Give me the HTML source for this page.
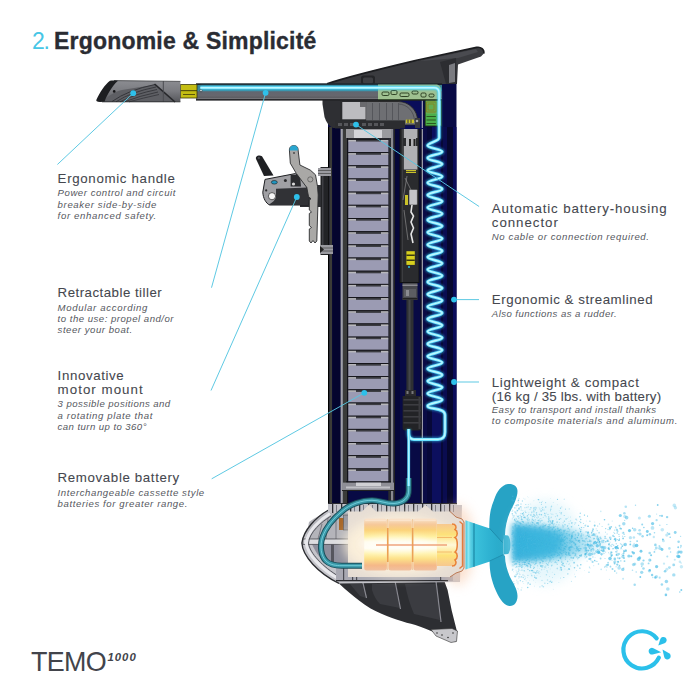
<!DOCTYPE html>
<html><head><meta charset="utf-8"><style>
html,body{margin:0;padding:0;background:#ffffff;}
body{width:690px;height:690px;position:relative;overflow:hidden;font-family:"Liberation Sans",sans-serif;}
.t{position:absolute;white-space:nowrap;line-height:1;}
</style></head><body>
<svg width="690" height="690" viewBox="0 0 690 690" style="position:absolute;left:0;top:0"><defs>
<radialGradient id="glow" cx="0.45" cy="0.5" r="0.6">
 <stop offset="0" stop-color="#fffdf0"/>
 <stop offset="0.45" stop-color="#fff2c8"/>
 <stop offset="0.8" stop-color="#f8c99a"/>
 <stop offset="1" stop-color="#f0b088"/>
</radialGradient>
<linearGradient id="cyl" x1="0" y1="0" x2="0" y2="1">
 <stop offset="0" stop-color="#f8e2cc"/>
 <stop offset="0.12" stop-color="#f6c898"/>
 <stop offset="0.22" stop-color="#fbd27a"/>
 <stop offset="0.35" stop-color="#fff0a0"/>
 <stop offset="0.45" stop-color="#fffbe6"/>
 <stop offset="0.57" stop-color="#fffdf2"/>
 <stop offset="0.68" stop-color="#fff3b0"/>
 <stop offset="0.78" stop-color="#fce088"/>
 <stop offset="0.9" stop-color="#f5b888"/>
 <stop offset="1" stop-color="#f0c0a0"/>
</linearGradient>
<linearGradient id="cyl2" x1="0" y1="0" x2="0" y2="1">
 <stop offset="0" stop-color="#f7c890"/>
 <stop offset="0.25" stop-color="#fde27a"/>
 <stop offset="0.5" stop-color="#fff8d8"/>
 <stop offset="0.75" stop-color="#fde27a"/>
 <stop offset="1" stop-color="#f7c890"/>
</linearGradient>
<linearGradient id="core" x1="0" y1="0" x2="1" y2="0">
 <stop offset="0" stop-color="#29abd9" stop-opacity="0.95"/>
 <stop offset="0.45" stop-color="#33b2dd" stop-opacity="0.75"/>
 <stop offset="1" stop-color="#6cc8ea" stop-opacity="0"/>
</linearGradient>
<radialGradient id="spr" cx="0.3" cy="0.5" r="0.7">
 <stop offset="0" stop-color="#2fb1dc" stop-opacity="0.95"/>
 <stop offset="0.5" stop-color="#45bde2" stop-opacity="0.6"/>
 <stop offset="1" stop-color="#7fd3ee" stop-opacity="0"/>
</radialGradient>
<radialGradient id="spr2" cx="0.2" cy="0.5" r="0.8">
 <stop offset="0" stop-color="#8fd6ee" stop-opacity="0.7"/>
 <stop offset="1" stop-color="#cfeef8" stop-opacity="0"/>
</radialGradient>
<linearGradient id="hub" x1="0" y1="0" x2="1" y2="0">
 <stop offset="0" stop-color="#3cc2dc"/>
 <stop offset="0.5" stop-color="#2fb3d2"/>
 <stop offset="1" stop-color="#27a8c8"/>
</linearGradient>
<linearGradient id="ring" x1="0" y1="0" x2="1" y2="0">
 <stop offset="0" stop-color="#46c4dc"/>
 <stop offset="0.35" stop-color="#8ae8f4"/>
 <stop offset="0.6" stop-color="#5cd0e4"/>
 <stop offset="1" stop-color="#38bcd8"/>
</linearGradient>
<linearGradient id="tube" x1="0" y1="0" x2="0" y2="1">
 <stop offset="0" stop-color="#1e2226"/>
 <stop offset="0.09" stop-color="#1e2428"/>
 <stop offset="0.12" stop-color="#3a7f90"/>
 <stop offset="0.45" stop-color="#3a8ea4"/>
 <stop offset="0.48" stop-color="#626670"/>
 <stop offset="0.7" stop-color="#66676e"/>
 <stop offset="0.85" stop-color="#5c5d62"/>
 <stop offset="0.88" stop-color="#737378"/>
 <stop offset="0.92" stop-color="#2a2a2e"/>
 <stop offset="1" stop-color="#1e1f22"/>
</linearGradient>
<linearGradient id="grip" x1="0" y1="0" x2="0" y2="1">
 <stop offset="0" stop-color="#8c8d92"/>
 <stop offset="0.5" stop-color="#7a7b80"/>
 <stop offset="1" stop-color="#56575c"/>
</linearGradient>
<filter id="blur1" x="-20%" y="-20%" width="140%" height="140%"><feGaussianBlur stdDeviation="1.2"/></filter>
<filter id="blur3" x="-30%" y="-30%" width="160%" height="160%"><feGaussianBlur stdDeviation="3"/></filter>
<filter id="blur6" x="-30%" y="-30%" width="160%" height="160%"><feGaussianBlur stdDeviation="6"/></filter>
</defs>
<rect x="328" y="84" width="128.5" height="420" fill="#080a45"/>
<rect x="328" y="127" width="1.3" height="376" fill="#000"/>
<rect x="329.3" y="127" width="3" height="376" fill="#3a3b36"/>
<rect x="332.3" y="127" width="8.5" height="376" fill="#04052e"/>
<rect x="340.6" y="127" width="2.3" height="376" fill="#a0a0a8"/>
<rect x="342.9" y="127" width="4.4" height="376" fill="#3a3b3a"/>
<rect x="347.2" y="127" width="1" height="376" fill="#111"/>
<rect x="388.3" y="127" width="2.7" height="376" fill="#2a2b30"/>
<rect x="391" y="127" width="2.5" height="376" fill="#8a8a90"/>
<rect x="393.5" y="127" width="1.5" height="376" fill="#222"/>
<rect x="395" y="127" width="5" height="376" fill="#06073a"/>
<rect x="420.5" y="127" width="1.2" height="376" fill="#111"/>
<rect x="421.7" y="127" width="1.3" height="376" fill="#9a9aa8"/>
<rect x="423" y="127" width="4" height="376" fill="#0a0b45"/>
<rect x="427" y="127" width="5" height="376" fill="#070838"/>
<rect x="432" y="127" width="9" height="376" fill="#0c0f5e"/>
<rect x="441" y="127" width="2" height="376" fill="#070838"/>
<rect x="443" y="127" width="4" height="376" fill="#0a0c50"/>
<rect x="447" y="127" width="6" height="376" fill="#06072e"/>
<rect x="453" y="127" width="3.5" height="376" fill="#0a0b5a"/>
<rect x="399.5" y="110" width="20" height="173" fill="#111214"/>
<rect x="400.5" y="110" width="18" height="172" fill="#2a2b2e"/>
<rect x="402" y="112" width="1" height="170" fill="#3c3d40"/>
<rect x="406" y="120" width="10" height="2.5" fill="#c9c12a"/>
<path d="M403.8,122.4 L417.4,122.4 L417.4,138 L403.8,138 Z M406,138 L416,138 L416,146 L406,146 Z M403.8,146 L417.4,146 L417.4,169.5 L403.8,169.5 Z" fill="#b0b0b4"/>
<rect x="409" y="139" width="2" height="7" fill="#222"/>
<rect x="413.5" y="139" width="2" height="7" fill="#222"/>
<rect x="406" y="170" width="10" height="3" fill="#c9c12a"/>
<rect x="406" y="171" width="10" height="0.8" fill="#333"/>
<rect x="409" y="189.4" width="8.4" height="15.6" rx="1" fill="#c4c4c8" stroke="#333" stroke-width="0.6"/>
<path d="M412,205 L411,212 L413.5,216 L411,222 L413.5,228 L411,234 L413,243" fill="none" stroke="#e6e6e6" stroke-width="1.6"/>
<path d="M405,178 L411,190 M407,176 L403,200 M404,210 L408,240" fill="none" stroke="#9a9a9a" stroke-width="0.6"/>
<rect x="405" y="195" width="3" height="10" fill="#c9c12a"/>
<rect x="406.4" y="251.2" width="8.4" height="13.7" fill="#d6cf1e"/>
<rect x="406.4" y="254.5" width="8.4" height="1.5" fill="#3a3a10"/>
<rect x="406.4" y="259.5" width="8.4" height="1.5" fill="#3a3a10"/>
<circle cx="409" cy="267" r="1" fill="#2ec0ea"/>
<rect x="402.5" y="283" width="15" height="17" fill="#48494e"/>
<rect x="402.5" y="284.5" width="15" height="1.5" fill="#8a8a90"/>
<rect x="404" y="289" width="12" height="8" fill="#5c5d62"/>
<rect x="406" y="290" width="3" height="6" fill="#8a8b90"/>
<rect x="402.5" y="298" width="15" height="1.5" fill="#222"/>
<rect x="406.4" y="300" width="7.1" height="93" fill="#2e3033"/>
<rect x="408.5" y="300" width="2" height="93" fill="#44464a"/>
<rect x="405" y="390" width="11" height="6" fill="#2a2a2d"/>
<rect x="406.5" y="391" width="2" height="3" fill="#77777a"/><rect x="411.5" y="391" width="2" height="3" fill="#77777a"/>
<path d="M402.6,396 L421.7,396 L421.7,428 C421.7,429.5 420.5,430.5 419,430.5 L405,430.5 C403.5,430.5 402.6,429.5 402.6,428 Z" fill="#222326"/>
<rect x="403.5" y="399" width="17.3" height="1.6" fill="#3c3d41"/>
<rect x="403.5" y="404" width="17.3" height="1.6" fill="#3c3d41"/>
<rect x="403.5" y="410" width="17.3" height="1.6" fill="#3c3d41"/>
<rect x="403.5" y="416" width="17.3" height="1.6" fill="#3c3d41"/>
<rect x="403.5" y="422" width="17.3" height="1.6" fill="#3c3d41"/>
<rect x="418.5" y="397" width="2" height="32" fill="#3a3b3f"/>
<rect x="348" y="129" width="40.5" height="362" fill="#2a2a30"/>
<rect x="346" y="128" width="45" height="10" fill="#9a9a9e"/>
<rect x="354" y="130" width="28" height="8" fill="#d4d4d8"/>
<rect x="348.3" y="141.1" width="40" height="11" fill="#9b9bb3"/>
<rect x="348.3" y="138.9" width="40" height="1" fill="#15151a"/>
<rect x="356" y="139.9" width="25" height="1.6" fill="#3a3b40"/>
<rect x="348.3" y="139.9" width="7.7" height="1.6" fill="#b8b8bc"/>
<rect x="381" y="139.9" width="7.3" height="1.6" fill="#b8b8bc"/>
<rect x="348.3" y="154.3" width="40" height="11" fill="#9b9bb3"/>
<rect x="348.3" y="152.1" width="40" height="1" fill="#15151a"/>
<rect x="356" y="153.1" width="25" height="1.6" fill="#3a3b40"/>
<rect x="348.3" y="153.1" width="7.7" height="1.6" fill="#b8b8bc"/>
<rect x="381" y="153.1" width="7.3" height="1.6" fill="#b8b8bc"/>
<rect x="348.3" y="167.5" width="40" height="11" fill="#9b9bb3"/>
<rect x="348.3" y="165.3" width="40" height="1" fill="#15151a"/>
<rect x="356" y="166.3" width="25" height="1.6" fill="#3a3b40"/>
<rect x="348.3" y="166.3" width="7.7" height="1.6" fill="#b8b8bc"/>
<rect x="381" y="166.3" width="7.3" height="1.6" fill="#b8b8bc"/>
<rect x="348.3" y="180.6" width="40" height="11" fill="#9b9bb3"/>
<rect x="348.3" y="178.4" width="40" height="1" fill="#15151a"/>
<rect x="356" y="179.4" width="25" height="1.6" fill="#3a3b40"/>
<rect x="348.3" y="179.4" width="7.7" height="1.6" fill="#b8b8bc"/>
<rect x="381" y="179.4" width="7.3" height="1.6" fill="#b8b8bc"/>
<rect x="348.3" y="193.8" width="40" height="11" fill="#9b9bb3"/>
<rect x="348.3" y="191.6" width="40" height="1" fill="#15151a"/>
<rect x="356" y="192.6" width="25" height="1.6" fill="#3a3b40"/>
<rect x="348.3" y="192.6" width="7.7" height="1.6" fill="#b8b8bc"/>
<rect x="381" y="192.6" width="7.3" height="1.6" fill="#b8b8bc"/>
<rect x="348.3" y="207" width="40" height="11" fill="#9b9bb3"/>
<rect x="348.3" y="204.8" width="40" height="1" fill="#15151a"/>
<rect x="356" y="205.8" width="25" height="1.6" fill="#3a3b40"/>
<rect x="348.3" y="205.8" width="7.7" height="1.6" fill="#b8b8bc"/>
<rect x="381" y="205.8" width="7.3" height="1.6" fill="#b8b8bc"/>
<rect x="348.3" y="220.2" width="40" height="11" fill="#9b9bb3"/>
<rect x="348.3" y="218" width="40" height="1" fill="#15151a"/>
<rect x="356" y="219" width="25" height="1.6" fill="#3a3b40"/>
<rect x="348.3" y="219" width="7.7" height="1.6" fill="#b8b8bc"/>
<rect x="381" y="219" width="7.3" height="1.6" fill="#b8b8bc"/>
<rect x="348.3" y="233.4" width="40" height="11" fill="#9b9bb3"/>
<rect x="348.3" y="231.2" width="40" height="1" fill="#15151a"/>
<rect x="356" y="232.2" width="25" height="1.6" fill="#3a3b40"/>
<rect x="348.3" y="232.2" width="7.7" height="1.6" fill="#b8b8bc"/>
<rect x="381" y="232.2" width="7.3" height="1.6" fill="#b8b8bc"/>
<rect x="348.3" y="246.5" width="40" height="11" fill="#9b9bb3"/>
<rect x="348.3" y="244.3" width="40" height="1" fill="#15151a"/>
<rect x="356" y="245.3" width="25" height="1.6" fill="#3a3b40"/>
<rect x="348.3" y="245.3" width="7.7" height="1.6" fill="#b8b8bc"/>
<rect x="381" y="245.3" width="7.3" height="1.6" fill="#b8b8bc"/>
<rect x="348.3" y="259.7" width="40" height="11" fill="#9b9bb3"/>
<rect x="348.3" y="257.5" width="40" height="1" fill="#15151a"/>
<rect x="356" y="258.5" width="25" height="1.6" fill="#3a3b40"/>
<rect x="348.3" y="258.5" width="7.7" height="1.6" fill="#b8b8bc"/>
<rect x="381" y="258.5" width="7.3" height="1.6" fill="#b8b8bc"/>
<rect x="348.3" y="272.9" width="40" height="11" fill="#9b9bb3"/>
<rect x="348.3" y="270.7" width="40" height="1" fill="#15151a"/>
<rect x="356" y="271.7" width="25" height="1.6" fill="#3a3b40"/>
<rect x="348.3" y="271.7" width="7.7" height="1.6" fill="#b8b8bc"/>
<rect x="381" y="271.7" width="7.3" height="1.6" fill="#b8b8bc"/>
<rect x="348.3" y="286.1" width="40" height="11" fill="#9b9bb3"/>
<rect x="348.3" y="283.9" width="40" height="1" fill="#15151a"/>
<rect x="356" y="284.9" width="25" height="1.6" fill="#3a3b40"/>
<rect x="348.3" y="284.9" width="7.7" height="1.6" fill="#b8b8bc"/>
<rect x="381" y="284.9" width="7.3" height="1.6" fill="#b8b8bc"/>
<rect x="348.3" y="299.3" width="40" height="11" fill="#9b9bb3"/>
<rect x="348.3" y="297.1" width="40" height="1" fill="#15151a"/>
<rect x="356" y="298.1" width="25" height="1.6" fill="#3a3b40"/>
<rect x="348.3" y="298.1" width="7.7" height="1.6" fill="#b8b8bc"/>
<rect x="381" y="298.1" width="7.3" height="1.6" fill="#b8b8bc"/>
<rect x="348.3" y="312.4" width="40" height="11" fill="#9b9bb3"/>
<rect x="348.3" y="310.2" width="40" height="1" fill="#15151a"/>
<rect x="356" y="311.2" width="25" height="1.6" fill="#3a3b40"/>
<rect x="348.3" y="311.2" width="7.7" height="1.6" fill="#b8b8bc"/>
<rect x="381" y="311.2" width="7.3" height="1.6" fill="#b8b8bc"/>
<rect x="348.3" y="325.6" width="40" height="11" fill="#9b9bb3"/>
<rect x="348.3" y="323.4" width="40" height="1" fill="#15151a"/>
<rect x="356" y="324.4" width="25" height="1.6" fill="#3a3b40"/>
<rect x="348.3" y="324.4" width="7.7" height="1.6" fill="#b8b8bc"/>
<rect x="381" y="324.4" width="7.3" height="1.6" fill="#b8b8bc"/>
<rect x="348.3" y="338.8" width="40" height="11" fill="#9b9bb3"/>
<rect x="348.3" y="336.6" width="40" height="1" fill="#15151a"/>
<rect x="356" y="337.6" width="25" height="1.6" fill="#3a3b40"/>
<rect x="348.3" y="337.6" width="7.7" height="1.6" fill="#b8b8bc"/>
<rect x="381" y="337.6" width="7.3" height="1.6" fill="#b8b8bc"/>
<rect x="348.3" y="352" width="40" height="11" fill="#9b9bb3"/>
<rect x="348.3" y="349.8" width="40" height="1" fill="#15151a"/>
<rect x="356" y="350.8" width="25" height="1.6" fill="#3a3b40"/>
<rect x="348.3" y="350.8" width="7.7" height="1.6" fill="#b8b8bc"/>
<rect x="381" y="350.8" width="7.3" height="1.6" fill="#b8b8bc"/>
<rect x="348.3" y="365.2" width="40" height="11" fill="#9b9bb3"/>
<rect x="348.3" y="363" width="40" height="1" fill="#15151a"/>
<rect x="356" y="364" width="25" height="1.6" fill="#3a3b40"/>
<rect x="348.3" y="364" width="7.7" height="1.6" fill="#b8b8bc"/>
<rect x="381" y="364" width="7.3" height="1.6" fill="#b8b8bc"/>
<rect x="348.3" y="378.3" width="40" height="11" fill="#9b9bb3"/>
<rect x="348.3" y="376.1" width="40" height="1" fill="#15151a"/>
<rect x="356" y="377.1" width="25" height="1.6" fill="#3a3b40"/>
<rect x="348.3" y="377.1" width="7.7" height="1.6" fill="#b8b8bc"/>
<rect x="381" y="377.1" width="7.3" height="1.6" fill="#b8b8bc"/>
<rect x="348.3" y="391.5" width="40" height="11" fill="#9b9bb3"/>
<rect x="348.3" y="389.3" width="40" height="1" fill="#15151a"/>
<rect x="356" y="390.3" width="25" height="1.6" fill="#3a3b40"/>
<rect x="348.3" y="390.3" width="7.7" height="1.6" fill="#b8b8bc"/>
<rect x="381" y="390.3" width="7.3" height="1.6" fill="#b8b8bc"/>
<rect x="348.3" y="404.7" width="40" height="11" fill="#9b9bb3"/>
<rect x="348.3" y="402.5" width="40" height="1" fill="#15151a"/>
<rect x="356" y="403.5" width="25" height="1.6" fill="#3a3b40"/>
<rect x="348.3" y="403.5" width="7.7" height="1.6" fill="#b8b8bc"/>
<rect x="381" y="403.5" width="7.3" height="1.6" fill="#b8b8bc"/>
<rect x="348.3" y="417.9" width="40" height="11" fill="#9b9bb3"/>
<rect x="348.3" y="415.7" width="40" height="1" fill="#15151a"/>
<rect x="356" y="416.7" width="25" height="1.6" fill="#3a3b40"/>
<rect x="348.3" y="416.7" width="7.7" height="1.6" fill="#b8b8bc"/>
<rect x="381" y="416.7" width="7.3" height="1.6" fill="#b8b8bc"/>
<rect x="348.3" y="431.1" width="40" height="11" fill="#9b9bb3"/>
<rect x="348.3" y="428.9" width="40" height="1" fill="#15151a"/>
<rect x="356" y="429.9" width="25" height="1.6" fill="#3a3b40"/>
<rect x="348.3" y="429.9" width="7.7" height="1.6" fill="#b8b8bc"/>
<rect x="381" y="429.9" width="7.3" height="1.6" fill="#b8b8bc"/>
<rect x="348.3" y="444.2" width="40" height="11" fill="#9b9bb3"/>
<rect x="348.3" y="442" width="40" height="1" fill="#15151a"/>
<rect x="356" y="443" width="25" height="1.6" fill="#3a3b40"/>
<rect x="348.3" y="443" width="7.7" height="1.6" fill="#b8b8bc"/>
<rect x="381" y="443" width="7.3" height="1.6" fill="#b8b8bc"/>
<rect x="348.3" y="457.4" width="40" height="11" fill="#9b9bb3"/>
<rect x="348.3" y="455.2" width="40" height="1" fill="#15151a"/>
<rect x="356" y="456.2" width="25" height="1.6" fill="#3a3b40"/>
<rect x="348.3" y="456.2" width="7.7" height="1.6" fill="#b8b8bc"/>
<rect x="381" y="456.2" width="7.3" height="1.6" fill="#b8b8bc"/>
<rect x="348.3" y="470.6" width="40" height="11" fill="#9b9bb3"/>
<rect x="348.3" y="468.4" width="40" height="1" fill="#15151a"/>
<rect x="356" y="469.4" width="25" height="1.6" fill="#3a3b40"/>
<rect x="348.3" y="469.4" width="7.7" height="1.6" fill="#b8b8bc"/>
<rect x="381" y="469.4" width="7.3" height="1.6" fill="#b8b8bc"/>
<rect x="346" y="481.3" width="45" height="1.3" fill="#15151a"/>
<rect x="342" y="482.6" width="52" height="8" fill="#8e8e96"/>
<rect x="356" y="482.6" width="25" height="3.4" fill="#d0d0d4"/>
<rect x="346" y="486.5" width="44" height="2" fill="#c0c0c6"/>
<rect x="342" y="490" width="52" height="1" fill="#222"/>
<path d="M322.5,100 L340,100 L340,128 L333,128 C329,126 326,122 324.5,117 L322.5,104 Z" fill="#2e2f33"/>
<rect x="340" y="100" width="60" height="29" fill="#2a2b2e"/>
<rect x="400" y="100" width="23" height="29" fill="#0a0d5a"/>
<path d="M365.6,101.5 L398,101.5 C409,101.5 417.6,110 417.6,121 L417.6,125 L365.6,125 Z" fill="#6e6f73" stroke="#222" stroke-width="0.8"/>
<path d="M398,104 C407,104 414,111 414.5,121" fill="none" stroke="#4a4b50" stroke-width="0.8"/>
<rect x="342.3" y="102" width="23.3" height="17.3" fill="#bcbcc0"/>
<rect x="360" y="102" width="6" height="5" fill="#6a6a6e"/>
<rect x="372" y="103" width="1" height="17" fill="#55565b"/>
<rect x="379" y="103" width="1" height="17" fill="#55565b"/>
<rect x="386" y="103" width="1" height="17" fill="#55565b"/>
<rect x="392" y="103" width="1" height="17" fill="#55565b"/>
<rect x="398" y="103" width="1" height="17" fill="#55565b"/>
<rect x="335" y="120.4" width="70" height="8" fill="#2c2d30"/>
<rect x="338" y="123" width="4" height="3" fill="#55565a"/>
<rect x="344" y="123" width="4" height="3" fill="#55565a"/>
<rect x="350" y="123" width="4" height="3" fill="#55565a"/>
<rect x="362" y="123" width="4" height="3" fill="#55565a"/>
<rect x="368" y="123" width="4" height="3" fill="#55565a"/>
<rect x="374" y="123" width="4" height="3" fill="#55565a"/>
<rect x="380" y="123" width="4" height="3" fill="#55565a"/>
<rect x="405.9" y="119.6" width="8.1" height="3.5" fill="#c9c12a"/>
<rect x="421.7" y="100" width="1.3" height="28" fill="#9a9aa8"/>
<rect x="407.5" y="119.6" width="1" height="3.5" fill="#333"/><rect x="410.5" y="119.6" width="1" height="3.5" fill="#333"/>
<rect x="415" y="118" width="5" height="10" fill="#3a3b3e"/>
<circle cx="417" cy="121" r="1.3" fill="#aaa"/>
<path d="M378,84 L436,84 C439,84 441.5,86.5 441.5,90 L441.5,126 L425.2,126 L425.2,100 L378,100 Z" fill="#a4c994"/>
<rect x="425.2" y="100" width="12.1" height="26" fill="#62ad52"/>
<rect x="425.2" y="114" width="12.1" height="12" fill="#4caf4a"/>
<path d="M378,84 L436,84 C439,84 441.5,86.5 441.5,90 L441.5,126 L425.2,126 L425.2,100 L378,100 Z" fill="none" stroke="#1e2e14" stroke-width="0.9"/>
<rect x="383" y="92" width="7" height="3" rx="1" fill="none" stroke="#22361a" stroke-width="0.8"/>
<rect x="392" y="90" width="6" height="4" rx="1" fill="none" stroke="#22361a" stroke-width="0.8"/>
<rect x="401" y="93" width="9" height="3" rx="1" fill="none" stroke="#22361a" stroke-width="0.8"/>
<rect x="413" y="90" width="6" height="3" rx="1" fill="none" stroke="#22361a" stroke-width="0.8"/>
<rect x="422" y="93" width="5" height="4" rx="1" fill="none" stroke="#22361a" stroke-width="0.8"/>
<rect x="430" y="95" width="4" height="3" rx="1" fill="none" stroke="#22361a" stroke-width="0.8"/>
<path d="M426.5,102 L436,102 L436,112 L426.5,112 Z M428,104 L434,104 L434,110 L428,110 Z" fill="none" stroke="#8a8420" stroke-width="0.9"/>
<rect x="426.5" y="116" width="9.5" height="1" fill="#2a5a20"/>
<rect x="426.5" y="119.5" width="9.5" height="1" fill="#2a5a20"/>
<rect x="426.5" y="123" width="9.5" height="1" fill="#2a5a20"/>
<path d="M327,83.8 C350,76 380,69 420,59.5 L476.5,47.4 C481,46.5 484.5,49.5 483.8,53.5 L481,56.5 L458,64.5 L457,84 L327,84 Z" fill="#3a3b3f"/>
<path d="M327,83.8 C350,76 380,69 420,59.5 L476.5,47.4 C481,46.5 484.5,49.5 483.8,53.5" fill="none" stroke="#1c1d20" stroke-width="1.6"/>
<path d="M420,61 L476,49 L478,52 L458,58 Z" fill="#4a4b50"/>
<path d="M440,62 L456,58 L457,84 L446,84 Z" fill="#2c2d31"/>
<path d="M449,65 L455,63 L455,82 L449,83 Z" fill="#7a7b80"/>
<rect x="361" y="75.5" width="14" height="9" rx="2.5" fill="#242528"/>
<rect x="363" y="77.5" width="10" height="6" rx="1.5" fill="#3e3f43"/>
<rect x="196" y="83.3" width="246" height="17.3" fill="url(#tube)"/>
<path d="M378,84.5 L436,84.5 C439,84.5 441,87 441,90 L441,100 L378,100 Z" fill="#a4c994" opacity="0.92"/>
<rect x="382" y="92" width="7" height="3.5" rx="1.2" fill="none" stroke="#22361a" stroke-width="0.9"/>
<rect x="391" y="90.5" width="6" height="4" rx="1.2" fill="none" stroke="#22361a" stroke-width="0.9"/>
<rect x="400" y="93" width="9" height="3.5" rx="1.2" fill="none" stroke="#22361a" stroke-width="0.9"/>
<rect x="412" y="91" width="6" height="3" rx="1.2" fill="none" stroke="#22361a" stroke-width="0.9"/>
<rect x="421" y="93" width="5" height="4" rx="1.2" fill="none" stroke="#22361a" stroke-width="0.9"/>
<rect x="429" y="94" width="5" height="3" rx="1.2" fill="none" stroke="#22361a" stroke-width="0.9"/>
<path d="M378,99.5 L441,99.5" stroke="#22361a" stroke-width="0.8"/>
<rect x="180.4" y="84.6" width="16.6" height="13.4" fill="#c4bd12"/>
<rect x="180.4" y="90" width="16.6" height="1.2" fill="#5a5508"/>
<rect x="183" y="94" width="12" height="1" fill="#5a5508"/>
<rect x="180.4" y="84.6" width="16.6" height="13.4" fill="none" stroke="#3a3808" stroke-width="0.8"/>
<circle cx="201" cy="90.5" r="1.3" fill="#ddd" stroke="#222" stroke-width="0.6"/>
<path d="M114,80.6 L180.4,81.4 L180.4,101.8 L102,101.8 Z" fill="url(#grip)"/>
<path d="M103,101.8 C108,96 114,92 122,90 L156,84.5 L176,101.8 Z" fill="#5e5f64"/>
<path d="M112,101.5 Q128,90 155,84.5" fill="none" stroke="#34353a" stroke-width="1.0"/>
<path d="M116,101.8 Q131,92 156,87" fill="none" stroke="#34353a" stroke-width="0.9"/>
<path d="M120,101.8 Q135,94 157,89.5" fill="none" stroke="#34353a" stroke-width="0.9"/>
<path d="M124.5,101.8 Q139,96 158,92" fill="none" stroke="#34353a" stroke-width="0.9"/>
<path d="M129,101.8 Q143,98 159,94.5" fill="none" stroke="#34353a" stroke-width="0.8"/>
<path d="M154.5,84 L175,102" stroke="#26272a" stroke-width="1.6"/>
<line x1="163.3" y1="81.2" x2="163.3" y2="101.8" stroke="#4a4b50" stroke-width="1"/>
<path d="M114,80.6 L180.4,81.4" stroke="#3a3b3e" stroke-width="0.8"/>
<path d="M96.5,99.5 C100,92 105,84.5 110,80.8 C112,80.2 116,80.4 118,80.8 C112,86 107,95 104.5,101.8 L100,101.9 C97,101.9 95.6,101 96.5,99.5 Z" fill="#1d1e21"/>
<path d="M102,101.8 L180.4,101.8" stroke="#2a2b2e" stroke-width="0.9"/>
<circle cx="114.2" cy="91.4" r="1.3" fill="#151517"/>
<path d="M200.4,87.8 L434,87.8 Q439.1,87.8 439.1,93 L439.1,138 C439.1,141 427.6,142.9 427.6,145.5 C427.6,148.1 442.2,149.1 442.2,151.7 C442.2,154.3 427.6,155.3 427.6,157.9 C427.6,160.5 442.2,161.5 442.2,164.1 C442.2,166.7 427.6,167.7 427.6,170.3 C427.6,172.9 442.2,173.9 442.2,176.5 C442.2,179.1 427.6,180.1 427.6,182.7 C427.6,185.3 442.2,186.3 442.2,188.9 C442.2,191.5 427.6,192.5 427.6,195.1 C427.6,197.7 442.2,198.7 442.2,201.3 C442.2,203.9 427.6,204.9 427.6,207.5 C427.6,210.1 442.2,211.1 442.2,213.7 C442.2,216.3 427.6,217.3 427.6,219.9 C427.6,222.5 442.2,223.5 442.2,226.1 C442.2,228.7 427.6,229.7 427.6,232.3 C427.6,234.9 442.2,235.9 442.2,238.5 C442.2,241.1 427.6,242.1 427.6,244.7 C427.6,247.3 442.2,248.3 442.2,250.9 C442.2,253.5 427.6,254.5 427.6,257.1 C427.6,259.7 442.2,260.7 442.2,263.3 C442.2,265.9 427.6,266.9 427.6,269.5 C427.6,272.1 442.2,273.1 442.2,275.7 C442.2,278.3 427.6,279.3 427.6,281.9 C427.6,284.5 442.2,285.5 442.2,288.1 C442.2,290.7 427.6,291.7 427.6,294.3 C427.6,296.9 442.2,297.9 442.2,300.5 C442.2,303.1 427.6,304.1 427.6,306.7 C427.6,309.3 442.2,310.3 442.2,312.9 C442.2,315.5 427.6,316.5 427.6,319.1 C427.6,321.7 442.2,322.7 442.2,325.3 C442.2,327.9 427.6,328.9 427.6,331.5 C427.6,334.1 442.2,335.1 442.2,337.7 C442.2,340.3 427.6,341.3 427.6,343.9 C427.6,346.5 442.2,347.5 442.2,350.1 C442.2,352.7 427.6,353.7 427.6,356.3 C427.6,358.9 442.2,359.9 442.2,362.5 C442.2,365.1 427.6,366.1 427.6,368.7 C427.6,371.3 442.2,372.3 442.2,374.9 C442.2,377.5 427.6,378.5 427.6,381.1 C427.6,383.7 442.2,384.7 442.2,387.3 C442.2,389.9 427.6,390.9 427.6,393.5 C427.6,396.1 442.2,397.1 442.2,399.7 C442.2,402.3 427.6,403.3 427.6,405.9 C427.6,409.9 445,407 445,415 L445,432 Q445,439.4 438,439.4 L414,439.4 Q408.7,439.4 408.7,433 L408.7,429" fill="none" stroke="#30c8f4" stroke-width="4.6" opacity="0.55" filter="url(#blur1)"/>
<path d="M200.4,87.8 L434,87.8 Q439.1,87.8 439.1,93 L439.1,138 C439.1,141 427.6,142.9 427.6,145.5 C427.6,148.1 442.2,149.1 442.2,151.7 C442.2,154.3 427.6,155.3 427.6,157.9 C427.6,160.5 442.2,161.5 442.2,164.1 C442.2,166.7 427.6,167.7 427.6,170.3 C427.6,172.9 442.2,173.9 442.2,176.5 C442.2,179.1 427.6,180.1 427.6,182.7 C427.6,185.3 442.2,186.3 442.2,188.9 C442.2,191.5 427.6,192.5 427.6,195.1 C427.6,197.7 442.2,198.7 442.2,201.3 C442.2,203.9 427.6,204.9 427.6,207.5 C427.6,210.1 442.2,211.1 442.2,213.7 C442.2,216.3 427.6,217.3 427.6,219.9 C427.6,222.5 442.2,223.5 442.2,226.1 C442.2,228.7 427.6,229.7 427.6,232.3 C427.6,234.9 442.2,235.9 442.2,238.5 C442.2,241.1 427.6,242.1 427.6,244.7 C427.6,247.3 442.2,248.3 442.2,250.9 C442.2,253.5 427.6,254.5 427.6,257.1 C427.6,259.7 442.2,260.7 442.2,263.3 C442.2,265.9 427.6,266.9 427.6,269.5 C427.6,272.1 442.2,273.1 442.2,275.7 C442.2,278.3 427.6,279.3 427.6,281.9 C427.6,284.5 442.2,285.5 442.2,288.1 C442.2,290.7 427.6,291.7 427.6,294.3 C427.6,296.9 442.2,297.9 442.2,300.5 C442.2,303.1 427.6,304.1 427.6,306.7 C427.6,309.3 442.2,310.3 442.2,312.9 C442.2,315.5 427.6,316.5 427.6,319.1 C427.6,321.7 442.2,322.7 442.2,325.3 C442.2,327.9 427.6,328.9 427.6,331.5 C427.6,334.1 442.2,335.1 442.2,337.7 C442.2,340.3 427.6,341.3 427.6,343.9 C427.6,346.5 442.2,347.5 442.2,350.1 C442.2,352.7 427.6,353.7 427.6,356.3 C427.6,358.9 442.2,359.9 442.2,362.5 C442.2,365.1 427.6,366.1 427.6,368.7 C427.6,371.3 442.2,372.3 442.2,374.9 C442.2,377.5 427.6,378.5 427.6,381.1 C427.6,383.7 442.2,384.7 442.2,387.3 C442.2,389.9 427.6,390.9 427.6,393.5 C427.6,396.1 442.2,397.1 442.2,399.7 C442.2,402.3 427.6,403.3 427.6,405.9 C427.6,409.9 445,407 445,415 L445,432 Q445,439.4 438,439.4 L414,439.4 Q408.7,439.4 408.7,433 L408.7,429" fill="none" stroke="#66e0ff" stroke-width="3"/>
<path d="M200.4,87.8 L434,87.8 Q439.1,87.8 439.1,93 L439.1,138 C439.1,141 427.6,142.9 427.6,145.5 C427.6,148.1 442.2,149.1 442.2,151.7 C442.2,154.3 427.6,155.3 427.6,157.9 C427.6,160.5 442.2,161.5 442.2,164.1 C442.2,166.7 427.6,167.7 427.6,170.3 C427.6,172.9 442.2,173.9 442.2,176.5 C442.2,179.1 427.6,180.1 427.6,182.7 C427.6,185.3 442.2,186.3 442.2,188.9 C442.2,191.5 427.6,192.5 427.6,195.1 C427.6,197.7 442.2,198.7 442.2,201.3 C442.2,203.9 427.6,204.9 427.6,207.5 C427.6,210.1 442.2,211.1 442.2,213.7 C442.2,216.3 427.6,217.3 427.6,219.9 C427.6,222.5 442.2,223.5 442.2,226.1 C442.2,228.7 427.6,229.7 427.6,232.3 C427.6,234.9 442.2,235.9 442.2,238.5 C442.2,241.1 427.6,242.1 427.6,244.7 C427.6,247.3 442.2,248.3 442.2,250.9 C442.2,253.5 427.6,254.5 427.6,257.1 C427.6,259.7 442.2,260.7 442.2,263.3 C442.2,265.9 427.6,266.9 427.6,269.5 C427.6,272.1 442.2,273.1 442.2,275.7 C442.2,278.3 427.6,279.3 427.6,281.9 C427.6,284.5 442.2,285.5 442.2,288.1 C442.2,290.7 427.6,291.7 427.6,294.3 C427.6,296.9 442.2,297.9 442.2,300.5 C442.2,303.1 427.6,304.1 427.6,306.7 C427.6,309.3 442.2,310.3 442.2,312.9 C442.2,315.5 427.6,316.5 427.6,319.1 C427.6,321.7 442.2,322.7 442.2,325.3 C442.2,327.9 427.6,328.9 427.6,331.5 C427.6,334.1 442.2,335.1 442.2,337.7 C442.2,340.3 427.6,341.3 427.6,343.9 C427.6,346.5 442.2,347.5 442.2,350.1 C442.2,352.7 427.6,353.7 427.6,356.3 C427.6,358.9 442.2,359.9 442.2,362.5 C442.2,365.1 427.6,366.1 427.6,368.7 C427.6,371.3 442.2,372.3 442.2,374.9 C442.2,377.5 427.6,378.5 427.6,381.1 C427.6,383.7 442.2,384.7 442.2,387.3 C442.2,389.9 427.6,390.9 427.6,393.5 C427.6,396.1 442.2,397.1 442.2,399.7 C442.2,402.3 427.6,403.3 427.6,405.9 C427.6,409.9 445,407 445,415 L445,432 Q445,439.4 438,439.4 L414,439.4 Q408.7,439.4 408.7,433 L408.7,429" fill="none" stroke="#c0f8ff" stroke-width="1.4"/>
<path d="M334,579 L443.6,579 L447.6,590 L451.7,610.6 L456.8,630.8 L456,641.5 L451.7,641.5 C440,634 422,627 411,623.8 C400,621 385,616 370.6,608.5 C355,599 342,586 334,579 Z" fill="#2d2e32"/>
<path d="M350,584 L362,584 L366,598 L360,596 Z M372,584 L395,584 L400,608 L380,604 C376,600 374,596 372,590 Z M405,584 L436,584 L440,620 L414,614 C410,605 407,595 405,584 Z" fill="#3b3c41"/>
<line x1="362.5" y1="581" x2="366.5" y2="598" stroke="#8a8a92" stroke-width="1.2"/>
<line x1="395" y1="581" x2="400.5" y2="609" stroke="#8a8a92" stroke-width="1.2"/>
<line x1="436" y1="581" x2="441" y2="622" stroke="#8a8a92" stroke-width="1.2"/>
<path d="M431,629.5 L452,628.5 L457.5,631 L456.5,641.5 L451,642.5 L436,636 Z" fill="#c8c8cc" stroke="#333" stroke-width="0.6"/>
<circle cx="437" cy="633" r="0.8" fill="#333"/>
<circle cx="442" cy="635" r="0.8" fill="#333"/>
<circle cx="448" cy="637.5" r="0.8" fill="#333"/>
<circle cx="453" cy="633" r="0.8" fill="#333"/>
<path d="M328.6,510 C316,517 303.5,530 301.9,543 C302.5,556 318,573 339,583.4 L460,582 L462,505 L328.6,505 Z" fill="#c4c4ca"/>
<path d="M312,544.3 L349,544.3 L349,566 L330,566 C322,562 316,553 312,544.3 Z" fill="#8e8e9c"/>
<path d="M309,522 C315,517 322,514 330,513 L349,513 L349,539 L306,539 Z" fill="#b4b4ba"/>
<path d="M318,539 L322,524 M326,539 L328,518 M336,539 L336,515" stroke="#6a6a72" stroke-width="0.8"/>
<rect x="303" y="539" width="46" height="5.3" fill="#dcdce0" stroke="#3a3a40" stroke-width="0.7"/>
<rect x="331" y="544.3" width="3" height="20" fill="#55555e"/>
<rect x="339" y="518" width="4.6" height="12" fill="#a8682a"/>
<rect x="343.6" y="515" width="6" height="15" fill="#9a9aa2" stroke="#444" stroke-width="0.5"/>
<path d="M328.6,510 C316,517 303.5,530 301.9,543 C302.5,556 318,573 339,583.4" fill="none" stroke="#2b2c30" stroke-width="1.4"/>
<path d="M330,513.5 C319.5,520 307.5,531 306.3,543 C307,554 321,569 339,579" fill="none" stroke="#e8e8ec" stroke-width="3"/>
<path d="M331,516 C321.5,522 309.5,532 308.5,543 C309.5,553 323,567 339,576.5" fill="none" stroke="#4a4b52" stroke-width="0.9"/>
<rect x="328" y="503" width="129" height="10" fill="#c4c4ca"/>
<rect x="332" y="503" width="1.3" height="10" fill="#2e2e34"/>
<rect x="341" y="503" width="1.3" height="10" fill="#2e2e34"/>
<rect x="350" y="503" width="1.3" height="10" fill="#2e2e34"/>
<rect x="359" y="503" width="1.3" height="10" fill="#2e2e34"/>
<rect x="368" y="503" width="1.3" height="10" fill="#2e2e34"/>
<rect x="377" y="503" width="1.3" height="10" fill="#2e2e34"/>
<rect x="386" y="503" width="1.3" height="10" fill="#2e2e34"/>
<rect x="395" y="503" width="1.3" height="10" fill="#2e2e34"/>
<rect x="404" y="503" width="1.3" height="10" fill="#2e2e34"/>
<rect x="413" y="503" width="1.3" height="10" fill="#2e2e34"/>
<rect x="422" y="503" width="1.3" height="10" fill="#2e2e34"/>
<rect x="431" y="503" width="1.3" height="10" fill="#2e2e34"/>
<rect x="440" y="503" width="1.3" height="10" fill="#2e2e34"/>
<rect x="449" y="503" width="1.3" height="10" fill="#2e2e34"/>
<rect x="336" y="505" width="0.8" height="7" fill="#6a6a72"/>
<rect x="345" y="505" width="0.8" height="7" fill="#6a6a72"/>
<rect x="354" y="505" width="0.8" height="7" fill="#6a6a72"/>
<rect x="363" y="505" width="0.8" height="7" fill="#6a6a72"/>
<rect x="372" y="505" width="0.8" height="7" fill="#6a6a72"/>
<rect x="381" y="505" width="0.8" height="7" fill="#6a6a72"/>
<rect x="390" y="505" width="0.8" height="7" fill="#6a6a72"/>
<rect x="399" y="505" width="0.8" height="7" fill="#6a6a72"/>
<rect x="408" y="505" width="0.8" height="7" fill="#6a6a72"/>
<rect x="417" y="505" width="0.8" height="7" fill="#6a6a72"/>
<rect x="426" y="505" width="0.8" height="7" fill="#6a6a72"/>
<rect x="435" y="505" width="0.8" height="7" fill="#6a6a72"/>
<rect x="444" y="505" width="0.8" height="7" fill="#6a6a72"/>
<rect x="453" y="505" width="0.8" height="7" fill="#6a6a72"/>
<rect x="328" y="503" width="129" height="1" fill="#2a2a30"/>
<rect x="336" y="567" width="117" height="14" fill="#a8a8b2"/>
<rect x="343" y="568" width="1.2" height="12" fill="#4a4a52"/>
<rect x="352" y="568" width="1.2" height="12" fill="#4a4a52"/>
<rect x="356" y="568" width="1.2" height="12" fill="#4a4a52"/>
<rect x="440" y="568" width="1.2" height="12" fill="#4a4a52"/>
<rect x="336" y="580" width="112" height="1.3" fill="#2a2a2e"/>
<ellipse cx="458" cy="545" rx="16" ry="40" fill="#f7c8a8" opacity="0.55" filter="url(#blur6)"/>
<path d="M348,511.5 L362,511.5 L369,504.5 L376,511.5 L418,511.5 L425.5,505 L433,511.5 L450,511.5 L456,517 L462,519 L464,522 L464,568 L462,571 L456,573 L450,577 L348,577 Z" fill="#e6ddd4"/>
<path d="M450,511.5 L456,517 L462,519 L464,522 L464,568 L462,571 L456,573 L450,577" fill="none" stroke="#b8714a" stroke-width="0.9"/>
<ellipse cx="400" cy="545" rx="56" ry="30" fill="#fff3dc" opacity="0.85" filter="url(#blur6)"/>
<rect x="364.2" y="518.5" width="22.7" height="52" rx="2.5" fill="url(#cyl)"/>
<rect x="365.2" y="519.5" width="20.7" height="1.6" fill="#fbe4cc"/>
<rect x="388.5" y="518.5" width="23.3" height="52" rx="2.5" fill="url(#cyl)"/>
<rect x="389.5" y="519.5" width="21.3" height="1.6" fill="#fbe4cc"/>
<rect x="413.4" y="518.5" width="23.4" height="52" rx="2.5" fill="url(#cyl)"/>
<rect x="414.4" y="519.5" width="21.4" height="1.6" fill="#fbe4cc"/>
<path d="M437,524 L452,524 C456,524 457,527 455,529.5 C458,531 458,536 455,537.5 C458,539 458,550 455,552 C458,553.5 458,558.5 455,560 C457,562.5 456,566 452,566 L437,566 Z" fill="url(#cyl2)"/>
<path d="M452,524 C456,524 457,527 455,529.5 C458,531 458,536 455,537.5 C458,539 458,550 455,552 C458,553.5 458,558.5 455,560 C457,562.5 456,566 452,566" fill="none" stroke="#e8782a" stroke-width="1.5" opacity="0.9"/>
<path d="M437,537.5 L452,537.5 M437,552 L452,552" stroke="#f2b060" stroke-width="1" opacity="0.8"/>
<path d="M459.5,521.5 L462.5,524 L462.5,566 L459.5,568.5" fill="none" stroke="#e06a22" stroke-width="1.4" opacity="0.85"/>
<ellipse cx="395" cy="544" rx="36" ry="8" fill="#ffffff" opacity="0.5" filter="url(#blur3)"/>
<rect x="386.95" y="528" width="1.5" height="34" fill="#e88a26" opacity="0.9"/>
<rect x="387.2" y="519" width="1" height="51" fill="#f0b070" opacity="0.6"/>
<rect x="411.85" y="528" width="1.5" height="34" fill="#e88a26" opacity="0.9"/>
<rect x="412.1" y="519" width="1" height="51" fill="#f0b070" opacity="0.6"/>
<rect x="376" y="544.3" width="71" height="1.4" fill="#ec9468" opacity="0.9"/>
<path d="M408.7,478 L408.7,490 C408.7,498 404,502.7 394,503.5 C386,504 380,500.3 372,500.3 C362,500.3 350,504 341.9,511.5 C334,518 326,527 322.5,537 C319.5,546 321,556 326,561 C330,565 336,565.7 342,565.7 L362,565.7" fill="none" stroke="#1a4e5a" stroke-width="6"/>
<path d="M408.7,478 L408.7,490 C408.7,498 404,502.7 394,503.5 C386,504 380,500.3 372,500.3 C362,500.3 350,504 341.9,511.5 C334,518 326,527 322.5,537 C319.5,546 321,556 326,561 C330,565 336,565.7 342,565.7 L362,565.7" fill="none" stroke="#3a98a8" stroke-width="4"/>
<path d="M408.7,478 L408.7,490 C408.7,498 404,502.7 394,503.5 C386,504 380,500.3 372,500.3 C362,500.3 350,504 341.9,511.5 C334,518 326,527 322.5,537 C319.5,546 321,556 326,561 C330,565 336,565.7 342,565.7 L362,565.7" fill="none" stroke="#7fd8e4" stroke-width="1" opacity="0.8"/>
<path d="M408.7,429 L408.7,486" fill="none" stroke="#2ab8f0" stroke-width="5" opacity="0.6" filter="url(#blur1)"/>
<path d="M408.7,429 L408.7,486" fill="none" stroke="#5fdcff" stroke-width="2.8"/>
<path d="M408.7,429 L408.7,486" fill="none" stroke="#b8f6ff" stroke-width="1.2"/>
<path d="M474,523.2 L503.5,533 L503.5,557 L474,566.8 Z" fill="url(#hub)"/>
<path d="M465.5,520.3 L474,523.2 L474,566.8 L465.5,569.6 Z" fill="url(#ring)"/>
<line x1="474" y1="523.2" x2="474" y2="566.8" stroke="#167f9c" stroke-width="1"/>
<path d="M489.3,528 C489.4,515 490.5,508 494,500 C497,491 501.5,485 508,484 C513,483.5 517.5,486 517.5,491 C517.5,498 513,506 510,512 C507,519 505,528 505,535 L502.5,542.5 Z" fill="#27a3c5"/>
<path d="M489.3,528 L502.5,542.5" stroke="#1a86a6" stroke-width="0.8"/>
<path d="M489.6,561 L503.5,554.5 L505,556 C505,563 507,570 510,577 C513,583 517.5,589 517.5,596 C517.5,602 514.5,606 510,606 C505,606 500,600 496,591 C491,580 489.5,570 489.6,561 Z" fill="#27a3c5"/>
<path d="M489.6,561 L503.5,554.5" stroke="#1a86a6" stroke-width="0.7"/>
<path d="M503.5,535 L508,535.5 C511,538 511.5,551 508,554 L503.5,554.5 Z" fill="#34b0cf"/>
<ellipse cx="545" cy="542" rx="36" ry="42" fill="#cdeef8" opacity="0.5" filter="url(#blur6)"/>
<path d="M512,524 C540,523 575,532 612,538 L612,550 C575,555 540,563 512,562 Z" fill="url(#core)" filter="url(#blur3)"/>
<ellipse cx="538" cy="543" rx="24" ry="12" fill="#2db2dc" opacity="0.6" filter="url(#blur3)"/>
<g><circle cx="551.2" cy="549.0" r="0.77" fill="#45b9e0" opacity="0.39"/><circle cx="554.5" cy="540.8" r="0.43" fill="#45b9e0" opacity="0.40"/><circle cx="550.9" cy="518.0" r="0.39" fill="#45b9e0" opacity="0.32"/><circle cx="561.1" cy="558.8" r="0.66" fill="#45b9e0" opacity="0.22"/><circle cx="594.3" cy="538.4" r="0.64" fill="#45b9e0" opacity="0.45"/><circle cx="515.1" cy="545.4" r="0.59" fill="#45b9e0" opacity="0.22"/><circle cx="520.7" cy="557.8" r="0.36" fill="#45b9e0" opacity="0.39"/><circle cx="569.3" cy="553.2" r="0.58" fill="#45b9e0" opacity="0.46"/><circle cx="559.2" cy="542.0" r="0.56" fill="#45b9e0" opacity="0.31"/><circle cx="513.6" cy="562.0" r="0.49" fill="#45b9e0" opacity="0.29"/><circle cx="554.3" cy="540.3" r="0.69" fill="#45b9e0" opacity="0.36"/><circle cx="523.8" cy="554.6" r="0.78" fill="#45b9e0" opacity="0.54"/><circle cx="538.0" cy="556.0" r="0.76" fill="#45b9e0" opacity="0.39"/><circle cx="512.1" cy="566.0" r="0.38" fill="#45b9e0" opacity="0.45"/><circle cx="516.0" cy="545.3" r="0.39" fill="#45b9e0" opacity="0.33"/><circle cx="537.0" cy="575.7" r="0.40" fill="#45b9e0" opacity="0.30"/><circle cx="524.1" cy="548.3" r="0.71" fill="#45b9e0" opacity="0.27"/><circle cx="518.7" cy="518.6" r="0.44" fill="#45b9e0" opacity="0.49"/><circle cx="524.7" cy="563.7" r="0.40" fill="#45b9e0" opacity="0.37"/><circle cx="545.7" cy="545.5" r="0.79" fill="#45b9e0" opacity="0.52"/><circle cx="536.7" cy="527.7" r="0.44" fill="#45b9e0" opacity="0.36"/><circle cx="574.7" cy="555.3" r="0.40" fill="#45b9e0" opacity="0.60"/><circle cx="548.3" cy="545.3" r="0.70" fill="#45b9e0" opacity="0.33"/><circle cx="536.1" cy="539.7" r="0.39" fill="#45b9e0" opacity="0.43"/><circle cx="524.0" cy="543.3" r="0.52" fill="#45b9e0" opacity="0.38"/><circle cx="555.4" cy="561.9" r="0.61" fill="#45b9e0" opacity="0.55"/><circle cx="521.3" cy="547.4" r="0.76" fill="#45b9e0" opacity="0.53"/><circle cx="528.9" cy="542.0" r="0.68" fill="#45b9e0" opacity="0.58"/><circle cx="532.8" cy="559.0" r="0.75" fill="#45b9e0" opacity="0.44"/><circle cx="586.0" cy="536.4" r="0.37" fill="#45b9e0" opacity="0.59"/><circle cx="519.1" cy="544.6" r="0.47" fill="#45b9e0" opacity="0.53"/><circle cx="561.8" cy="530.3" r="0.43" fill="#45b9e0" opacity="0.49"/><circle cx="527.2" cy="556.3" r="0.60" fill="#45b9e0" opacity="0.54"/><circle cx="521.7" cy="528.2" r="0.76" fill="#45b9e0" opacity="0.28"/><circle cx="529.1" cy="559.0" r="0.55" fill="#45b9e0" opacity="0.22"/><circle cx="514.6" cy="552.1" r="0.61" fill="#45b9e0" opacity="0.25"/><circle cx="539.5" cy="514.5" r="0.79" fill="#45b9e0" opacity="0.46"/><circle cx="563.3" cy="534.0" r="0.41" fill="#45b9e0" opacity="0.21"/><circle cx="551.5" cy="582.3" r="0.67" fill="#45b9e0" opacity="0.59"/><circle cx="519.9" cy="574.3" r="0.57" fill="#45b9e0" opacity="0.49"/><circle cx="518.1" cy="504.8" r="0.38" fill="#45b9e0" opacity="0.42"/><circle cx="516.0" cy="505.6" r="0.71" fill="#45b9e0" opacity="0.57"/><circle cx="541.0" cy="566.3" r="0.76" fill="#45b9e0" opacity="0.55"/><circle cx="561.1" cy="557.1" r="0.74" fill="#45b9e0" opacity="0.43"/><circle cx="534.2" cy="527.5" r="0.61" fill="#45b9e0" opacity="0.44"/><circle cx="552.0" cy="554.7" r="0.80" fill="#45b9e0" opacity="0.55"/><circle cx="516.3" cy="519.0" r="0.68" fill="#45b9e0" opacity="0.43"/><circle cx="568.9" cy="553.2" r="0.39" fill="#45b9e0" opacity="0.50"/><circle cx="554.6" cy="546.6" r="0.57" fill="#45b9e0" opacity="0.29"/><circle cx="524.0" cy="517.2" r="0.63" fill="#45b9e0" opacity="0.57"/><circle cx="512.2" cy="545.6" r="0.49" fill="#45b9e0" opacity="0.47"/><circle cx="517.7" cy="555.5" r="0.76" fill="#45b9e0" opacity="0.46"/><circle cx="575.0" cy="553.4" r="0.50" fill="#45b9e0" opacity="0.47"/><circle cx="522.8" cy="564.6" r="0.71" fill="#45b9e0" opacity="0.57"/><circle cx="535.0" cy="528.0" r="0.61" fill="#45b9e0" opacity="0.33"/><circle cx="536.6" cy="560.2" r="0.73" fill="#45b9e0" opacity="0.54"/><circle cx="515.3" cy="556.1" r="0.55" fill="#45b9e0" opacity="0.31"/><circle cx="519.4" cy="565.1" r="0.63" fill="#45b9e0" opacity="0.40"/><circle cx="536.4" cy="578.1" r="0.79" fill="#45b9e0" opacity="0.38"/><circle cx="519.2" cy="544.6" r="0.74" fill="#45b9e0" opacity="0.22"/><circle cx="522.7" cy="513.7" r="0.49" fill="#45b9e0" opacity="0.52"/><circle cx="529.2" cy="543.4" r="0.55" fill="#45b9e0" opacity="0.21"/><circle cx="523.3" cy="527.5" r="0.41" fill="#45b9e0" opacity="0.22"/><circle cx="536.0" cy="525.7" r="0.63" fill="#45b9e0" opacity="0.46"/><circle cx="520.5" cy="528.1" r="0.56" fill="#45b9e0" opacity="0.27"/><circle cx="548.1" cy="543.4" r="0.67" fill="#45b9e0" opacity="0.27"/><circle cx="516.1" cy="563.4" r="0.66" fill="#45b9e0" opacity="0.41"/><circle cx="552.5" cy="521.7" r="0.53" fill="#45b9e0" opacity="0.52"/><circle cx="523.4" cy="536.7" r="0.77" fill="#45b9e0" opacity="0.49"/><circle cx="536.1" cy="558.5" r="0.63" fill="#45b9e0" opacity="0.56"/><circle cx="541.7" cy="560.0" r="0.75" fill="#45b9e0" opacity="0.52"/><circle cx="545.6" cy="534.6" r="0.64" fill="#45b9e0" opacity="0.28"/><circle cx="522.4" cy="501.0" r="0.64" fill="#45b9e0" opacity="0.49"/><circle cx="527.7" cy="587.5" r="0.79" fill="#45b9e0" opacity="0.59"/><circle cx="567.1" cy="535.4" r="0.49" fill="#45b9e0" opacity="0.56"/><circle cx="530.3" cy="526.4" r="0.39" fill="#45b9e0" opacity="0.38"/><circle cx="564.0" cy="533.1" r="0.57" fill="#45b9e0" opacity="0.21"/><circle cx="516.2" cy="534.1" r="0.71" fill="#45b9e0" opacity="0.27"/><circle cx="540.7" cy="572.3" r="0.41" fill="#45b9e0" opacity="0.26"/><circle cx="563.0" cy="539.2" r="0.73" fill="#45b9e0" opacity="0.48"/><circle cx="547.1" cy="534.6" r="0.78" fill="#45b9e0" opacity="0.23"/><circle cx="519.0" cy="569.7" r="0.48" fill="#45b9e0" opacity="0.49"/><circle cx="537.0" cy="522.9" r="0.73" fill="#45b9e0" opacity="0.42"/><circle cx="523.9" cy="562.3" r="0.73" fill="#45b9e0" opacity="0.56"/><circle cx="528.2" cy="582.9" r="0.79" fill="#45b9e0" opacity="0.41"/><circle cx="531.2" cy="535.7" r="0.59" fill="#45b9e0" opacity="0.40"/><circle cx="518.0" cy="538.6" r="0.79" fill="#45b9e0" opacity="0.41"/><circle cx="558.6" cy="560.4" r="0.60" fill="#45b9e0" opacity="0.40"/><circle cx="516.3" cy="533.9" r="0.59" fill="#45b9e0" opacity="0.37"/><circle cx="581.9" cy="533.4" r="0.47" fill="#45b9e0" opacity="0.39"/><circle cx="535.8" cy="557.8" r="0.72" fill="#45b9e0" opacity="0.56"/><circle cx="539.7" cy="544.6" r="0.44" fill="#45b9e0" opacity="0.45"/><circle cx="527.0" cy="536.8" r="0.70" fill="#45b9e0" opacity="0.21"/><circle cx="519.9" cy="557.4" r="0.66" fill="#45b9e0" opacity="0.33"/><circle cx="539.4" cy="564.1" r="0.40" fill="#45b9e0" opacity="0.49"/><circle cx="539.4" cy="558.8" r="0.46" fill="#45b9e0" opacity="0.28"/><circle cx="545.7" cy="538.1" r="0.52" fill="#45b9e0" opacity="0.37"/><circle cx="530.6" cy="539.7" r="0.44" fill="#45b9e0" opacity="0.45"/><circle cx="537.3" cy="522.8" r="0.73" fill="#45b9e0" opacity="0.44"/><circle cx="526.5" cy="529.5" r="0.68" fill="#45b9e0" opacity="0.52"/><circle cx="534.8" cy="531.6" r="0.49" fill="#45b9e0" opacity="0.57"/><circle cx="525.1" cy="534.3" r="0.46" fill="#45b9e0" opacity="0.49"/><circle cx="512.9" cy="552.8" r="0.72" fill="#45b9e0" opacity="0.37"/><circle cx="516.1" cy="530.2" r="0.53" fill="#45b9e0" opacity="0.47"/><circle cx="533.3" cy="543.6" r="0.66" fill="#45b9e0" opacity="0.56"/><circle cx="527.5" cy="539.9" r="0.58" fill="#45b9e0" opacity="0.50"/><circle cx="560.7" cy="541.5" r="0.44" fill="#45b9e0" opacity="0.23"/><circle cx="518.9" cy="545.9" r="0.60" fill="#45b9e0" opacity="0.41"/><circle cx="528.4" cy="536.9" r="0.43" fill="#45b9e0" opacity="0.28"/><circle cx="564.3" cy="499.2" r="0.77" fill="#45b9e0" opacity="0.24"/><circle cx="584.8" cy="554.9" r="0.56" fill="#45b9e0" opacity="0.51"/><circle cx="528.7" cy="563.5" r="0.58" fill="#45b9e0" opacity="0.37"/><circle cx="516.2" cy="539.7" r="0.67" fill="#45b9e0" opacity="0.54"/><circle cx="526.7" cy="563.9" r="0.68" fill="#45b9e0" opacity="0.36"/><circle cx="518.5" cy="555.1" r="0.58" fill="#45b9e0" opacity="0.21"/><circle cx="557.1" cy="522.2" r="0.67" fill="#45b9e0" opacity="0.54"/><circle cx="534.4" cy="526.6" r="0.62" fill="#45b9e0" opacity="0.40"/><circle cx="569.5" cy="538.9" r="0.47" fill="#45b9e0" opacity="0.56"/><circle cx="513.9" cy="500.9" r="0.72" fill="#45b9e0" opacity="0.36"/><circle cx="564.4" cy="521.2" r="0.66" fill="#45b9e0" opacity="0.51"/><circle cx="515.1" cy="518.1" r="0.68" fill="#45b9e0" opacity="0.23"/><circle cx="531.6" cy="562.0" r="0.35" fill="#45b9e0" opacity="0.34"/><circle cx="540.8" cy="520.6" r="0.45" fill="#45b9e0" opacity="0.58"/><circle cx="526.6" cy="524.8" r="0.65" fill="#45b9e0" opacity="0.43"/><circle cx="543.1" cy="538.0" r="0.80" fill="#45b9e0" opacity="0.46"/><circle cx="528.3" cy="506.9" r="0.79" fill="#45b9e0" opacity="0.21"/><circle cx="551.2" cy="521.9" r="0.47" fill="#45b9e0" opacity="0.36"/><circle cx="532.1" cy="546.4" r="0.52" fill="#45b9e0" opacity="0.24"/><circle cx="548.2" cy="535.0" r="0.79" fill="#45b9e0" opacity="0.43"/><circle cx="557.6" cy="541.2" r="0.71" fill="#45b9e0" opacity="0.23"/><circle cx="556.2" cy="524.7" r="0.37" fill="#45b9e0" opacity="0.57"/><circle cx="531.4" cy="562.3" r="0.43" fill="#45b9e0" opacity="0.40"/><circle cx="520.5" cy="536.9" r="0.78" fill="#45b9e0" opacity="0.37"/><circle cx="554.6" cy="537.9" r="0.51" fill="#45b9e0" opacity="0.31"/><circle cx="535.0" cy="520.0" r="0.48" fill="#45b9e0" opacity="0.49"/><circle cx="513.5" cy="545.8" r="0.46" fill="#45b9e0" opacity="0.22"/><circle cx="541.7" cy="569.7" r="0.53" fill="#45b9e0" opacity="0.56"/><circle cx="512.1" cy="534.3" r="0.79" fill="#45b9e0" opacity="0.58"/><circle cx="574.2" cy="556.8" r="0.54" fill="#45b9e0" opacity="0.39"/><circle cx="535.6" cy="539.4" r="0.59" fill="#45b9e0" opacity="0.57"/><circle cx="518.1" cy="516.4" r="0.79" fill="#45b9e0" opacity="0.53"/><circle cx="524.6" cy="535.3" r="0.63" fill="#45b9e0" opacity="0.38"/><circle cx="515.0" cy="549.4" r="0.59" fill="#45b9e0" opacity="0.25"/><circle cx="556.5" cy="551.3" r="0.55" fill="#45b9e0" opacity="0.30"/><circle cx="541.0" cy="531.7" r="0.70" fill="#45b9e0" opacity="0.41"/><circle cx="591.0" cy="541.5" r="0.68" fill="#45b9e0" opacity="0.30"/><circle cx="563.0" cy="565.4" r="0.70" fill="#45b9e0" opacity="0.45"/><circle cx="528.1" cy="555.4" r="0.66" fill="#45b9e0" opacity="0.43"/><circle cx="550.0" cy="527.6" r="0.69" fill="#45b9e0" opacity="0.28"/><circle cx="568.7" cy="525.3" r="0.37" fill="#45b9e0" opacity="0.22"/><circle cx="516.4" cy="566.4" r="0.63" fill="#45b9e0" opacity="0.24"/><circle cx="524.0" cy="539.8" r="0.39" fill="#45b9e0" opacity="0.47"/><circle cx="554.9" cy="534.1" r="0.52" fill="#45b9e0" opacity="0.39"/><circle cx="519.2" cy="562.5" r="0.69" fill="#45b9e0" opacity="0.54"/><circle cx="526.4" cy="547.0" r="0.71" fill="#45b9e0" opacity="0.45"/><circle cx="514.6" cy="525.7" r="0.54" fill="#45b9e0" opacity="0.30"/><circle cx="523.3" cy="522.0" r="0.64" fill="#45b9e0" opacity="0.60"/><circle cx="530.4" cy="566.0" r="0.69" fill="#45b9e0" opacity="0.57"/><circle cx="539.6" cy="550.5" r="0.39" fill="#45b9e0" opacity="0.55"/><circle cx="523.7" cy="546.4" r="0.60" fill="#45b9e0" opacity="0.39"/><circle cx="522.7" cy="524.6" r="0.70" fill="#45b9e0" opacity="0.23"/><circle cx="522.8" cy="574.3" r="0.39" fill="#45b9e0" opacity="0.32"/><circle cx="519.7" cy="507.2" r="0.48" fill="#45b9e0" opacity="0.26"/><circle cx="544.3" cy="566.4" r="0.51" fill="#45b9e0" opacity="0.25"/><circle cx="522.5" cy="513.7" r="0.76" fill="#45b9e0" opacity="0.58"/><circle cx="541.4" cy="530.9" r="0.71" fill="#45b9e0" opacity="0.32"/><circle cx="525.3" cy="562.4" r="0.77" fill="#45b9e0" opacity="0.56"/><circle cx="512.3" cy="564.7" r="0.51" fill="#45b9e0" opacity="0.35"/><circle cx="537.1" cy="554.4" r="0.44" fill="#45b9e0" opacity="0.43"/><circle cx="523.6" cy="515.3" r="0.73" fill="#45b9e0" opacity="0.43"/><circle cx="536.0" cy="573.2" r="0.75" fill="#45b9e0" opacity="0.31"/><circle cx="550.2" cy="545.1" r="0.59" fill="#45b9e0" opacity="0.43"/><circle cx="557.4" cy="536.6" r="0.71" fill="#45b9e0" opacity="0.23"/><circle cx="565.9" cy="533.6" r="0.39" fill="#45b9e0" opacity="0.23"/><circle cx="551.1" cy="555.3" r="0.41" fill="#45b9e0" opacity="0.50"/><circle cx="526.2" cy="528.7" r="0.45" fill="#45b9e0" opacity="0.51"/><circle cx="565.9" cy="538.2" r="0.53" fill="#45b9e0" opacity="0.34"/><circle cx="558.9" cy="536.8" r="0.57" fill="#45b9e0" opacity="0.41"/><circle cx="521.1" cy="506.9" r="0.76" fill="#45b9e0" opacity="0.36"/><circle cx="533.9" cy="514.5" r="0.73" fill="#45b9e0" opacity="0.52"/><circle cx="545.7" cy="507.1" r="0.78" fill="#45b9e0" opacity="0.46"/><circle cx="561.8" cy="538.0" r="0.71" fill="#45b9e0" opacity="0.37"/><circle cx="527.8" cy="547.9" r="0.68" fill="#45b9e0" opacity="0.60"/><circle cx="525.8" cy="551.4" r="0.44" fill="#45b9e0" opacity="0.37"/><circle cx="537.6" cy="548.4" r="0.40" fill="#45b9e0" opacity="0.46"/><circle cx="515.3" cy="527.4" r="0.38" fill="#45b9e0" opacity="0.38"/><circle cx="572.6" cy="524.9" r="0.37" fill="#45b9e0" opacity="0.24"/><circle cx="521.0" cy="556.6" r="0.46" fill="#45b9e0" opacity="0.49"/><circle cx="530.9" cy="533.5" r="0.43" fill="#45b9e0" opacity="0.31"/><circle cx="537.2" cy="572.5" r="0.49" fill="#45b9e0" opacity="0.42"/><circle cx="527.0" cy="519.2" r="0.47" fill="#45b9e0" opacity="0.55"/><circle cx="537.1" cy="532.4" r="0.60" fill="#45b9e0" opacity="0.58"/><circle cx="534.5" cy="543.6" r="0.37" fill="#45b9e0" opacity="0.58"/><circle cx="522.0" cy="520.9" r="0.59" fill="#45b9e0" opacity="0.41"/><circle cx="524.9" cy="528.3" r="0.35" fill="#45b9e0" opacity="0.39"/><circle cx="551.5" cy="565.8" r="0.67" fill="#45b9e0" opacity="0.44"/><circle cx="522.3" cy="553.0" r="0.49" fill="#45b9e0" opacity="0.30"/><circle cx="538.3" cy="524.1" r="0.64" fill="#45b9e0" opacity="0.60"/><circle cx="516.1" cy="570.8" r="0.42" fill="#45b9e0" opacity="0.51"/><circle cx="571.4" cy="542.2" r="0.73" fill="#45b9e0" opacity="0.53"/><circle cx="534.1" cy="550.2" r="0.67" fill="#45b9e0" opacity="0.24"/><circle cx="547.7" cy="544.7" r="0.78" fill="#45b9e0" opacity="0.43"/><circle cx="529.0" cy="527.6" r="0.71" fill="#45b9e0" opacity="0.37"/><circle cx="524.1" cy="537.1" r="0.72" fill="#45b9e0" opacity="0.28"/><circle cx="549.6" cy="535.8" r="0.42" fill="#45b9e0" opacity="0.53"/><circle cx="522.4" cy="560.0" r="0.38" fill="#45b9e0" opacity="0.32"/><circle cx="561.6" cy="547.5" r="0.51" fill="#45b9e0" opacity="0.47"/><circle cx="537.2" cy="554.6" r="0.56" fill="#45b9e0" opacity="0.59"/><circle cx="534.4" cy="515.3" r="0.36" fill="#45b9e0" opacity="0.35"/><circle cx="517.9" cy="525.5" r="0.60" fill="#45b9e0" opacity="0.38"/><circle cx="518.5" cy="546.8" r="0.63" fill="#45b9e0" opacity="0.32"/><circle cx="532.7" cy="523.3" r="0.48" fill="#45b9e0" opacity="0.33"/><circle cx="540.0" cy="518.8" r="0.47" fill="#45b9e0" opacity="0.28"/><circle cx="541.7" cy="539.9" r="0.78" fill="#45b9e0" opacity="0.43"/><circle cx="540.4" cy="539.1" r="0.72" fill="#45b9e0" opacity="0.24"/><circle cx="540.3" cy="547.7" r="0.65" fill="#45b9e0" opacity="0.48"/><circle cx="523.0" cy="551.7" r="0.73" fill="#45b9e0" opacity="0.44"/><circle cx="541.4" cy="554.0" r="0.42" fill="#45b9e0" opacity="0.25"/><circle cx="524.3" cy="534.8" r="0.76" fill="#45b9e0" opacity="0.37"/><circle cx="518.9" cy="508.8" r="0.70" fill="#45b9e0" opacity="0.53"/><circle cx="515.4" cy="526.1" r="0.54" fill="#45b9e0" opacity="0.21"/><circle cx="530.9" cy="515.1" r="0.79" fill="#45b9e0" opacity="0.52"/><circle cx="541.0" cy="527.4" r="0.36" fill="#45b9e0" opacity="0.33"/><circle cx="549.0" cy="527.1" r="0.40" fill="#45b9e0" opacity="0.35"/><circle cx="550.8" cy="509.3" r="0.72" fill="#45b9e0" opacity="0.44"/><circle cx="515.3" cy="563.9" r="0.76" fill="#45b9e0" opacity="0.42"/><circle cx="557.8" cy="529.6" r="0.41" fill="#45b9e0" opacity="0.49"/><circle cx="542.1" cy="565.7" r="0.67" fill="#45b9e0" opacity="0.53"/><circle cx="515.2" cy="560.5" r="0.63" fill="#45b9e0" opacity="0.28"/><circle cx="584.8" cy="551.0" r="0.61" fill="#45b9e0" opacity="0.48"/><circle cx="524.0" cy="517.5" r="0.51" fill="#45b9e0" opacity="0.39"/><circle cx="576.7" cy="570.7" r="0.41" fill="#45b9e0" opacity="0.56"/><circle cx="572.6" cy="522.8" r="0.60" fill="#45b9e0" opacity="0.31"/><circle cx="565.7" cy="551.2" r="0.41" fill="#45b9e0" opacity="0.53"/><circle cx="551.6" cy="532.6" r="0.46" fill="#45b9e0" opacity="0.43"/><circle cx="578.2" cy="546.6" r="0.60" fill="#45b9e0" opacity="0.23"/><circle cx="529.9" cy="555.3" r="0.79" fill="#45b9e0" opacity="0.58"/><circle cx="516.0" cy="531.1" r="0.65" fill="#45b9e0" opacity="0.50"/><circle cx="535.0" cy="521.5" r="0.71" fill="#45b9e0" opacity="0.21"/><circle cx="541.0" cy="549.0" r="0.41" fill="#45b9e0" opacity="0.35"/><circle cx="546.2" cy="531.2" r="0.58" fill="#45b9e0" opacity="0.31"/><circle cx="520.4" cy="523.3" r="0.64" fill="#45b9e0" opacity="0.22"/><circle cx="523.9" cy="536.1" r="0.78" fill="#45b9e0" opacity="0.44"/><circle cx="527.7" cy="520.0" r="0.63" fill="#45b9e0" opacity="0.48"/><circle cx="518.2" cy="543.9" r="0.57" fill="#45b9e0" opacity="0.60"/><circle cx="565.3" cy="559.1" r="0.53" fill="#45b9e0" opacity="0.37"/><circle cx="565.5" cy="509.2" r="0.59" fill="#45b9e0" opacity="0.41"/><circle cx="540.0" cy="502.4" r="0.49" fill="#45b9e0" opacity="0.22"/><circle cx="540.6" cy="535.4" r="0.68" fill="#45b9e0" opacity="0.44"/><circle cx="579.9" cy="542.1" r="0.62" fill="#45b9e0" opacity="0.23"/><circle cx="539.3" cy="557.6" r="0.58" fill="#45b9e0" opacity="0.36"/><circle cx="536.5" cy="572.0" r="0.59" fill="#45b9e0" opacity="0.30"/><circle cx="527.8" cy="534.4" r="0.46" fill="#45b9e0" opacity="0.23"/><circle cx="542.1" cy="585.8" r="0.65" fill="#45b9e0" opacity="0.55"/><circle cx="556.1" cy="513.6" r="0.45" fill="#45b9e0" opacity="0.50"/><circle cx="539.4" cy="502.2" r="0.39" fill="#45b9e0" opacity="0.52"/><circle cx="540.2" cy="559.7" r="0.78" fill="#45b9e0" opacity="0.20"/><circle cx="539.9" cy="542.6" r="0.50" fill="#45b9e0" opacity="0.23"/><circle cx="539.0" cy="571.4" r="0.53" fill="#45b9e0" opacity="0.34"/><circle cx="548.0" cy="537.0" r="0.36" fill="#45b9e0" opacity="0.56"/><circle cx="517.0" cy="532.3" r="0.77" fill="#45b9e0" opacity="0.59"/><circle cx="547.1" cy="529.2" r="0.48" fill="#45b9e0" opacity="0.57"/><circle cx="515.7" cy="554.3" r="0.73" fill="#45b9e0" opacity="0.34"/><circle cx="524.7" cy="528.6" r="0.75" fill="#45b9e0" opacity="0.60"/><circle cx="515.4" cy="551.9" r="0.44" fill="#45b9e0" opacity="0.55"/><circle cx="555.2" cy="550.1" r="0.68" fill="#45b9e0" opacity="0.33"/><circle cx="516.7" cy="580.2" r="0.67" fill="#45b9e0" opacity="0.25"/><circle cx="549.9" cy="527.3" r="0.55" fill="#45b9e0" opacity="0.23"/><circle cx="583.1" cy="544.0" r="0.67" fill="#45b9e0" opacity="0.28"/><circle cx="539.0" cy="548.2" r="0.65" fill="#45b9e0" opacity="0.52"/><circle cx="533.3" cy="520.5" r="0.75" fill="#45b9e0" opacity="0.44"/><circle cx="545.8" cy="544.1" r="0.77" fill="#45b9e0" opacity="0.47"/><circle cx="538.8" cy="537.1" r="0.39" fill="#45b9e0" opacity="0.59"/><circle cx="557.1" cy="521.8" r="0.59" fill="#45b9e0" opacity="0.22"/><circle cx="526.4" cy="527.4" r="0.46" fill="#45b9e0" opacity="0.52"/><circle cx="527.4" cy="557.3" r="0.69" fill="#45b9e0" opacity="0.30"/><circle cx="525.7" cy="536.9" r="0.43" fill="#45b9e0" opacity="0.56"/><circle cx="551.7" cy="546.8" r="0.56" fill="#45b9e0" opacity="0.50"/><circle cx="512.6" cy="500.8" r="0.57" fill="#45b9e0" opacity="0.27"/><circle cx="560.8" cy="518.8" r="0.51" fill="#45b9e0" opacity="0.46"/><circle cx="527.9" cy="547.4" r="0.58" fill="#45b9e0" opacity="0.54"/><circle cx="549.8" cy="532.9" r="0.78" fill="#45b9e0" opacity="0.27"/><circle cx="547.5" cy="544.1" r="0.62" fill="#45b9e0" opacity="0.29"/><circle cx="530.9" cy="507.8" r="0.70" fill="#45b9e0" opacity="0.52"/><circle cx="532.1" cy="544.2" r="0.45" fill="#45b9e0" opacity="0.43"/><circle cx="548.9" cy="536.9" r="0.62" fill="#45b9e0" opacity="0.49"/><circle cx="512.1" cy="498.3" r="0.43" fill="#45b9e0" opacity="0.26"/><circle cx="540.6" cy="565.3" r="0.55" fill="#45b9e0" opacity="0.38"/><circle cx="516.2" cy="538.6" r="0.38" fill="#45b9e0" opacity="0.56"/><circle cx="569.1" cy="523.8" r="0.71" fill="#45b9e0" opacity="0.30"/><circle cx="528.8" cy="553.3" r="0.37" fill="#45b9e0" opacity="0.33"/><circle cx="534.0" cy="523.5" r="0.47" fill="#45b9e0" opacity="0.44"/><circle cx="539.0" cy="573.8" r="0.43" fill="#45b9e0" opacity="0.30"/><circle cx="543.3" cy="558.1" r="0.72" fill="#45b9e0" opacity="0.51"/><circle cx="553.4" cy="559.4" r="0.51" fill="#45b9e0" opacity="0.29"/><circle cx="524.3" cy="548.4" r="0.57" fill="#45b9e0" opacity="0.50"/><circle cx="513.7" cy="555.2" r="0.55" fill="#45b9e0" opacity="0.50"/><circle cx="513.6" cy="559.1" r="0.75" fill="#45b9e0" opacity="0.26"/><circle cx="517.8" cy="526.7" r="0.54" fill="#45b9e0" opacity="0.23"/><circle cx="534.8" cy="544.8" r="0.45" fill="#45b9e0" opacity="0.30"/><circle cx="563.9" cy="530.2" r="0.56" fill="#45b9e0" opacity="0.57"/><circle cx="519.6" cy="528.3" r="0.79" fill="#45b9e0" opacity="0.44"/><circle cx="533.9" cy="562.6" r="0.64" fill="#45b9e0" opacity="0.22"/><circle cx="520.0" cy="522.5" r="0.74" fill="#45b9e0" opacity="0.44"/><circle cx="553.1" cy="557.4" r="0.53" fill="#45b9e0" opacity="0.54"/><circle cx="535.4" cy="515.5" r="0.45" fill="#45b9e0" opacity="0.34"/><circle cx="549.9" cy="551.6" r="0.42" fill="#45b9e0" opacity="0.28"/><circle cx="548.9" cy="546.7" r="0.49" fill="#45b9e0" opacity="0.38"/><circle cx="547.0" cy="570.8" r="0.74" fill="#45b9e0" opacity="0.28"/><circle cx="514.0" cy="535.2" r="0.66" fill="#45b9e0" opacity="0.35"/><circle cx="520.3" cy="541.3" r="0.43" fill="#45b9e0" opacity="0.30"/><circle cx="518.1" cy="500.9" r="0.67" fill="#45b9e0" opacity="0.31"/><circle cx="557.2" cy="535.4" r="0.77" fill="#45b9e0" opacity="0.34"/><circle cx="526.2" cy="545.5" r="0.76" fill="#45b9e0" opacity="0.21"/><circle cx="563.1" cy="534.7" r="0.39" fill="#45b9e0" opacity="0.55"/><circle cx="540.3" cy="526.3" r="0.58" fill="#45b9e0" opacity="0.22"/><circle cx="560.9" cy="532.0" r="0.37" fill="#45b9e0" opacity="0.26"/><circle cx="526.6" cy="537.4" r="0.49" fill="#45b9e0" opacity="0.37"/><circle cx="516.6" cy="529.8" r="0.67" fill="#45b9e0" opacity="0.30"/><circle cx="516.7" cy="536.7" r="0.42" fill="#45b9e0" opacity="0.28"/><circle cx="558.8" cy="536.8" r="0.53" fill="#45b9e0" opacity="0.35"/><circle cx="561.6" cy="550.1" r="0.48" fill="#45b9e0" opacity="0.34"/><circle cx="529.1" cy="543.3" r="0.36" fill="#45b9e0" opacity="0.45"/><circle cx="521.0" cy="504.1" r="0.79" fill="#45b9e0" opacity="0.32"/><circle cx="535.4" cy="519.7" r="0.45" fill="#45b9e0" opacity="0.48"/><circle cx="575.0" cy="523.1" r="0.74" fill="#45b9e0" opacity="0.29"/><circle cx="581.0" cy="537.8" r="0.54" fill="#45b9e0" opacity="0.36"/><circle cx="522.3" cy="562.6" r="0.50" fill="#45b9e0" opacity="0.40"/><circle cx="523.6" cy="539.6" r="0.53" fill="#45b9e0" opacity="0.39"/><circle cx="530.5" cy="557.8" r="0.46" fill="#45b9e0" opacity="0.24"/><circle cx="553.0" cy="531.6" r="0.42" fill="#45b9e0" opacity="0.43"/><circle cx="540.1" cy="534.3" r="0.67" fill="#45b9e0" opacity="0.21"/><circle cx="550.7" cy="528.3" r="0.38" fill="#45b9e0" opacity="0.36"/><circle cx="531.2" cy="565.5" r="0.61" fill="#45b9e0" opacity="0.39"/><circle cx="524.6" cy="534.2" r="0.36" fill="#45b9e0" opacity="0.34"/><circle cx="533.8" cy="563.0" r="0.47" fill="#45b9e0" opacity="0.47"/><circle cx="538.0" cy="551.0" r="0.63" fill="#45b9e0" opacity="0.58"/><circle cx="545.1" cy="525.5" r="0.77" fill="#45b9e0" opacity="0.51"/><circle cx="543.9" cy="523.0" r="0.53" fill="#45b9e0" opacity="0.37"/><circle cx="544.0" cy="536.0" r="0.75" fill="#45b9e0" opacity="0.35"/><circle cx="571.4" cy="545.7" r="0.41" fill="#45b9e0" opacity="0.40"/><circle cx="516.8" cy="534.1" r="0.79" fill="#45b9e0" opacity="0.26"/><circle cx="540.2" cy="547.1" r="0.66" fill="#45b9e0" opacity="0.29"/><circle cx="533.6" cy="568.3" r="0.53" fill="#45b9e0" opacity="0.30"/><circle cx="512.2" cy="507.3" r="0.60" fill="#45b9e0" opacity="0.45"/><circle cx="513.9" cy="500.5" r="0.79" fill="#45b9e0" opacity="0.33"/><circle cx="534.5" cy="517.2" r="0.49" fill="#45b9e0" opacity="0.49"/><circle cx="566.8" cy="533.6" r="0.78" fill="#45b9e0" opacity="0.53"/><circle cx="557.9" cy="555.2" r="0.57" fill="#45b9e0" opacity="0.43"/><circle cx="549.6" cy="531.5" r="0.69" fill="#45b9e0" opacity="0.41"/><circle cx="531.2" cy="543.3" r="0.50" fill="#45b9e0" opacity="0.27"/><circle cx="536.2" cy="531.3" r="0.38" fill="#45b9e0" opacity="0.23"/><circle cx="513.4" cy="571.8" r="0.40" fill="#45b9e0" opacity="0.38"/><circle cx="541.9" cy="545.1" r="0.42" fill="#45b9e0" opacity="0.55"/><circle cx="548.3" cy="546.3" r="0.46" fill="#45b9e0" opacity="0.40"/><circle cx="519.7" cy="548.6" r="0.67" fill="#45b9e0" opacity="0.30"/><circle cx="542.6" cy="538.3" r="0.50" fill="#45b9e0" opacity="0.50"/><circle cx="539.8" cy="562.8" r="0.61" fill="#45b9e0" opacity="0.37"/><circle cx="562.2" cy="535.7" r="0.72" fill="#45b9e0" opacity="0.52"/><circle cx="555.1" cy="554.3" r="0.65" fill="#45b9e0" opacity="0.29"/><circle cx="534.0" cy="543.4" r="0.61" fill="#45b9e0" opacity="0.58"/><circle cx="516.9" cy="554.3" r="0.66" fill="#45b9e0" opacity="0.37"/><circle cx="515.2" cy="525.9" r="0.77" fill="#45b9e0" opacity="0.60"/><circle cx="535.7" cy="573.2" r="0.40" fill="#45b9e0" opacity="0.22"/><circle cx="527.2" cy="534.0" r="0.80" fill="#45b9e0" opacity="0.25"/><circle cx="562.5" cy="540.1" r="0.59" fill="#45b9e0" opacity="0.39"/><circle cx="518.5" cy="528.1" r="0.71" fill="#45b9e0" opacity="0.54"/><circle cx="531.7" cy="537.5" r="0.63" fill="#45b9e0" opacity="0.51"/><circle cx="543.2" cy="561.4" r="0.66" fill="#45b9e0" opacity="0.42"/><circle cx="515.8" cy="546.1" r="0.43" fill="#45b9e0" opacity="0.24"/><circle cx="529.1" cy="557.0" r="0.57" fill="#45b9e0" opacity="0.25"/><circle cx="521.9" cy="540.0" r="0.60" fill="#45b9e0" opacity="0.26"/><circle cx="517.6" cy="528.9" r="0.45" fill="#45b9e0" opacity="0.39"/><circle cx="530.1" cy="530.9" r="0.37" fill="#45b9e0" opacity="0.23"/><circle cx="530.5" cy="556.4" r="0.39" fill="#45b9e0" opacity="0.27"/><circle cx="523.4" cy="555.3" r="0.57" fill="#45b9e0" opacity="0.37"/><circle cx="573.4" cy="547.4" r="0.38" fill="#45b9e0" opacity="0.42"/><circle cx="542.1" cy="526.7" r="0.47" fill="#45b9e0" opacity="0.58"/><circle cx="549.3" cy="581.8" r="0.55" fill="#45b9e0" opacity="0.53"/><circle cx="589.3" cy="540.7" r="0.36" fill="#45b9e0" opacity="0.27"/><circle cx="531.7" cy="548.1" r="0.51" fill="#45b9e0" opacity="0.50"/><circle cx="520.6" cy="531.9" r="0.35" fill="#45b9e0" opacity="0.28"/><circle cx="547.8" cy="544.7" r="0.59" fill="#45b9e0" opacity="0.52"/><circle cx="513.2" cy="552.2" r="0.53" fill="#45b9e0" opacity="0.52"/><circle cx="562.4" cy="555.6" r="0.79" fill="#45b9e0" opacity="0.24"/><circle cx="560.3" cy="558.6" r="0.67" fill="#45b9e0" opacity="0.30"/><circle cx="522.0" cy="546.2" r="0.61" fill="#45b9e0" opacity="0.29"/><circle cx="515.8" cy="524.8" r="0.65" fill="#45b9e0" opacity="0.52"/><circle cx="531.8" cy="522.0" r="0.51" fill="#45b9e0" opacity="0.31"/><circle cx="546.3" cy="556.0" r="0.39" fill="#45b9e0" opacity="0.33"/><circle cx="527.8" cy="541.2" r="0.68" fill="#45b9e0" opacity="0.42"/><circle cx="534.0" cy="536.5" r="0.40" fill="#45b9e0" opacity="0.26"/><circle cx="530.1" cy="528.6" r="0.35" fill="#45b9e0" opacity="0.40"/><circle cx="539.4" cy="527.4" r="0.59" fill="#45b9e0" opacity="0.58"/><circle cx="528.1" cy="554.6" r="0.49" fill="#45b9e0" opacity="0.50"/><circle cx="575.3" cy="576.8" r="0.54" fill="#45b9e0" opacity="0.59"/><circle cx="571.6" cy="545.0" r="0.67" fill="#45b9e0" opacity="0.27"/><circle cx="544.2" cy="537.7" r="0.78" fill="#45b9e0" opacity="0.33"/><circle cx="559.6" cy="548.6" r="0.80" fill="#45b9e0" opacity="0.26"/><circle cx="539.5" cy="529.0" r="0.64" fill="#45b9e0" opacity="0.28"/><circle cx="535.4" cy="509.7" r="0.74" fill="#45b9e0" opacity="0.45"/><circle cx="556.6" cy="519.0" r="0.40" fill="#45b9e0" opacity="0.53"/><circle cx="513.3" cy="532.3" r="0.65" fill="#45b9e0" opacity="0.37"/><circle cx="544.7" cy="531.5" r="0.62" fill="#45b9e0" opacity="0.43"/><circle cx="527.3" cy="536.4" r="0.63" fill="#45b9e0" opacity="0.38"/><circle cx="512.8" cy="515.3" r="0.77" fill="#45b9e0" opacity="0.26"/><circle cx="531.7" cy="540.6" r="0.68" fill="#45b9e0" opacity="0.60"/><circle cx="539.6" cy="508.9" r="0.41" fill="#45b9e0" opacity="0.60"/><circle cx="549.1" cy="528.3" r="0.73" fill="#45b9e0" opacity="0.46"/><circle cx="513.3" cy="583.4" r="0.71" fill="#45b9e0" opacity="0.40"/><circle cx="535.0" cy="549.6" r="0.74" fill="#45b9e0" opacity="0.48"/><circle cx="512.5" cy="541.8" r="0.55" fill="#45b9e0" opacity="0.41"/><circle cx="570.1" cy="549.0" r="0.48" fill="#45b9e0" opacity="0.46"/><circle cx="527.8" cy="566.8" r="0.70" fill="#45b9e0" opacity="0.40"/><circle cx="530.2" cy="544.0" r="0.73" fill="#45b9e0" opacity="0.51"/><circle cx="569.3" cy="508.9" r="0.71" fill="#45b9e0" opacity="0.26"/><circle cx="533.2" cy="535.6" r="0.37" fill="#45b9e0" opacity="0.34"/><circle cx="523.0" cy="570.1" r="0.40" fill="#45b9e0" opacity="0.27"/><circle cx="557.5" cy="515.8" r="0.63" fill="#45b9e0" opacity="0.56"/><circle cx="553.5" cy="548.9" r="0.74" fill="#45b9e0" opacity="0.49"/><circle cx="555.4" cy="550.7" r="0.54" fill="#45b9e0" opacity="0.21"/><circle cx="556.9" cy="533.8" r="0.63" fill="#45b9e0" opacity="0.31"/><circle cx="535.6" cy="516.6" r="0.43" fill="#45b9e0" opacity="0.25"/><circle cx="541.7" cy="534.3" r="0.41" fill="#45b9e0" opacity="0.25"/><circle cx="545.7" cy="566.7" r="0.51" fill="#45b9e0" opacity="0.28"/><circle cx="527.9" cy="575.4" r="0.68" fill="#45b9e0" opacity="0.34"/><circle cx="513.6" cy="533.0" r="0.42" fill="#45b9e0" opacity="0.45"/><circle cx="542.5" cy="509.5" r="0.53" fill="#45b9e0" opacity="0.38"/><circle cx="515.1" cy="521.1" r="0.46" fill="#45b9e0" opacity="0.43"/><circle cx="553.0" cy="533.9" r="0.48" fill="#45b9e0" opacity="0.54"/><circle cx="575.4" cy="534.6" r="0.77" fill="#45b9e0" opacity="0.36"/><circle cx="543.6" cy="540.9" r="0.55" fill="#45b9e0" opacity="0.23"/><circle cx="555.4" cy="529.3" r="0.55" fill="#45b9e0" opacity="0.58"/><circle cx="524.7" cy="532.9" r="0.65" fill="#45b9e0" opacity="0.30"/><circle cx="559.5" cy="534.2" r="0.75" fill="#45b9e0" opacity="0.30"/><circle cx="521.0" cy="523.7" r="0.72" fill="#45b9e0" opacity="0.54"/><circle cx="526.0" cy="518.7" r="0.39" fill="#45b9e0" opacity="0.56"/><circle cx="533.7" cy="558.9" r="0.52" fill="#45b9e0" opacity="0.49"/><circle cx="528.0" cy="532.3" r="0.75" fill="#45b9e0" opacity="0.58"/><circle cx="537.7" cy="570.6" r="0.56" fill="#45b9e0" opacity="0.34"/><circle cx="518.6" cy="522.4" r="0.65" fill="#45b9e0" opacity="0.44"/><circle cx="528.2" cy="563.8" r="0.72" fill="#45b9e0" opacity="0.46"/><circle cx="513.5" cy="517.0" r="0.38" fill="#45b9e0" opacity="0.38"/><circle cx="550.0" cy="557.9" r="0.45" fill="#45b9e0" opacity="0.60"/><circle cx="519.8" cy="563.3" r="0.41" fill="#45b9e0" opacity="0.36"/><circle cx="512.7" cy="532.0" r="0.43" fill="#45b9e0" opacity="0.46"/><circle cx="549.7" cy="520.5" r="0.46" fill="#45b9e0" opacity="0.52"/><circle cx="518.6" cy="502.4" r="0.40" fill="#45b9e0" opacity="0.39"/><circle cx="575.1" cy="545.0" r="0.78" fill="#45b9e0" opacity="0.56"/><circle cx="541.4" cy="544.8" r="0.59" fill="#45b9e0" opacity="0.41"/><circle cx="555.2" cy="562.4" r="0.49" fill="#45b9e0" opacity="0.40"/><circle cx="541.4" cy="560.2" r="0.41" fill="#45b9e0" opacity="0.24"/><circle cx="538.6" cy="540.7" r="0.70" fill="#45b9e0" opacity="0.30"/><circle cx="521.2" cy="545.9" r="0.45" fill="#45b9e0" opacity="0.38"/><circle cx="545.2" cy="534.3" r="0.73" fill="#45b9e0" opacity="0.24"/><circle cx="522.9" cy="531.5" r="0.79" fill="#45b9e0" opacity="0.41"/><circle cx="548.7" cy="556.4" r="0.74" fill="#45b9e0" opacity="0.59"/><circle cx="516.0" cy="543.8" r="0.42" fill="#45b9e0" opacity="0.53"/><circle cx="516.9" cy="505.4" r="0.42" fill="#45b9e0" opacity="0.41"/><circle cx="527.2" cy="543.9" r="0.49" fill="#45b9e0" opacity="0.59"/><circle cx="550.6" cy="513.8" r="0.37" fill="#45b9e0" opacity="0.37"/><circle cx="533.9" cy="549.7" r="0.40" fill="#45b9e0" opacity="0.57"/><circle cx="529.6" cy="564.0" r="0.64" fill="#45b9e0" opacity="0.55"/><circle cx="551.1" cy="534.1" r="0.58" fill="#45b9e0" opacity="0.56"/><circle cx="533.3" cy="552.9" r="0.68" fill="#45b9e0" opacity="0.30"/><circle cx="534.9" cy="558.3" r="0.56" fill="#45b9e0" opacity="0.34"/><circle cx="543.7" cy="551.1" r="0.37" fill="#45b9e0" opacity="0.53"/><circle cx="548.3" cy="550.8" r="0.60" fill="#45b9e0" opacity="0.36"/><circle cx="514.5" cy="552.7" r="0.52" fill="#45b9e0" opacity="0.33"/><circle cx="535.0" cy="543.5" r="0.69" fill="#45b9e0" opacity="0.39"/><circle cx="544.6" cy="543.1" r="0.78" fill="#45b9e0" opacity="0.20"/><circle cx="579.8" cy="521.6" r="0.51" fill="#45b9e0" opacity="0.44"/><circle cx="530.4" cy="555.3" r="0.62" fill="#45b9e0" opacity="0.44"/><circle cx="526.9" cy="565.6" r="0.58" fill="#45b9e0" opacity="0.50"/><circle cx="525.3" cy="545.2" r="0.46" fill="#45b9e0" opacity="0.31"/><circle cx="521.5" cy="519.1" r="0.74" fill="#45b9e0" opacity="0.36"/><circle cx="522.8" cy="575.1" r="0.39" fill="#45b9e0" opacity="0.59"/><circle cx="526.0" cy="524.9" r="0.49" fill="#45b9e0" opacity="0.53"/><circle cx="522.9" cy="510.7" r="0.38" fill="#45b9e0" opacity="0.51"/><circle cx="554.8" cy="549.5" r="0.60" fill="#45b9e0" opacity="0.57"/><circle cx="516.4" cy="538.2" r="0.77" fill="#45b9e0" opacity="0.50"/><circle cx="515.0" cy="540.8" r="0.68" fill="#45b9e0" opacity="0.37"/><circle cx="522.9" cy="537.6" r="0.70" fill="#45b9e0" opacity="0.38"/><circle cx="512.3" cy="518.7" r="0.55" fill="#45b9e0" opacity="0.37"/><circle cx="532.7" cy="554.5" r="0.68" fill="#45b9e0" opacity="0.23"/><circle cx="557.3" cy="564.3" r="0.65" fill="#45b9e0" opacity="0.42"/><circle cx="524.2" cy="549.3" r="0.49" fill="#45b9e0" opacity="0.58"/><circle cx="579.2" cy="529.8" r="0.45" fill="#45b9e0" opacity="0.37"/><circle cx="571.6" cy="535.2" r="0.41" fill="#45b9e0" opacity="0.55"/><circle cx="520.0" cy="543.0" r="0.54" fill="#45b9e0" opacity="0.35"/><circle cx="545.6" cy="502.6" r="0.57" fill="#45b9e0" opacity="0.48"/><circle cx="554.4" cy="562.3" r="0.40" fill="#45b9e0" opacity="0.50"/><circle cx="533.3" cy="566.2" r="0.44" fill="#45b9e0" opacity="0.34"/><circle cx="527.3" cy="559.4" r="0.62" fill="#45b9e0" opacity="0.41"/><circle cx="544.0" cy="558.4" r="0.73" fill="#45b9e0" opacity="0.34"/><circle cx="543.7" cy="530.7" r="0.79" fill="#45b9e0" opacity="0.33"/><circle cx="519.6" cy="526.2" r="0.47" fill="#45b9e0" opacity="0.49"/><circle cx="534.0" cy="534.7" r="0.38" fill="#45b9e0" opacity="0.53"/><circle cx="548.5" cy="562.9" r="0.54" fill="#45b9e0" opacity="0.45"/><circle cx="593.2" cy="529.4" r="0.76" fill="#45b9e0" opacity="0.38"/><circle cx="535.1" cy="543.2" r="0.69" fill="#45b9e0" opacity="0.24"/><circle cx="533.6" cy="580.1" r="0.37" fill="#45b9e0" opacity="0.48"/><circle cx="548.9" cy="532.1" r="0.50" fill="#45b9e0" opacity="0.26"/><circle cx="563.9" cy="533.3" r="0.71" fill="#45b9e0" opacity="0.24"/><circle cx="516.8" cy="526.0" r="0.44" fill="#45b9e0" opacity="0.41"/><circle cx="524.5" cy="534.8" r="0.69" fill="#45b9e0" opacity="0.43"/><circle cx="570.6" cy="520.8" r="0.66" fill="#45b9e0" opacity="0.35"/><circle cx="560.6" cy="533.7" r="0.48" fill="#45b9e0" opacity="0.54"/><circle cx="515.6" cy="523.8" r="0.46" fill="#45b9e0" opacity="0.21"/><circle cx="535.8" cy="538.3" r="0.48" fill="#45b9e0" opacity="0.30"/><circle cx="537.0" cy="559.4" r="0.47" fill="#45b9e0" opacity="0.31"/><circle cx="518.6" cy="569.1" r="0.74" fill="#45b9e0" opacity="0.26"/><circle cx="551.9" cy="514.1" r="0.62" fill="#45b9e0" opacity="0.42"/><circle cx="516.0" cy="513.2" r="0.65" fill="#45b9e0" opacity="0.57"/><circle cx="515.9" cy="524.0" r="0.37" fill="#45b9e0" opacity="0.57"/><circle cx="548.6" cy="567.2" r="0.46" fill="#45b9e0" opacity="0.38"/><circle cx="547.5" cy="564.4" r="0.77" fill="#45b9e0" opacity="0.40"/><circle cx="539.1" cy="534.5" r="0.45" fill="#45b9e0" opacity="0.58"/><circle cx="570.5" cy="566.0" r="0.65" fill="#45b9e0" opacity="0.23"/><circle cx="524.1" cy="536.0" r="0.60" fill="#45b9e0" opacity="0.25"/><circle cx="539.5" cy="540.8" r="0.74" fill="#45b9e0" opacity="0.22"/><circle cx="518.0" cy="534.5" r="0.36" fill="#45b9e0" opacity="0.43"/><circle cx="560.4" cy="539.2" r="0.73" fill="#45b9e0" opacity="0.51"/><circle cx="524.7" cy="540.8" r="0.59" fill="#45b9e0" opacity="0.27"/><circle cx="541.5" cy="538.9" r="0.57" fill="#45b9e0" opacity="0.28"/><circle cx="521.3" cy="519.3" r="0.57" fill="#45b9e0" opacity="0.23"/><circle cx="552.7" cy="543.9" r="0.79" fill="#45b9e0" opacity="0.42"/><circle cx="529.9" cy="555.6" r="0.50" fill="#45b9e0" opacity="0.48"/><circle cx="593.0" cy="529.1" r="0.78" fill="#45b9e0" opacity="0.57"/><circle cx="559.2" cy="510.4" r="0.36" fill="#45b9e0" opacity="0.40"/><circle cx="553.0" cy="527.0" r="0.63" fill="#45b9e0" opacity="0.45"/><circle cx="524.4" cy="538.1" r="0.58" fill="#45b9e0" opacity="0.58"/><circle cx="527.3" cy="544.1" r="0.74" fill="#45b9e0" opacity="0.58"/><circle cx="520.1" cy="542.9" r="0.72" fill="#45b9e0" opacity="0.48"/><circle cx="553.8" cy="539.0" r="0.69" fill="#45b9e0" opacity="0.52"/><circle cx="524.0" cy="542.0" r="0.71" fill="#45b9e0" opacity="0.59"/><circle cx="528.4" cy="522.8" r="0.50" fill="#45b9e0" opacity="0.34"/><circle cx="566.6" cy="544.6" r="0.47" fill="#45b9e0" opacity="0.43"/><circle cx="540.5" cy="539.0" r="0.65" fill="#45b9e0" opacity="0.38"/><circle cx="518.5" cy="589.5" r="0.43" fill="#45b9e0" opacity="0.26"/><circle cx="512.8" cy="569.3" r="0.70" fill="#45b9e0" opacity="0.33"/><circle cx="515.4" cy="576.2" r="0.47" fill="#45b9e0" opacity="0.41"/><circle cx="521.3" cy="557.1" r="0.49" fill="#45b9e0" opacity="0.33"/><circle cx="519.1" cy="507.9" r="0.71" fill="#45b9e0" opacity="0.42"/><circle cx="559.8" cy="555.9" r="0.46" fill="#45b9e0" opacity="0.29"/><circle cx="595.2" cy="561.2" r="0.52" fill="#45b9e0" opacity="0.34"/><circle cx="594.7" cy="521.9" r="0.52" fill="#45b9e0" opacity="0.25"/><circle cx="525.8" cy="504.6" r="0.50" fill="#45b9e0" opacity="0.52"/><circle cx="531.1" cy="554.0" r="0.62" fill="#45b9e0" opacity="0.50"/><circle cx="570.4" cy="546.4" r="0.36" fill="#45b9e0" opacity="0.40"/><circle cx="520.6" cy="547.7" r="0.76" fill="#45b9e0" opacity="0.26"/><circle cx="530.1" cy="584.3" r="0.78" fill="#45b9e0" opacity="0.57"/><circle cx="552.4" cy="577.5" r="0.41" fill="#45b9e0" opacity="0.49"/><circle cx="531.7" cy="537.3" r="0.41" fill="#45b9e0" opacity="0.47"/><circle cx="550.1" cy="521.8" r="0.78" fill="#45b9e0" opacity="0.38"/><circle cx="523.3" cy="550.2" r="0.47" fill="#45b9e0" opacity="0.58"/><circle cx="530.4" cy="548.0" r="0.51" fill="#45b9e0" opacity="0.22"/><circle cx="519.1" cy="555.7" r="0.41" fill="#45b9e0" opacity="0.41"/><circle cx="552.1" cy="536.0" r="0.69" fill="#45b9e0" opacity="0.41"/><circle cx="524.5" cy="539.0" r="0.45" fill="#45b9e0" opacity="0.23"/><circle cx="531.7" cy="575.4" r="0.77" fill="#45b9e0" opacity="0.40"/><circle cx="527.3" cy="558.6" r="0.61" fill="#45b9e0" opacity="0.32"/><circle cx="554.1" cy="548.2" r="0.73" fill="#45b9e0" opacity="0.39"/><circle cx="539.9" cy="586.9" r="0.79" fill="#45b9e0" opacity="0.21"/><circle cx="514.6" cy="518.2" r="0.37" fill="#45b9e0" opacity="0.27"/><circle cx="536.3" cy="571.8" r="0.45" fill="#45b9e0" opacity="0.21"/><circle cx="522.8" cy="581.6" r="0.57" fill="#45b9e0" opacity="0.46"/><circle cx="531.8" cy="544.9" r="0.36" fill="#45b9e0" opacity="0.32"/><circle cx="536.0" cy="546.1" r="0.63" fill="#45b9e0" opacity="0.35"/><circle cx="556.1" cy="546.2" r="0.49" fill="#45b9e0" opacity="0.34"/><circle cx="543.5" cy="524.8" r="0.54" fill="#45b9e0" opacity="0.42"/><circle cx="539.9" cy="546.5" r="0.76" fill="#45b9e0" opacity="0.29"/><circle cx="569.6" cy="529.8" r="0.75" fill="#45b9e0" opacity="0.27"/><circle cx="604.3" cy="540.2" r="0.48" fill="#45b9e0" opacity="0.27"/><circle cx="515.9" cy="525.1" r="0.61" fill="#45b9e0" opacity="0.26"/><circle cx="536.7" cy="536.6" r="0.39" fill="#45b9e0" opacity="0.47"/><circle cx="535.5" cy="563.7" r="0.57" fill="#45b9e0" opacity="0.57"/><circle cx="543.1" cy="540.3" r="0.35" fill="#45b9e0" opacity="0.40"/><circle cx="517.0" cy="572.2" r="0.63" fill="#45b9e0" opacity="0.38"/><circle cx="543.7" cy="554.3" r="0.57" fill="#45b9e0" opacity="0.46"/><circle cx="537.5" cy="538.9" r="0.55" fill="#45b9e0" opacity="0.23"/><circle cx="519.2" cy="526.0" r="0.72" fill="#45b9e0" opacity="0.52"/><circle cx="545.7" cy="541.5" r="0.60" fill="#45b9e0" opacity="0.58"/><circle cx="548.6" cy="543.4" r="0.48" fill="#45b9e0" opacity="0.54"/><circle cx="541.3" cy="541.7" r="0.44" fill="#45b9e0" opacity="0.29"/><circle cx="541.1" cy="511.0" r="0.79" fill="#45b9e0" opacity="0.57"/><circle cx="534.7" cy="507.8" r="0.67" fill="#45b9e0" opacity="0.52"/><circle cx="518.3" cy="528.3" r="0.72" fill="#45b9e0" opacity="0.32"/><circle cx="549.9" cy="545.2" r="0.50" fill="#45b9e0" opacity="0.52"/><circle cx="566.1" cy="518.9" r="0.77" fill="#45b9e0" opacity="0.46"/><circle cx="555.6" cy="552.5" r="0.40" fill="#45b9e0" opacity="0.59"/><circle cx="531.1" cy="528.7" r="0.43" fill="#45b9e0" opacity="0.48"/><circle cx="523.9" cy="533.9" r="0.68" fill="#45b9e0" opacity="0.22"/><circle cx="548.9" cy="518.2" r="0.70" fill="#45b9e0" opacity="0.55"/><circle cx="581.6" cy="527.6" r="0.64" fill="#45b9e0" opacity="0.40"/><circle cx="534.3" cy="554.9" r="0.36" fill="#45b9e0" opacity="0.26"/><circle cx="518.5" cy="526.0" r="0.64" fill="#45b9e0" opacity="0.51"/><circle cx="525.2" cy="516.9" r="0.49" fill="#45b9e0" opacity="0.31"/><circle cx="529.7" cy="570.7" r="0.66" fill="#45b9e0" opacity="0.58"/><circle cx="547.5" cy="580.1" r="0.76" fill="#45b9e0" opacity="0.32"/><circle cx="554.5" cy="534.6" r="0.78" fill="#45b9e0" opacity="0.51"/><circle cx="524.9" cy="557.6" r="0.59" fill="#45b9e0" opacity="0.40"/><circle cx="574.2" cy="548.7" r="0.59" fill="#45b9e0" opacity="0.39"/><circle cx="512.8" cy="523.9" r="0.44" fill="#45b9e0" opacity="0.43"/><circle cx="513.6" cy="563.2" r="0.38" fill="#45b9e0" opacity="0.22"/><circle cx="536.1" cy="561.9" r="0.78" fill="#45b9e0" opacity="0.46"/><circle cx="540.1" cy="552.5" r="0.46" fill="#45b9e0" opacity="0.39"/><circle cx="527.8" cy="539.2" r="0.54" fill="#45b9e0" opacity="0.47"/><circle cx="515.2" cy="512.1" r="0.64" fill="#45b9e0" opacity="0.58"/><circle cx="531.9" cy="532.7" r="0.59" fill="#45b9e0" opacity="0.60"/><circle cx="532.4" cy="539.6" r="0.69" fill="#45b9e0" opacity="0.22"/><circle cx="535.7" cy="563.2" r="0.47" fill="#45b9e0" opacity="0.49"/><circle cx="516.1" cy="521.7" r="0.70" fill="#45b9e0" opacity="0.46"/><circle cx="521.7" cy="517.9" r="0.54" fill="#45b9e0" opacity="0.24"/><circle cx="590.6" cy="547.1" r="0.75" fill="#45b9e0" opacity="0.22"/><circle cx="534.9" cy="549.1" r="0.66" fill="#45b9e0" opacity="0.38"/><circle cx="535.4" cy="557.7" r="0.61" fill="#45b9e0" opacity="0.50"/><circle cx="550.0" cy="557.5" r="0.66" fill="#45b9e0" opacity="0.45"/><circle cx="560.3" cy="549.8" r="0.41" fill="#45b9e0" opacity="0.22"/><circle cx="517.8" cy="542.7" r="0.38" fill="#45b9e0" opacity="0.36"/><circle cx="526.8" cy="544.0" r="0.78" fill="#45b9e0" opacity="0.54"/><circle cx="554.5" cy="544.0" r="0.49" fill="#45b9e0" opacity="0.59"/><circle cx="531.9" cy="554.4" r="0.45" fill="#45b9e0" opacity="0.55"/><circle cx="544.8" cy="540.9" r="0.53" fill="#45b9e0" opacity="0.55"/><circle cx="514.6" cy="583.8" r="0.67" fill="#45b9e0" opacity="0.38"/><circle cx="534.8" cy="558.7" r="0.55" fill="#45b9e0" opacity="0.33"/><circle cx="535.5" cy="527.0" r="0.49" fill="#45b9e0" opacity="0.51"/><circle cx="546.8" cy="548.0" r="0.75" fill="#45b9e0" opacity="0.38"/><circle cx="560.6" cy="567.8" r="0.79" fill="#45b9e0" opacity="0.51"/><circle cx="550.9" cy="558.1" r="0.68" fill="#45b9e0" opacity="0.32"/><circle cx="538.5" cy="517.0" r="0.55" fill="#45b9e0" opacity="0.46"/><circle cx="520.3" cy="580.7" r="0.59" fill="#45b9e0" opacity="0.59"/><circle cx="539.5" cy="568.6" r="0.36" fill="#45b9e0" opacity="0.37"/><circle cx="514.5" cy="523.8" r="0.63" fill="#45b9e0" opacity="0.29"/><circle cx="593.8" cy="565.8" r="0.44" fill="#45b9e0" opacity="0.57"/><circle cx="551.4" cy="551.0" r="0.72" fill="#45b9e0" opacity="0.53"/><circle cx="545.2" cy="558.3" r="0.67" fill="#45b9e0" opacity="0.50"/><circle cx="512.9" cy="510.6" r="0.46" fill="#45b9e0" opacity="0.48"/><circle cx="549.2" cy="533.1" r="0.79" fill="#45b9e0" opacity="0.25"/><circle cx="517.4" cy="521.8" r="0.68" fill="#45b9e0" opacity="0.58"/><circle cx="518.3" cy="571.6" r="0.59" fill="#45b9e0" opacity="0.40"/><circle cx="534.3" cy="567.4" r="0.75" fill="#45b9e0" opacity="0.47"/><circle cx="526.1" cy="580.7" r="0.54" fill="#45b9e0" opacity="0.26"/><circle cx="540.0" cy="528.2" r="0.59" fill="#45b9e0" opacity="0.60"/><circle cx="583.8" cy="527.4" r="0.51" fill="#45b9e0" opacity="0.50"/><circle cx="536.1" cy="549.9" r="0.66" fill="#45b9e0" opacity="0.48"/><circle cx="526.8" cy="523.1" r="0.47" fill="#45b9e0" opacity="0.34"/><circle cx="518.9" cy="540.8" r="0.52" fill="#45b9e0" opacity="0.46"/><circle cx="528.4" cy="557.1" r="0.74" fill="#45b9e0" opacity="0.57"/><circle cx="512.0" cy="557.0" r="0.40" fill="#45b9e0" opacity="0.23"/><circle cx="526.3" cy="507.3" r="0.47" fill="#45b9e0" opacity="0.40"/><circle cx="514.6" cy="536.7" r="0.72" fill="#45b9e0" opacity="0.54"/><circle cx="524.0" cy="575.8" r="0.66" fill="#45b9e0" opacity="0.33"/><circle cx="528.2" cy="531.4" r="0.56" fill="#45b9e0" opacity="0.33"/><circle cx="566.7" cy="552.7" r="0.61" fill="#45b9e0" opacity="0.44"/><circle cx="534.7" cy="540.8" r="0.45" fill="#45b9e0" opacity="0.45"/><circle cx="560.5" cy="578.0" r="0.50" fill="#45b9e0" opacity="0.38"/><circle cx="566.5" cy="554.9" r="0.76" fill="#45b9e0" opacity="0.47"/><circle cx="526.2" cy="560.2" r="0.67" fill="#45b9e0" opacity="0.29"/><circle cx="560.1" cy="518.5" r="0.45" fill="#45b9e0" opacity="0.35"/><circle cx="518.8" cy="578.4" r="0.37" fill="#45b9e0" opacity="0.48"/><circle cx="568.7" cy="553.8" r="0.59" fill="#45b9e0" opacity="0.43"/><circle cx="520.0" cy="545.9" r="0.51" fill="#45b9e0" opacity="0.59"/><circle cx="563.5" cy="522.3" r="0.38" fill="#45b9e0" opacity="0.24"/><circle cx="561.0" cy="545.5" r="0.43" fill="#45b9e0" opacity="0.31"/><circle cx="536.6" cy="514.5" r="0.50" fill="#45b9e0" opacity="0.39"/><circle cx="522.0" cy="570.1" r="0.51" fill="#45b9e0" opacity="0.34"/><circle cx="512.2" cy="561.9" r="0.47" fill="#45b9e0" opacity="0.21"/><circle cx="527.9" cy="569.1" r="0.47" fill="#45b9e0" opacity="0.25"/><circle cx="532.4" cy="522.4" r="0.58" fill="#45b9e0" opacity="0.32"/><circle cx="552.7" cy="522.0" r="0.63" fill="#45b9e0" opacity="0.46"/><circle cx="525.4" cy="517.6" r="0.54" fill="#45b9e0" opacity="0.36"/><circle cx="548.0" cy="541.4" r="0.59" fill="#45b9e0" opacity="0.41"/><circle cx="528.2" cy="497.4" r="0.45" fill="#45b9e0" opacity="0.21"/><circle cx="514.6" cy="547.7" r="0.71" fill="#45b9e0" opacity="0.45"/><circle cx="516.6" cy="556.8" r="0.74" fill="#45b9e0" opacity="0.53"/><circle cx="531.9" cy="512.2" r="0.69" fill="#45b9e0" opacity="0.38"/><circle cx="544.5" cy="556.8" r="0.75" fill="#45b9e0" opacity="0.60"/><circle cx="564.7" cy="526.3" r="0.38" fill="#45b9e0" opacity="0.30"/><circle cx="551.4" cy="537.8" r="0.58" fill="#45b9e0" opacity="0.32"/><circle cx="537.0" cy="523.1" r="0.80" fill="#45b9e0" opacity="0.23"/><circle cx="517.2" cy="541.8" r="0.42" fill="#45b9e0" opacity="0.36"/><circle cx="521.9" cy="533.6" r="0.60" fill="#45b9e0" opacity="0.58"/><circle cx="561.9" cy="553.4" r="0.62" fill="#45b9e0" opacity="0.43"/><circle cx="528.6" cy="563.4" r="0.76" fill="#45b9e0" opacity="0.47"/><circle cx="519.2" cy="566.5" r="0.59" fill="#45b9e0" opacity="0.33"/><circle cx="551.9" cy="529.8" r="0.36" fill="#45b9e0" opacity="0.29"/><circle cx="524.3" cy="529.1" r="0.38" fill="#45b9e0" opacity="0.50"/><circle cx="552.5" cy="581.9" r="0.60" fill="#45b9e0" opacity="0.24"/><circle cx="528.3" cy="529.2" r="0.72" fill="#45b9e0" opacity="0.49"/><circle cx="512.6" cy="533.8" r="0.37" fill="#45b9e0" opacity="0.52"/><circle cx="525.6" cy="553.5" r="0.36" fill="#45b9e0" opacity="0.27"/><circle cx="591.5" cy="547.4" r="0.49" fill="#45b9e0" opacity="0.30"/><circle cx="521.6" cy="529.2" r="0.64" fill="#45b9e0" opacity="0.45"/><circle cx="520.8" cy="539.3" r="0.60" fill="#45b9e0" opacity="0.35"/><circle cx="522.9" cy="526.7" r="0.67" fill="#45b9e0" opacity="0.27"/><circle cx="596.0" cy="543.0" r="0.46" fill="#45b9e0" opacity="0.31"/><circle cx="553.6" cy="528.5" r="0.38" fill="#45b9e0" opacity="0.27"/><circle cx="514.1" cy="561.5" r="0.73" fill="#45b9e0" opacity="0.48"/><circle cx="559.2" cy="538.7" r="0.63" fill="#45b9e0" opacity="0.35"/><circle cx="519.6" cy="515.8" r="0.38" fill="#45b9e0" opacity="0.40"/><circle cx="541.4" cy="558.3" r="0.37" fill="#45b9e0" opacity="0.21"/><circle cx="542.6" cy="540.0" r="0.50" fill="#45b9e0" opacity="0.26"/><circle cx="571.3" cy="522.9" r="0.43" fill="#45b9e0" opacity="0.40"/><circle cx="566.5" cy="542.1" r="0.60" fill="#45b9e0" opacity="0.30"/><circle cx="531.0" cy="573.8" r="0.39" fill="#45b9e0" opacity="0.55"/><circle cx="532.3" cy="544.9" r="0.56" fill="#45b9e0" opacity="0.54"/><circle cx="550.7" cy="521.0" r="0.69" fill="#45b9e0" opacity="0.49"/><circle cx="568.7" cy="551.6" r="0.42" fill="#45b9e0" opacity="0.26"/><circle cx="519.5" cy="543.3" r="0.74" fill="#45b9e0" opacity="0.35"/><circle cx="520.5" cy="545.6" r="0.73" fill="#45b9e0" opacity="0.44"/><circle cx="519.6" cy="538.8" r="0.40" fill="#45b9e0" opacity="0.31"/><circle cx="517.7" cy="552.6" r="0.44" fill="#45b9e0" opacity="0.46"/><circle cx="521.6" cy="554.0" r="0.59" fill="#45b9e0" opacity="0.35"/><circle cx="536.5" cy="563.5" r="0.58" fill="#45b9e0" opacity="0.36"/><circle cx="521.0" cy="543.0" r="0.63" fill="#45b9e0" opacity="0.28"/><circle cx="514.2" cy="544.8" r="0.75" fill="#45b9e0" opacity="0.44"/><circle cx="543.2" cy="557.4" r="0.77" fill="#45b9e0" opacity="0.25"/><circle cx="549.3" cy="561.7" r="0.52" fill="#45b9e0" opacity="0.48"/><circle cx="519.7" cy="538.4" r="0.48" fill="#45b9e0" opacity="0.32"/><circle cx="512.1" cy="500.0" r="0.66" fill="#45b9e0" opacity="0.57"/><circle cx="524.6" cy="562.4" r="0.73" fill="#45b9e0" opacity="0.51"/><circle cx="579.9" cy="568.3" r="0.68" fill="#45b9e0" opacity="0.55"/><circle cx="540.3" cy="562.8" r="0.78" fill="#45b9e0" opacity="0.56"/><circle cx="571.5" cy="526.7" r="0.80" fill="#45b9e0" opacity="0.54"/><circle cx="557.3" cy="504.8" r="0.41" fill="#45b9e0" opacity="0.36"/><circle cx="527.6" cy="537.5" r="0.70" fill="#45b9e0" opacity="0.22"/><circle cx="529.9" cy="529.4" r="0.50" fill="#45b9e0" opacity="0.44"/><circle cx="524.5" cy="564.6" r="0.74" fill="#45b9e0" opacity="0.59"/><circle cx="514.4" cy="564.5" r="0.66" fill="#45b9e0" opacity="0.28"/><circle cx="524.4" cy="530.0" r="0.60" fill="#45b9e0" opacity="0.34"/><circle cx="513.4" cy="542.0" r="0.35" fill="#45b9e0" opacity="0.33"/><circle cx="519.6" cy="535.6" r="0.67" fill="#45b9e0" opacity="0.29"/><circle cx="562.9" cy="545.1" r="0.74" fill="#45b9e0" opacity="0.57"/><circle cx="536.6" cy="550.6" r="0.53" fill="#45b9e0" opacity="0.33"/><circle cx="513.9" cy="515.6" r="0.66" fill="#45b9e0" opacity="0.26"/><circle cx="524.9" cy="571.4" r="0.42" fill="#45b9e0" opacity="0.21"/><circle cx="529.5" cy="549.1" r="0.68" fill="#45b9e0" opacity="0.43"/><circle cx="550.3" cy="498.5" r="0.38" fill="#45b9e0" opacity="0.24"/><circle cx="546.6" cy="546.7" r="0.72" fill="#45b9e0" opacity="0.47"/><circle cx="572.2" cy="532.9" r="0.52" fill="#45b9e0" opacity="0.25"/><circle cx="516.6" cy="537.9" r="0.45" fill="#45b9e0" opacity="0.21"/><circle cx="518.1" cy="549.1" r="0.59" fill="#45b9e0" opacity="0.25"/><circle cx="559.5" cy="522.4" r="0.50" fill="#45b9e0" opacity="0.25"/><circle cx="536.5" cy="512.8" r="0.75" fill="#45b9e0" opacity="0.42"/><circle cx="567.5" cy="526.0" r="0.65" fill="#45b9e0" opacity="0.59"/><circle cx="524.7" cy="579.3" r="0.63" fill="#45b9e0" opacity="0.39"/><circle cx="548.3" cy="543.5" r="0.47" fill="#45b9e0" opacity="0.44"/><circle cx="550.2" cy="540.7" r="0.38" fill="#45b9e0" opacity="0.25"/><circle cx="549.9" cy="524.4" r="0.80" fill="#45b9e0" opacity="0.52"/><circle cx="520.8" cy="566.3" r="0.58" fill="#45b9e0" opacity="0.52"/><circle cx="568.8" cy="564.2" r="0.57" fill="#45b9e0" opacity="0.36"/><circle cx="541.8" cy="544.4" r="0.80" fill="#45b9e0" opacity="0.22"/><circle cx="522.5" cy="547.4" r="0.66" fill="#45b9e0" opacity="0.26"/><circle cx="531.9" cy="559.9" r="0.62" fill="#45b9e0" opacity="0.51"/><circle cx="537.2" cy="547.9" r="0.52" fill="#45b9e0" opacity="0.56"/><circle cx="513.1" cy="545.5" r="0.75" fill="#45b9e0" opacity="0.39"/><circle cx="523.7" cy="550.9" r="0.75" fill="#45b9e0" opacity="0.50"/><circle cx="556.1" cy="552.5" r="0.45" fill="#45b9e0" opacity="0.38"/><circle cx="520.2" cy="537.5" r="0.77" fill="#45b9e0" opacity="0.33"/><circle cx="546.4" cy="568.2" r="0.40" fill="#45b9e0" opacity="0.21"/><circle cx="532.8" cy="522.6" r="0.76" fill="#45b9e0" opacity="0.52"/><circle cx="514.6" cy="548.9" r="0.62" fill="#45b9e0" opacity="0.39"/><circle cx="534.5" cy="586.1" r="0.44" fill="#45b9e0" opacity="0.46"/><circle cx="577.0" cy="557.1" r="0.78" fill="#45b9e0" opacity="0.45"/><circle cx="534.0" cy="572.3" r="0.76" fill="#45b9e0" opacity="0.52"/><circle cx="548.7" cy="547.7" r="0.41" fill="#45b9e0" opacity="0.42"/><circle cx="572.9" cy="532.4" r="0.46" fill="#45b9e0" opacity="0.42"/><circle cx="520.0" cy="554.7" r="0.68" fill="#45b9e0" opacity="0.50"/><circle cx="529.3" cy="561.3" r="0.66" fill="#45b9e0" opacity="0.49"/><circle cx="527.6" cy="544.5" r="0.39" fill="#45b9e0" opacity="0.27"/><circle cx="529.3" cy="519.6" r="0.64" fill="#45b9e0" opacity="0.35"/><circle cx="525.5" cy="552.1" r="0.79" fill="#45b9e0" opacity="0.44"/><circle cx="546.4" cy="563.6" r="0.62" fill="#45b9e0" opacity="0.45"/><circle cx="517.5" cy="510.4" r="0.74" fill="#45b9e0" opacity="0.59"/><circle cx="550.5" cy="556.9" r="0.52" fill="#45b9e0" opacity="0.36"/><circle cx="542.8" cy="563.2" r="0.51" fill="#45b9e0" opacity="0.34"/><circle cx="544.8" cy="513.4" r="0.65" fill="#45b9e0" opacity="0.54"/><circle cx="546.6" cy="560.0" r="0.46" fill="#45b9e0" opacity="0.33"/><circle cx="558.2" cy="560.5" r="0.76" fill="#45b9e0" opacity="0.32"/><circle cx="523.5" cy="549.7" r="0.41" fill="#45b9e0" opacity="0.46"/><circle cx="522.4" cy="536.1" r="0.46" fill="#45b9e0" opacity="0.50"/><circle cx="521.9" cy="587.8" r="0.51" fill="#45b9e0" opacity="0.39"/><circle cx="519.9" cy="560.1" r="0.54" fill="#45b9e0" opacity="0.31"/><circle cx="513.0" cy="536.1" r="0.64" fill="#45b9e0" opacity="0.52"/><circle cx="521.6" cy="555.1" r="0.40" fill="#45b9e0" opacity="0.23"/><circle cx="523.4" cy="512.6" r="0.36" fill="#45b9e0" opacity="0.38"/><circle cx="534.8" cy="531.4" r="0.37" fill="#45b9e0" opacity="0.37"/><circle cx="563.9" cy="577.6" r="0.51" fill="#45b9e0" opacity="0.57"/><circle cx="540.3" cy="522.7" r="0.41" fill="#45b9e0" opacity="0.52"/><circle cx="546.5" cy="555.1" r="0.39" fill="#45b9e0" opacity="0.24"/><circle cx="527.8" cy="548.8" r="0.80" fill="#45b9e0" opacity="0.43"/><circle cx="576.0" cy="519.3" r="0.69" fill="#45b9e0" opacity="0.46"/><circle cx="566.7" cy="546.8" r="0.65" fill="#45b9e0" opacity="0.26"/><circle cx="544.5" cy="538.2" r="0.58" fill="#45b9e0" opacity="0.49"/><circle cx="527.5" cy="515.7" r="0.70" fill="#45b9e0" opacity="0.53"/><circle cx="527.0" cy="548.7" r="0.37" fill="#45b9e0" opacity="0.26"/><circle cx="538.6" cy="537.6" r="0.55" fill="#45b9e0" opacity="0.39"/><circle cx="535.8" cy="535.4" r="0.70" fill="#45b9e0" opacity="0.33"/><circle cx="544.6" cy="513.1" r="0.35" fill="#45b9e0" opacity="0.42"/><circle cx="567.4" cy="560.6" r="0.38" fill="#45b9e0" opacity="0.31"/><circle cx="517.0" cy="511.1" r="0.65" fill="#45b9e0" opacity="0.37"/><circle cx="533.4" cy="540.2" r="0.56" fill="#45b9e0" opacity="0.30"/><circle cx="518.9" cy="532.2" r="0.41" fill="#45b9e0" opacity="0.28"/><circle cx="553.3" cy="537.1" r="0.35" fill="#45b9e0" opacity="0.59"/><circle cx="528.0" cy="523.7" r="0.42" fill="#45b9e0" opacity="0.53"/><circle cx="531.8" cy="540.1" r="0.69" fill="#45b9e0" opacity="0.53"/><circle cx="532.2" cy="536.4" r="0.40" fill="#45b9e0" opacity="0.27"/><circle cx="542.6" cy="530.0" r="0.41" fill="#45b9e0" opacity="0.34"/><circle cx="514.6" cy="576.1" r="0.67" fill="#45b9e0" opacity="0.51"/><circle cx="544.6" cy="550.3" r="0.56" fill="#45b9e0" opacity="0.35"/><circle cx="558.7" cy="549.4" r="0.67" fill="#45b9e0" opacity="0.33"/><circle cx="528.4" cy="537.0" r="0.37" fill="#45b9e0" opacity="0.35"/><circle cx="517.2" cy="546.6" r="0.39" fill="#45b9e0" opacity="0.37"/><circle cx="569.0" cy="531.2" r="0.36" fill="#45b9e0" opacity="0.33"/><circle cx="530.7" cy="555.6" r="0.41" fill="#45b9e0" opacity="0.44"/><circle cx="528.7" cy="524.0" r="0.43" fill="#45b9e0" opacity="0.24"/><circle cx="566.2" cy="544.7" r="0.45" fill="#45b9e0" opacity="0.49"/><circle cx="515.4" cy="532.5" r="0.44" fill="#45b9e0" opacity="0.33"/><circle cx="518.2" cy="504.5" r="0.49" fill="#45b9e0" opacity="0.38"/><circle cx="534.2" cy="560.6" r="0.71" fill="#45b9e0" opacity="0.30"/><circle cx="538.7" cy="499.7" r="0.62" fill="#45b9e0" opacity="0.58"/><circle cx="530.1" cy="537.0" r="0.80" fill="#45b9e0" opacity="0.28"/><circle cx="517.5" cy="530.9" r="0.49" fill="#45b9e0" opacity="0.38"/><circle cx="537.7" cy="515.9" r="0.44" fill="#45b9e0" opacity="0.56"/><circle cx="537.3" cy="523.7" r="0.37" fill="#45b9e0" opacity="0.31"/><circle cx="520.8" cy="564.9" r="0.77" fill="#45b9e0" opacity="0.44"/><circle cx="517.2" cy="533.9" r="0.46" fill="#45b9e0" opacity="0.49"/><circle cx="524.4" cy="555.5" r="0.38" fill="#45b9e0" opacity="0.22"/><circle cx="546.3" cy="554.6" r="0.53" fill="#45b9e0" opacity="0.43"/><circle cx="513.5" cy="546.2" r="0.65" fill="#45b9e0" opacity="0.33"/><circle cx="543.1" cy="543.0" r="0.47" fill="#45b9e0" opacity="0.22"/><circle cx="519.8" cy="560.5" r="0.40" fill="#45b9e0" opacity="0.21"/><circle cx="518.3" cy="542.6" r="0.75" fill="#45b9e0" opacity="0.34"/><circle cx="548.7" cy="550.0" r="0.36" fill="#45b9e0" opacity="0.24"/><circle cx="521.0" cy="513.7" r="0.57" fill="#45b9e0" opacity="0.34"/><circle cx="512.3" cy="513.7" r="0.71" fill="#45b9e0" opacity="0.53"/><circle cx="552.5" cy="523.8" r="0.65" fill="#45b9e0" opacity="0.38"/><circle cx="553.2" cy="537.0" r="0.59" fill="#45b9e0" opacity="0.53"/><circle cx="518.6" cy="536.1" r="0.69" fill="#45b9e0" opacity="0.45"/><circle cx="569.0" cy="521.7" r="0.37" fill="#45b9e0" opacity="0.39"/><circle cx="567.2" cy="569.9" r="0.42" fill="#45b9e0" opacity="0.43"/><circle cx="545.0" cy="567.6" r="0.57" fill="#45b9e0" opacity="0.49"/><circle cx="535.3" cy="582.3" r="0.35" fill="#45b9e0" opacity="0.29"/><circle cx="516.4" cy="523.5" r="0.39" fill="#45b9e0" opacity="0.48"/><circle cx="513.3" cy="533.6" r="0.77" fill="#45b9e0" opacity="0.41"/><circle cx="547.8" cy="546.5" r="0.50" fill="#45b9e0" opacity="0.24"/><circle cx="568.2" cy="517.1" r="0.41" fill="#45b9e0" opacity="0.38"/><circle cx="519.0" cy="576.0" r="0.40" fill="#45b9e0" opacity="0.33"/><circle cx="542.6" cy="553.9" r="0.55" fill="#45b9e0" opacity="0.44"/><circle cx="580.9" cy="529.8" r="0.76" fill="#45b9e0" opacity="0.53"/><circle cx="515.2" cy="559.5" r="0.56" fill="#45b9e0" opacity="0.46"/><circle cx="535.3" cy="530.1" r="0.80" fill="#45b9e0" opacity="0.32"/><circle cx="525.9" cy="543.2" r="0.44" fill="#45b9e0" opacity="0.49"/><circle cx="517.0" cy="536.3" r="0.46" fill="#45b9e0" opacity="0.30"/><circle cx="527.5" cy="496.6" r="0.47" fill="#45b9e0" opacity="0.24"/><circle cx="595.5" cy="535.2" r="0.67" fill="#45b9e0" opacity="0.39"/><circle cx="513.1" cy="501.3" r="0.58" fill="#45b9e0" opacity="0.31"/><circle cx="558.6" cy="537.9" r="0.50" fill="#45b9e0" opacity="0.46"/><circle cx="563.4" cy="577.6" r="0.45" fill="#45b9e0" opacity="0.29"/><circle cx="587.9" cy="533.9" r="0.77" fill="#45b9e0" opacity="0.54"/><circle cx="546.5" cy="513.0" r="0.61" fill="#45b9e0" opacity="0.23"/><circle cx="519.0" cy="498.5" r="0.73" fill="#45b9e0" opacity="0.22"/><circle cx="560.0" cy="552.5" r="0.57" fill="#45b9e0" opacity="0.56"/><circle cx="546.8" cy="540.8" r="0.65" fill="#45b9e0" opacity="0.47"/><circle cx="522.6" cy="521.8" r="0.64" fill="#45b9e0" opacity="0.23"/><circle cx="553.5" cy="524.9" r="0.71" fill="#45b9e0" opacity="0.38"/><circle cx="521.8" cy="565.8" r="0.66" fill="#45b9e0" opacity="0.42"/><circle cx="514.1" cy="543.3" r="0.53" fill="#45b9e0" opacity="0.30"/><circle cx="515.3" cy="558.5" r="0.54" fill="#45b9e0" opacity="0.48"/><circle cx="553.1" cy="527.8" r="0.36" fill="#45b9e0" opacity="0.55"/><circle cx="552.2" cy="523.2" r="0.63" fill="#45b9e0" opacity="0.34"/><circle cx="518.5" cy="549.5" r="0.65" fill="#45b9e0" opacity="0.22"/><circle cx="541.5" cy="502.3" r="0.65" fill="#45b9e0" opacity="0.44"/><circle cx="517.3" cy="543.0" r="0.63" fill="#45b9e0" opacity="0.46"/><circle cx="540.7" cy="521.2" r="0.51" fill="#45b9e0" opacity="0.20"/><circle cx="533.7" cy="516.3" r="0.79" fill="#45b9e0" opacity="0.44"/><circle cx="545.1" cy="515.4" r="0.80" fill="#45b9e0" opacity="0.38"/><circle cx="537.7" cy="529.7" r="0.36" fill="#45b9e0" opacity="0.33"/><circle cx="571.4" cy="581.4" r="0.53" fill="#45b9e0" opacity="0.31"/><circle cx="517.3" cy="532.2" r="0.49" fill="#45b9e0" opacity="0.36"/><circle cx="542.7" cy="560.7" r="0.54" fill="#45b9e0" opacity="0.52"/><circle cx="558.9" cy="582.6" r="0.44" fill="#45b9e0" opacity="0.41"/><circle cx="512.8" cy="546.0" r="0.49" fill="#45b9e0" opacity="0.56"/><circle cx="521.6" cy="567.3" r="0.59" fill="#45b9e0" opacity="0.31"/><circle cx="523.5" cy="540.2" r="0.51" fill="#45b9e0" opacity="0.31"/><circle cx="533.9" cy="509.1" r="0.67" fill="#45b9e0" opacity="0.44"/><circle cx="547.2" cy="518.7" r="0.37" fill="#45b9e0" opacity="0.25"/><circle cx="512.8" cy="496.3" r="0.80" fill="#45b9e0" opacity="0.51"/><circle cx="534.7" cy="564.6" r="0.63" fill="#45b9e0" opacity="0.44"/><circle cx="567.9" cy="573.8" r="0.58" fill="#45b9e0" opacity="0.31"/><circle cx="543.3" cy="539.7" r="0.38" fill="#45b9e0" opacity="0.47"/><circle cx="513.4" cy="558.7" r="0.49" fill="#45b9e0" opacity="0.44"/><circle cx="532.1" cy="570.4" r="0.76" fill="#45b9e0" opacity="0.60"/><circle cx="567.3" cy="518.4" r="0.46" fill="#45b9e0" opacity="0.53"/><circle cx="547.7" cy="555.4" r="0.38" fill="#45b9e0" opacity="0.24"/><circle cx="527.8" cy="538.4" r="0.67" fill="#45b9e0" opacity="0.41"/><circle cx="568.8" cy="542.2" r="0.38" fill="#45b9e0" opacity="0.55"/><circle cx="527.6" cy="518.8" r="0.55" fill="#45b9e0" opacity="0.21"/><circle cx="514.8" cy="535.7" r="0.59" fill="#45b9e0" opacity="0.57"/><circle cx="519.0" cy="531.7" r="0.67" fill="#45b9e0" opacity="0.48"/><circle cx="538.3" cy="572.7" r="0.61" fill="#45b9e0" opacity="0.37"/><circle cx="537.4" cy="539.3" r="0.48" fill="#45b9e0" opacity="0.56"/><circle cx="544.2" cy="569.2" r="0.52" fill="#45b9e0" opacity="0.28"/><circle cx="594.3" cy="542.3" r="0.69" fill="#45b9e0" opacity="0.59"/><circle cx="521.7" cy="537.7" r="0.42" fill="#45b9e0" opacity="0.22"/><circle cx="546.0" cy="524.6" r="0.78" fill="#45b9e0" opacity="0.32"/><circle cx="514.4" cy="558.6" r="0.42" fill="#45b9e0" opacity="0.21"/><circle cx="545.4" cy="542.8" r="0.52" fill="#45b9e0" opacity="0.58"/><circle cx="535.4" cy="577.8" r="0.59" fill="#45b9e0" opacity="0.24"/><circle cx="555.1" cy="546.6" r="0.74" fill="#45b9e0" opacity="0.22"/><circle cx="518.9" cy="526.0" r="0.66" fill="#45b9e0" opacity="0.53"/><circle cx="515.4" cy="524.6" r="0.42" fill="#45b9e0" opacity="0.59"/><circle cx="574.6" cy="524.5" r="0.59" fill="#45b9e0" opacity="0.22"/><circle cx="559.7" cy="569.9" r="0.38" fill="#45b9e0" opacity="0.32"/><circle cx="575.6" cy="550.2" r="0.51" fill="#45b9e0" opacity="0.23"/><circle cx="525.4" cy="553.7" r="0.55" fill="#45b9e0" opacity="0.45"/><circle cx="519.9" cy="533.4" r="0.59" fill="#45b9e0" opacity="0.22"/><circle cx="566.3" cy="552.7" r="0.47" fill="#45b9e0" opacity="0.53"/><circle cx="513.2" cy="565.8" r="0.71" fill="#45b9e0" opacity="0.20"/><circle cx="549.4" cy="534.2" r="0.67" fill="#45b9e0" opacity="0.58"/><circle cx="519.8" cy="526.7" r="0.44" fill="#45b9e0" opacity="0.39"/><circle cx="520.0" cy="570.5" r="0.39" fill="#45b9e0" opacity="0.48"/><circle cx="520.9" cy="545.6" r="0.40" fill="#45b9e0" opacity="0.57"/><circle cx="550.5" cy="510.8" r="0.53" fill="#45b9e0" opacity="0.59"/><circle cx="536.8" cy="571.0" r="0.77" fill="#45b9e0" opacity="0.28"/><circle cx="528.6" cy="542.3" r="0.39" fill="#45b9e0" opacity="0.52"/><circle cx="540.6" cy="527.9" r="0.40" fill="#45b9e0" opacity="0.46"/><circle cx="523.2" cy="551.1" r="0.62" fill="#45b9e0" opacity="0.46"/><circle cx="530.8" cy="504.0" r="0.41" fill="#45b9e0" opacity="0.32"/><circle cx="535.0" cy="561.0" r="0.36" fill="#45b9e0" opacity="0.55"/><circle cx="536.2" cy="507.9" r="0.57" fill="#45b9e0" opacity="0.56"/><circle cx="542.6" cy="510.1" r="0.71" fill="#45b9e0" opacity="0.29"/><circle cx="518.1" cy="548.5" r="0.69" fill="#45b9e0" opacity="0.39"/><circle cx="538.4" cy="540.6" r="0.54" fill="#45b9e0" opacity="0.55"/><circle cx="564.8" cy="536.6" r="0.75" fill="#45b9e0" opacity="0.57"/><circle cx="518.0" cy="573.8" r="0.38" fill="#45b9e0" opacity="0.47"/><circle cx="548.3" cy="535.4" r="0.42" fill="#45b9e0" opacity="0.43"/><circle cx="544.6" cy="550.6" r="0.39" fill="#45b9e0" opacity="0.37"/><circle cx="533.7" cy="510.7" r="0.73" fill="#45b9e0" opacity="0.38"/><circle cx="522.0" cy="544.8" r="0.71" fill="#45b9e0" opacity="0.43"/><circle cx="527.0" cy="548.7" r="0.56" fill="#45b9e0" opacity="0.23"/><circle cx="521.5" cy="548.3" r="0.54" fill="#45b9e0" opacity="0.25"/><circle cx="532.5" cy="516.4" r="0.74" fill="#45b9e0" opacity="0.42"/><circle cx="525.8" cy="557.0" r="0.73" fill="#45b9e0" opacity="0.43"/><circle cx="539.5" cy="519.3" r="0.37" fill="#45b9e0" opacity="0.28"/><circle cx="568.1" cy="555.0" r="0.77" fill="#45b9e0" opacity="0.44"/><circle cx="512.6" cy="549.4" r="0.60" fill="#45b9e0" opacity="0.36"/><circle cx="531.7" cy="535.9" r="0.44" fill="#45b9e0" opacity="0.21"/><circle cx="569.1" cy="547.2" r="0.74" fill="#45b9e0" opacity="0.26"/><circle cx="553.7" cy="544.3" r="0.46" fill="#45b9e0" opacity="0.45"/><circle cx="557.1" cy="526.6" r="0.48" fill="#45b9e0" opacity="0.44"/><circle cx="525.3" cy="578.2" r="0.47" fill="#45b9e0" opacity="0.55"/><circle cx="541.4" cy="504.2" r="0.51" fill="#45b9e0" opacity="0.58"/><circle cx="533.5" cy="534.0" r="0.64" fill="#45b9e0" opacity="0.32"/><circle cx="518.9" cy="546.3" r="0.62" fill="#45b9e0" opacity="0.30"/><circle cx="556.8" cy="560.1" r="0.41" fill="#45b9e0" opacity="0.50"/><circle cx="516.4" cy="564.0" r="0.77" fill="#45b9e0" opacity="0.53"/><circle cx="557.5" cy="499.4" r="0.62" fill="#45b9e0" opacity="0.57"/><circle cx="542.4" cy="523.8" r="0.50" fill="#45b9e0" opacity="0.35"/><circle cx="533.8" cy="535.3" r="0.64" fill="#45b9e0" opacity="0.55"/><circle cx="516.2" cy="525.6" r="0.36" fill="#45b9e0" opacity="0.35"/><circle cx="568.7" cy="554.5" r="0.60" fill="#45b9e0" opacity="0.41"/><circle cx="544.0" cy="526.7" r="0.66" fill="#45b9e0" opacity="0.42"/><circle cx="534.2" cy="537.0" r="0.41" fill="#45b9e0" opacity="0.38"/><circle cx="570.6" cy="517.0" r="0.48" fill="#45b9e0" opacity="0.43"/><circle cx="547.0" cy="539.6" r="0.43" fill="#45b9e0" opacity="0.52"/><circle cx="531.8" cy="549.8" r="0.48" fill="#45b9e0" opacity="0.28"/><circle cx="516.5" cy="550.9" r="0.59" fill="#45b9e0" opacity="0.27"/><circle cx="539.1" cy="520.6" r="0.63" fill="#45b9e0" opacity="0.39"/><circle cx="532.4" cy="530.5" r="0.56" fill="#45b9e0" opacity="0.48"/><circle cx="523.2" cy="577.6" r="0.61" fill="#45b9e0" opacity="0.59"/><circle cx="542.1" cy="525.3" r="0.70" fill="#45b9e0" opacity="0.32"/><circle cx="535.7" cy="557.8" r="0.68" fill="#45b9e0" opacity="0.49"/><circle cx="543.4" cy="586.7" r="0.79" fill="#45b9e0" opacity="0.40"/><circle cx="556.6" cy="541.3" r="0.52" fill="#45b9e0" opacity="0.23"/><circle cx="554.6" cy="544.6" r="0.67" fill="#45b9e0" opacity="0.45"/><circle cx="519.0" cy="517.9" r="0.68" fill="#45b9e0" opacity="0.44"/><circle cx="538.8" cy="522.9" r="0.65" fill="#45b9e0" opacity="0.42"/><circle cx="552.4" cy="556.8" r="0.67" fill="#45b9e0" opacity="0.37"/><circle cx="548.0" cy="537.9" r="0.42" fill="#45b9e0" opacity="0.40"/><circle cx="524.1" cy="552.4" r="0.75" fill="#45b9e0" opacity="0.27"/><circle cx="516.6" cy="528.1" r="0.58" fill="#45b9e0" opacity="0.60"/><circle cx="565.7" cy="559.3" r="0.35" fill="#45b9e0" opacity="0.59"/><circle cx="541.3" cy="530.2" r="0.64" fill="#45b9e0" opacity="0.38"/><circle cx="527.5" cy="559.5" r="0.55" fill="#45b9e0" opacity="0.55"/><circle cx="542.0" cy="558.2" r="0.56" fill="#45b9e0" opacity="0.42"/><circle cx="523.4" cy="512.8" r="0.50" fill="#45b9e0" opacity="0.58"/><circle cx="532.7" cy="532.2" r="0.60" fill="#45b9e0" opacity="0.55"/><circle cx="556.3" cy="549.4" r="0.57" fill="#45b9e0" opacity="0.32"/><circle cx="524.5" cy="555.6" r="0.55" fill="#45b9e0" opacity="0.37"/><circle cx="532.4" cy="532.0" r="0.63" fill="#45b9e0" opacity="0.39"/><circle cx="528.3" cy="504.4" r="0.46" fill="#45b9e0" opacity="0.59"/><circle cx="539.7" cy="536.8" r="0.46" fill="#45b9e0" opacity="0.49"/><circle cx="556.8" cy="552.4" r="0.47" fill="#45b9e0" opacity="0.54"/><circle cx="517.9" cy="588.6" r="0.55" fill="#45b9e0" opacity="0.36"/><circle cx="546.4" cy="531.1" r="0.60" fill="#45b9e0" opacity="0.42"/><circle cx="562.2" cy="533.4" r="0.39" fill="#45b9e0" opacity="0.60"/><circle cx="522.5" cy="542.7" r="0.72" fill="#45b9e0" opacity="0.31"/><circle cx="531.6" cy="544.4" r="0.57" fill="#45b9e0" opacity="0.54"/><circle cx="531.1" cy="543.6" r="0.36" fill="#45b9e0" opacity="0.22"/><circle cx="526.8" cy="565.4" r="0.79" fill="#45b9e0" opacity="0.46"/><circle cx="538.2" cy="520.5" r="0.76" fill="#45b9e0" opacity="0.47"/><circle cx="513.9" cy="564.9" r="0.57" fill="#45b9e0" opacity="0.24"/><circle cx="544.7" cy="531.8" r="0.44" fill="#45b9e0" opacity="0.40"/><circle cx="520.7" cy="524.9" r="0.61" fill="#45b9e0" opacity="0.24"/><circle cx="513.1" cy="557.3" r="0.58" fill="#45b9e0" opacity="0.48"/><circle cx="518.9" cy="576.8" r="0.61" fill="#45b9e0" opacity="0.50"/><circle cx="540.8" cy="541.5" r="0.80" fill="#45b9e0" opacity="0.38"/><circle cx="532.0" cy="541.2" r="0.39" fill="#45b9e0" opacity="0.46"/><circle cx="518.8" cy="545.7" r="0.39" fill="#45b9e0" opacity="0.42"/><circle cx="520.3" cy="558.8" r="0.70" fill="#45b9e0" opacity="0.38"/><circle cx="541.0" cy="566.0" r="0.80" fill="#45b9e0" opacity="0.45"/><circle cx="549.4" cy="549.9" r="0.67" fill="#45b9e0" opacity="0.54"/><circle cx="517.4" cy="524.9" r="0.70" fill="#45b9e0" opacity="0.24"/><circle cx="538.4" cy="559.4" r="0.43" fill="#45b9e0" opacity="0.42"/><circle cx="565.7" cy="554.3" r="0.78" fill="#45b9e0" opacity="0.38"/><circle cx="516.3" cy="515.0" r="0.53" fill="#45b9e0" opacity="0.25"/><circle cx="551.2" cy="506.9" r="0.66" fill="#45b9e0" opacity="0.33"/><circle cx="541.7" cy="539.1" r="0.53" fill="#45b9e0" opacity="0.51"/><circle cx="548.6" cy="542.9" r="0.58" fill="#45b9e0" opacity="0.26"/><circle cx="514.7" cy="524.1" r="0.53" fill="#45b9e0" opacity="0.30"/><circle cx="539.8" cy="529.7" r="0.66" fill="#45b9e0" opacity="0.37"/><circle cx="520.5" cy="513.8" r="0.40" fill="#45b9e0" opacity="0.40"/><circle cx="512.5" cy="562.1" r="0.78" fill="#45b9e0" opacity="0.39"/><circle cx="513.3" cy="528.2" r="0.63" fill="#45b9e0" opacity="0.25"/><circle cx="515.0" cy="554.1" r="0.36" fill="#45b9e0" opacity="0.56"/><circle cx="541.9" cy="537.8" r="0.36" fill="#45b9e0" opacity="0.49"/><circle cx="517.1" cy="535.9" r="0.69" fill="#45b9e0" opacity="0.23"/><circle cx="517.9" cy="582.0" r="0.70" fill="#45b9e0" opacity="0.29"/><circle cx="569.4" cy="540.5" r="0.62" fill="#45b9e0" opacity="0.41"/><circle cx="516.8" cy="550.0" r="0.43" fill="#45b9e0" opacity="0.41"/><circle cx="541.3" cy="529.5" r="0.64" fill="#45b9e0" opacity="0.43"/><circle cx="532.1" cy="524.7" r="0.73" fill="#45b9e0" opacity="0.41"/><circle cx="580.3" cy="513.2" r="0.72" fill="#45b9e0" opacity="0.51"/><circle cx="526.9" cy="516.2" r="0.46" fill="#45b9e0" opacity="0.24"/><circle cx="524.8" cy="527.8" r="0.63" fill="#45b9e0" opacity="0.42"/><circle cx="538.5" cy="528.6" r="0.46" fill="#45b9e0" opacity="0.32"/><circle cx="533.9" cy="500.8" r="0.49" fill="#45b9e0" opacity="0.33"/><circle cx="544.1" cy="548.7" r="0.63" fill="#45b9e0" opacity="0.50"/><circle cx="518.5" cy="500.2" r="0.68" fill="#45b9e0" opacity="0.59"/><circle cx="545.0" cy="548.7" r="0.64" fill="#45b9e0" opacity="0.33"/><circle cx="527.9" cy="522.1" r="0.60" fill="#45b9e0" opacity="0.41"/><circle cx="515.1" cy="544.6" r="0.48" fill="#45b9e0" opacity="0.39"/><circle cx="528.6" cy="538.4" r="0.76" fill="#45b9e0" opacity="0.59"/><circle cx="518.6" cy="523.9" r="0.36" fill="#45b9e0" opacity="0.55"/><circle cx="536.5" cy="549.2" r="0.77" fill="#45b9e0" opacity="0.47"/><circle cx="539.1" cy="507.8" r="0.43" fill="#45b9e0" opacity="0.40"/><circle cx="537.9" cy="553.1" r="0.57" fill="#45b9e0" opacity="0.53"/><circle cx="523.6" cy="574.2" r="0.41" fill="#45b9e0" opacity="0.30"/><circle cx="551.4" cy="550.8" r="0.61" fill="#45b9e0" opacity="0.49"/><circle cx="577.8" cy="558.8" r="0.68" fill="#45b9e0" opacity="0.43"/><circle cx="526.1" cy="532.1" r="0.48" fill="#45b9e0" opacity="0.42"/><circle cx="576.7" cy="520.2" r="0.66" fill="#45b9e0" opacity="0.22"/><circle cx="545.7" cy="534.6" r="0.44" fill="#45b9e0" opacity="0.50"/><circle cx="555.5" cy="516.6" r="0.60" fill="#45b9e0" opacity="0.30"/><circle cx="547.2" cy="545.9" r="0.51" fill="#45b9e0" opacity="0.43"/><circle cx="526.5" cy="555.5" r="0.40" fill="#45b9e0" opacity="0.21"/><circle cx="563.7" cy="537.7" r="0.53" fill="#45b9e0" opacity="0.56"/><circle cx="548.4" cy="524.6" r="0.48" fill="#45b9e0" opacity="0.56"/><circle cx="547.7" cy="572.0" r="0.46" fill="#45b9e0" opacity="0.58"/><circle cx="520.2" cy="528.9" r="0.68" fill="#45b9e0" opacity="0.26"/><circle cx="535.5" cy="555.3" r="0.50" fill="#45b9e0" opacity="0.34"/><circle cx="529.2" cy="560.5" r="0.39" fill="#45b9e0" opacity="0.52"/><circle cx="542.7" cy="566.7" r="0.54" fill="#45b9e0" opacity="0.59"/><circle cx="548.4" cy="521.7" r="0.73" fill="#45b9e0" opacity="0.57"/><circle cx="541.9" cy="533.3" r="0.62" fill="#45b9e0" opacity="0.23"/><circle cx="530.8" cy="556.3" r="0.63" fill="#45b9e0" opacity="0.20"/><circle cx="512.3" cy="532.6" r="0.54" fill="#45b9e0" opacity="0.39"/><circle cx="536.7" cy="517.7" r="0.42" fill="#45b9e0" opacity="0.47"/><circle cx="516.1" cy="574.3" r="0.54" fill="#45b9e0" opacity="0.58"/><circle cx="536.2" cy="547.2" r="0.49" fill="#45b9e0" opacity="0.58"/><circle cx="525.8" cy="555.4" r="0.59" fill="#45b9e0" opacity="0.47"/><circle cx="524.1" cy="538.7" r="0.50" fill="#45b9e0" opacity="0.49"/><circle cx="561.0" cy="542.8" r="0.65" fill="#45b9e0" opacity="0.24"/><circle cx="531.0" cy="546.1" r="0.49" fill="#45b9e0" opacity="0.27"/><circle cx="515.6" cy="553.3" r="0.36" fill="#45b9e0" opacity="0.41"/><circle cx="512.9" cy="527.9" r="0.39" fill="#45b9e0" opacity="0.49"/><circle cx="527.4" cy="547.7" r="0.57" fill="#45b9e0" opacity="0.32"/><circle cx="520.3" cy="515.5" r="0.59" fill="#45b9e0" opacity="0.35"/><circle cx="570.4" cy="547.1" r="0.53" fill="#45b9e0" opacity="0.53"/><circle cx="538.8" cy="555.3" r="0.59" fill="#45b9e0" opacity="0.26"/><circle cx="578.9" cy="557.4" r="0.77" fill="#45b9e0" opacity="0.60"/><circle cx="562.0" cy="534.4" r="0.62" fill="#45b9e0" opacity="0.39"/><circle cx="533.6" cy="568.5" r="0.55" fill="#45b9e0" opacity="0.47"/><circle cx="537.8" cy="546.4" r="0.40" fill="#45b9e0" opacity="0.51"/><circle cx="538.1" cy="544.2" r="0.70" fill="#45b9e0" opacity="0.41"/><circle cx="520.0" cy="564.1" r="0.35" fill="#45b9e0" opacity="0.22"/><circle cx="591.6" cy="549.5" r="0.75" fill="#45b9e0" opacity="0.42"/><circle cx="549.1" cy="533.5" r="0.66" fill="#45b9e0" opacity="0.24"/><circle cx="552.5" cy="551.8" r="0.53" fill="#45b9e0" opacity="0.46"/><circle cx="537.8" cy="566.8" r="0.44" fill="#45b9e0" opacity="0.40"/><circle cx="547.2" cy="552.2" r="0.37" fill="#45b9e0" opacity="0.30"/><circle cx="516.1" cy="528.2" r="0.56" fill="#45b9e0" opacity="0.60"/><circle cx="552.2" cy="523.0" r="0.70" fill="#45b9e0" opacity="0.59"/><circle cx="536.4" cy="555.4" r="0.69" fill="#45b9e0" opacity="0.21"/><circle cx="537.0" cy="545.2" r="0.60" fill="#45b9e0" opacity="0.49"/><circle cx="536.5" cy="523.3" r="0.66" fill="#45b9e0" opacity="0.23"/><circle cx="551.6" cy="506.2" r="0.63" fill="#45b9e0" opacity="0.40"/><circle cx="544.9" cy="540.6" r="0.43" fill="#45b9e0" opacity="0.28"/><circle cx="522.7" cy="516.0" r="0.37" fill="#45b9e0" opacity="0.45"/><circle cx="534.5" cy="515.5" r="0.43" fill="#45b9e0" opacity="0.58"/><circle cx="527.8" cy="565.6" r="0.56" fill="#45b9e0" opacity="0.27"/><circle cx="514.2" cy="557.1" r="0.43" fill="#45b9e0" opacity="0.22"/><circle cx="540.9" cy="518.6" r="0.46" fill="#45b9e0" opacity="0.58"/><circle cx="543.3" cy="552.0" r="0.77" fill="#45b9e0" opacity="0.46"/><circle cx="563.8" cy="547.9" r="0.68" fill="#45b9e0" opacity="0.32"/><circle cx="559.0" cy="554.0" r="0.69" fill="#45b9e0" opacity="0.44"/><circle cx="551.2" cy="562.5" r="0.43" fill="#45b9e0" opacity="0.52"/><circle cx="544.8" cy="522.9" r="0.38" fill="#45b9e0" opacity="0.35"/><circle cx="513.7" cy="530.5" r="0.37" fill="#45b9e0" opacity="0.37"/><circle cx="539.1" cy="519.2" r="0.45" fill="#45b9e0" opacity="0.23"/><circle cx="544.0" cy="509.9" r="0.67" fill="#45b9e0" opacity="0.28"/><circle cx="512.0" cy="538.6" r="0.43" fill="#45b9e0" opacity="0.33"/><circle cx="520.3" cy="540.4" r="0.42" fill="#45b9e0" opacity="0.49"/><circle cx="513.9" cy="523.3" r="0.38" fill="#45b9e0" opacity="0.54"/><circle cx="580.8" cy="536.2" r="0.60" fill="#45b9e0" opacity="0.23"/><circle cx="514.9" cy="507.9" r="0.72" fill="#45b9e0" opacity="0.50"/><circle cx="599.7" cy="541.4" r="0.56" fill="#45b9e0" opacity="0.38"/><circle cx="548.7" cy="516.8" r="0.61" fill="#45b9e0" opacity="0.58"/><circle cx="521.2" cy="589.9" r="0.75" fill="#45b9e0" opacity="0.34"/><circle cx="554.7" cy="546.4" r="0.63" fill="#45b9e0" opacity="0.58"/><circle cx="560.0" cy="532.1" r="0.69" fill="#45b9e0" opacity="0.27"/><circle cx="529.2" cy="521.9" r="0.45" fill="#45b9e0" opacity="0.31"/><circle cx="545.9" cy="565.8" r="0.60" fill="#45b9e0" opacity="0.33"/><circle cx="565.0" cy="551.9" r="0.69" fill="#45b9e0" opacity="0.53"/><circle cx="514.6" cy="533.7" r="0.48" fill="#45b9e0" opacity="0.39"/><circle cx="529.4" cy="580.5" r="0.44" fill="#45b9e0" opacity="0.21"/><circle cx="521.8" cy="544.2" r="0.36" fill="#45b9e0" opacity="0.44"/><circle cx="543.7" cy="527.1" r="0.38" fill="#45b9e0" opacity="0.42"/><circle cx="539.0" cy="539.5" r="0.45" fill="#45b9e0" opacity="0.26"/><circle cx="542.4" cy="544.0" r="0.61" fill="#45b9e0" opacity="0.47"/><circle cx="519.2" cy="573.0" r="0.47" fill="#45b9e0" opacity="0.50"/><circle cx="524.2" cy="570.7" r="0.68" fill="#45b9e0" opacity="0.52"/><circle cx="581.2" cy="535.9" r="0.79" fill="#45b9e0" opacity="0.52"/><circle cx="527.9" cy="555.3" r="0.63" fill="#45b9e0" opacity="0.25"/><circle cx="518.3" cy="551.2" r="0.64" fill="#45b9e0" opacity="0.35"/><circle cx="563.1" cy="527.5" r="0.59" fill="#45b9e0" opacity="0.34"/><circle cx="516.5" cy="548.9" r="0.40" fill="#45b9e0" opacity="0.55"/><circle cx="513.2" cy="544.9" r="0.79" fill="#45b9e0" opacity="0.35"/><circle cx="517.4" cy="516.8" r="0.79" fill="#45b9e0" opacity="0.23"/><circle cx="557.6" cy="546.2" r="0.36" fill="#45b9e0" opacity="0.57"/><circle cx="537.4" cy="568.2" r="0.39" fill="#45b9e0" opacity="0.23"/><circle cx="560.3" cy="557.7" r="0.77" fill="#45b9e0" opacity="0.57"/><circle cx="525.7" cy="540.1" r="0.70" fill="#45b9e0" opacity="0.40"/><circle cx="521.2" cy="510.5" r="0.60" fill="#45b9e0" opacity="0.27"/><circle cx="520.2" cy="549.4" r="0.54" fill="#45b9e0" opacity="0.32"/><circle cx="521.7" cy="540.0" r="0.69" fill="#45b9e0" opacity="0.25"/><circle cx="569.7" cy="563.8" r="0.45" fill="#45b9e0" opacity="0.44"/><circle cx="539.8" cy="531.7" r="0.51" fill="#45b9e0" opacity="0.26"/><circle cx="522.3" cy="521.5" r="0.62" fill="#45b9e0" opacity="0.53"/><circle cx="541.8" cy="551.5" r="0.51" fill="#45b9e0" opacity="0.57"/><circle cx="527.4" cy="532.0" r="0.56" fill="#45b9e0" opacity="0.21"/><circle cx="524.1" cy="541.2" r="0.41" fill="#45b9e0" opacity="0.40"/><circle cx="533.5" cy="538.6" r="0.61" fill="#45b9e0" opacity="0.32"/><circle cx="515.1" cy="534.6" r="0.73" fill="#45b9e0" opacity="0.38"/><circle cx="524.4" cy="558.3" r="0.63" fill="#45b9e0" opacity="0.24"/><circle cx="531.3" cy="534.1" r="0.53" fill="#45b9e0" opacity="0.23"/><circle cx="590.6" cy="551.0" r="0.43" fill="#45b9e0" opacity="0.27"/><circle cx="555.8" cy="534.6" r="0.41" fill="#45b9e0" opacity="0.29"/><circle cx="530.8" cy="532.4" r="0.36" fill="#45b9e0" opacity="0.48"/><circle cx="551.3" cy="517.3" r="0.73" fill="#45b9e0" opacity="0.29"/><circle cx="527.9" cy="569.4" r="0.63" fill="#45b9e0" opacity="0.45"/><circle cx="534.1" cy="537.0" r="0.46" fill="#45b9e0" opacity="0.23"/><circle cx="551.5" cy="550.6" r="0.39" fill="#45b9e0" opacity="0.55"/><circle cx="529.4" cy="538.9" r="0.78" fill="#45b9e0" opacity="0.45"/><circle cx="543.4" cy="542.7" r="0.51" fill="#45b9e0" opacity="0.32"/><circle cx="533.8" cy="548.4" r="0.36" fill="#45b9e0" opacity="0.38"/><circle cx="535.1" cy="543.7" r="0.77" fill="#45b9e0" opacity="0.55"/><circle cx="569.6" cy="542.1" r="0.51" fill="#45b9e0" opacity="0.50"/><circle cx="517.2" cy="520.7" r="0.68" fill="#45b9e0" opacity="0.34"/><circle cx="527.5" cy="562.2" r="0.40" fill="#45b9e0" opacity="0.49"/><circle cx="512.4" cy="570.1" r="0.71" fill="#45b9e0" opacity="0.44"/><circle cx="555.3" cy="526.3" r="0.66" fill="#45b9e0" opacity="0.50"/><circle cx="538.1" cy="499.6" r="0.62" fill="#45b9e0" opacity="0.46"/><circle cx="549.6" cy="534.9" r="0.77" fill="#45b9e0" opacity="0.32"/><circle cx="525.9" cy="566.2" r="0.49" fill="#45b9e0" opacity="0.49"/><circle cx="513.3" cy="540.9" r="0.44" fill="#45b9e0" opacity="0.45"/><circle cx="550.4" cy="559.1" r="0.56" fill="#45b9e0" opacity="0.24"/><circle cx="549.1" cy="556.2" r="0.63" fill="#45b9e0" opacity="0.45"/><circle cx="550.0" cy="541.2" r="0.80" fill="#45b9e0" opacity="0.55"/><circle cx="565.7" cy="554.0" r="0.65" fill="#45b9e0" opacity="0.52"/><circle cx="524.3" cy="541.9" r="0.45" fill="#45b9e0" opacity="0.29"/><circle cx="542.4" cy="501.3" r="0.45" fill="#45b9e0" opacity="0.39"/><circle cx="551.4" cy="523.1" r="0.61" fill="#45b9e0" opacity="0.56"/><circle cx="524.4" cy="537.5" r="0.78" fill="#45b9e0" opacity="0.32"/><circle cx="552.3" cy="521.8" r="0.48" fill="#45b9e0" opacity="0.32"/><circle cx="558.9" cy="524.7" r="0.79" fill="#45b9e0" opacity="0.24"/><circle cx="548.8" cy="519.9" r="0.78" fill="#45b9e0" opacity="0.49"/><circle cx="514.8" cy="552.7" r="0.43" fill="#45b9e0" opacity="0.30"/><circle cx="537.5" cy="534.3" r="0.42" fill="#45b9e0" opacity="0.23"/><circle cx="535.2" cy="507.0" r="0.41" fill="#45b9e0" opacity="0.41"/><circle cx="542.0" cy="539.7" r="0.59" fill="#45b9e0" opacity="0.52"/><circle cx="576.3" cy="546.5" r="0.70" fill="#45b9e0" opacity="0.49"/><circle cx="532.5" cy="562.5" r="0.77" fill="#45b9e0" opacity="0.22"/><circle cx="551.8" cy="555.0" r="0.78" fill="#45b9e0" opacity="0.26"/><circle cx="525.4" cy="564.8" r="0.71" fill="#45b9e0" opacity="0.43"/><circle cx="517.6" cy="535.6" r="0.44" fill="#45b9e0" opacity="0.43"/><circle cx="514.2" cy="531.8" r="0.39" fill="#45b9e0" opacity="0.33"/><circle cx="536.8" cy="551.5" r="0.43" fill="#45b9e0" opacity="0.23"/><circle cx="560.5" cy="508.2" r="0.64" fill="#45b9e0" opacity="0.57"/><circle cx="542.9" cy="561.5" r="0.51" fill="#45b9e0" opacity="0.54"/><circle cx="548.0" cy="526.8" r="0.76" fill="#45b9e0" opacity="0.58"/><circle cx="534.3" cy="559.0" r="0.39" fill="#45b9e0" opacity="0.42"/><circle cx="520.0" cy="577.0" r="0.51" fill="#45b9e0" opacity="0.20"/><circle cx="524.7" cy="534.5" r="0.47" fill="#45b9e0" opacity="0.41"/><circle cx="563.5" cy="552.1" r="0.67" fill="#45b9e0" opacity="0.25"/><circle cx="524.2" cy="534.0" r="0.59" fill="#45b9e0" opacity="0.24"/><circle cx="519.0" cy="566.7" r="0.60" fill="#45b9e0" opacity="0.46"/><circle cx="537.9" cy="533.8" r="0.51" fill="#45b9e0" opacity="0.28"/><circle cx="514.4" cy="519.4" r="0.45" fill="#45b9e0" opacity="0.28"/><circle cx="565.5" cy="557.0" r="0.55" fill="#45b9e0" opacity="0.53"/><circle cx="553.6" cy="546.3" r="0.46" fill="#45b9e0" opacity="0.36"/><circle cx="514.1" cy="532.2" r="0.55" fill="#45b9e0" opacity="0.30"/><circle cx="519.4" cy="562.2" r="0.44" fill="#45b9e0" opacity="0.43"/><circle cx="534.8" cy="545.9" r="0.47" fill="#45b9e0" opacity="0.27"/><circle cx="536.7" cy="515.0" r="0.75" fill="#45b9e0" opacity="0.25"/><circle cx="522.6" cy="560.1" r="0.58" fill="#45b9e0" opacity="0.53"/><circle cx="544.1" cy="508.7" r="0.36" fill="#45b9e0" opacity="0.21"/><circle cx="529.5" cy="561.5" r="0.35" fill="#45b9e0" opacity="0.34"/><circle cx="557.2" cy="567.9" r="0.44" fill="#45b9e0" opacity="0.33"/><circle cx="540.3" cy="576.7" r="0.40" fill="#45b9e0" opacity="0.38"/><circle cx="516.4" cy="559.3" r="0.80" fill="#45b9e0" opacity="0.49"/><circle cx="514.6" cy="519.9" r="0.79" fill="#45b9e0" opacity="0.59"/><circle cx="527.1" cy="530.2" r="0.37" fill="#45b9e0" opacity="0.42"/><circle cx="575.5" cy="544.6" r="0.80" fill="#45b9e0" opacity="0.53"/><circle cx="518.8" cy="537.8" r="0.44" fill="#45b9e0" opacity="0.58"/><circle cx="526.9" cy="507.5" r="0.65" fill="#45b9e0" opacity="0.21"/><circle cx="536.8" cy="535.3" r="0.70" fill="#45b9e0" opacity="0.42"/><circle cx="551.0" cy="543.7" r="0.76" fill="#45b9e0" opacity="0.53"/><circle cx="561.3" cy="562.6" r="0.43" fill="#45b9e0" opacity="0.34"/><circle cx="516.3" cy="548.6" r="0.53" fill="#45b9e0" opacity="0.20"/><circle cx="569.9" cy="536.3" r="0.57" fill="#45b9e0" opacity="0.22"/><circle cx="516.5" cy="582.1" r="0.48" fill="#45b9e0" opacity="0.24"/><circle cx="549.7" cy="552.9" r="0.41" fill="#45b9e0" opacity="0.35"/><circle cx="561.6" cy="532.2" r="0.53" fill="#45b9e0" opacity="0.60"/><circle cx="513.9" cy="581.5" r="0.39" fill="#45b9e0" opacity="0.57"/><circle cx="531.0" cy="538.3" r="0.72" fill="#45b9e0" opacity="0.55"/><circle cx="557.3" cy="568.6" r="0.78" fill="#45b9e0" opacity="0.34"/><circle cx="524.9" cy="507.7" r="0.61" fill="#45b9e0" opacity="0.35"/><circle cx="534.7" cy="577.3" r="0.70" fill="#45b9e0" opacity="0.58"/><circle cx="549.8" cy="552.1" r="0.67" fill="#45b9e0" opacity="0.29"/><circle cx="579.1" cy="546.1" r="0.70" fill="#45b9e0" opacity="0.49"/><circle cx="529.1" cy="562.2" r="0.72" fill="#45b9e0" opacity="0.24"/><circle cx="520.6" cy="506.8" r="0.56" fill="#45b9e0" opacity="0.58"/><circle cx="557.0" cy="515.0" r="0.44" fill="#45b9e0" opacity="0.36"/><circle cx="521.9" cy="567.6" r="0.69" fill="#45b9e0" opacity="0.60"/><circle cx="565.0" cy="524.7" r="0.79" fill="#45b9e0" opacity="0.49"/><circle cx="513.1" cy="531.6" r="0.53" fill="#45b9e0" opacity="0.40"/><circle cx="566.4" cy="563.7" r="0.52" fill="#45b9e0" opacity="0.30"/><circle cx="546.6" cy="553.7" r="0.50" fill="#45b9e0" opacity="0.58"/><circle cx="534.5" cy="525.5" r="0.42" fill="#45b9e0" opacity="0.22"/><circle cx="528.7" cy="514.4" r="0.57" fill="#45b9e0" opacity="0.40"/><circle cx="570.9" cy="560.3" r="0.37" fill="#45b9e0" opacity="0.29"/><circle cx="519.6" cy="522.8" r="0.50" fill="#45b9e0" opacity="0.37"/><circle cx="527.4" cy="577.3" r="0.39" fill="#45b9e0" opacity="0.42"/><circle cx="518.5" cy="521.3" r="0.68" fill="#45b9e0" opacity="0.34"/><circle cx="522.7" cy="534.7" r="0.49" fill="#45b9e0" opacity="0.42"/><circle cx="539.3" cy="527.5" r="0.37" fill="#45b9e0" opacity="0.42"/><circle cx="528.9" cy="529.1" r="0.44" fill="#45b9e0" opacity="0.45"/><circle cx="513.7" cy="553.0" r="0.38" fill="#45b9e0" opacity="0.45"/><circle cx="552.5" cy="520.7" r="0.62" fill="#45b9e0" opacity="0.55"/><circle cx="526.7" cy="527.9" r="0.52" fill="#45b9e0" opacity="0.59"/><circle cx="554.8" cy="532.9" r="0.63" fill="#45b9e0" opacity="0.34"/><circle cx="536.1" cy="552.0" r="0.45" fill="#45b9e0" opacity="0.45"/><circle cx="537.3" cy="518.1" r="0.76" fill="#45b9e0" opacity="0.20"/><circle cx="516.0" cy="552.3" r="0.52" fill="#45b9e0" opacity="0.57"/><circle cx="568.2" cy="547.8" r="0.43" fill="#45b9e0" opacity="0.34"/><circle cx="520.0" cy="523.8" r="0.68" fill="#45b9e0" opacity="0.44"/><circle cx="516.3" cy="537.3" r="0.51" fill="#45b9e0" opacity="0.59"/><circle cx="530.3" cy="554.2" r="0.80" fill="#45b9e0" opacity="0.44"/><circle cx="524.2" cy="517.8" r="0.63" fill="#45b9e0" opacity="0.36"/><circle cx="516.1" cy="561.2" r="0.45" fill="#45b9e0" opacity="0.48"/><circle cx="525.6" cy="547.8" r="0.58" fill="#45b9e0" opacity="0.60"/><circle cx="521.3" cy="508.9" r="0.68" fill="#45b9e0" opacity="0.28"/><circle cx="518.0" cy="541.7" r="0.58" fill="#45b9e0" opacity="0.21"/><circle cx="524.1" cy="549.5" r="0.51" fill="#45b9e0" opacity="0.39"/><circle cx="514.5" cy="551.3" r="0.40" fill="#45b9e0" opacity="0.58"/><circle cx="582.5" cy="539.0" r="0.41" fill="#45b9e0" opacity="0.28"/><circle cx="516.1" cy="539.1" r="0.42" fill="#45b9e0" opacity="0.46"/><circle cx="583.1" cy="534.9" r="0.73" fill="#45b9e0" opacity="0.33"/><circle cx="580.7" cy="519.5" r="0.69" fill="#45b9e0" opacity="0.51"/><circle cx="522.0" cy="519.4" r="0.61" fill="#45b9e0" opacity="0.57"/><circle cx="518.5" cy="539.7" r="0.55" fill="#45b9e0" opacity="0.55"/><circle cx="521.4" cy="516.8" r="0.77" fill="#45b9e0" opacity="0.50"/><circle cx="520.0" cy="577.1" r="0.74" fill="#45b9e0" opacity="0.20"/><circle cx="543.4" cy="534.0" r="0.73" fill="#45b9e0" opacity="0.20"/><circle cx="523.6" cy="559.2" r="0.45" fill="#45b9e0" opacity="0.46"/><circle cx="525.2" cy="511.2" r="0.76" fill="#45b9e0" opacity="0.25"/><circle cx="519.4" cy="564.6" r="0.71" fill="#45b9e0" opacity="0.50"/><circle cx="576.8" cy="540.3" r="0.59" fill="#45b9e0" opacity="0.50"/><circle cx="528.1" cy="518.0" r="0.66" fill="#45b9e0" opacity="0.54"/><circle cx="521.2" cy="530.4" r="0.36" fill="#45b9e0" opacity="0.48"/><circle cx="520.3" cy="528.4" r="0.73" fill="#45b9e0" opacity="0.50"/><circle cx="521.5" cy="553.3" r="0.65" fill="#45b9e0" opacity="0.45"/><circle cx="549.5" cy="576.6" r="0.45" fill="#45b9e0" opacity="0.53"/><circle cx="527.3" cy="538.3" r="0.67" fill="#45b9e0" opacity="0.42"/><circle cx="541.9" cy="531.1" r="0.54" fill="#45b9e0" opacity="0.29"/><circle cx="528.0" cy="526.3" r="0.76" fill="#45b9e0" opacity="0.21"/><circle cx="516.8" cy="539.1" r="0.68" fill="#45b9e0" opacity="0.58"/><circle cx="530.6" cy="567.8" r="0.54" fill="#45b9e0" opacity="0.23"/><circle cx="531.8" cy="521.0" r="0.71" fill="#45b9e0" opacity="0.21"/><circle cx="524.0" cy="555.8" r="0.72" fill="#45b9e0" opacity="0.21"/><circle cx="542.9" cy="544.7" r="0.52" fill="#45b9e0" opacity="0.54"/><circle cx="527.0" cy="529.4" r="0.68" fill="#45b9e0" opacity="0.34"/><circle cx="516.8" cy="507.9" r="0.38" fill="#45b9e0" opacity="0.39"/><circle cx="543.5" cy="552.1" r="0.60" fill="#45b9e0" opacity="0.48"/><circle cx="543.7" cy="555.7" r="0.72" fill="#45b9e0" opacity="0.47"/><circle cx="518.1" cy="553.8" r="0.47" fill="#45b9e0" opacity="0.58"/><circle cx="562.0" cy="564.8" r="0.78" fill="#45b9e0" opacity="0.48"/><circle cx="547.9" cy="565.0" r="0.58" fill="#45b9e0" opacity="0.58"/><circle cx="557.5" cy="541.8" r="0.66" fill="#45b9e0" opacity="0.45"/><circle cx="530.1" cy="567.0" r="0.54" fill="#45b9e0" opacity="0.47"/><circle cx="515.3" cy="526.2" r="0.52" fill="#45b9e0" opacity="0.30"/><circle cx="548.1" cy="536.7" r="0.55" fill="#45b9e0" opacity="0.59"/><circle cx="524.9" cy="499.0" r="0.58" fill="#45b9e0" opacity="0.25"/><circle cx="521.3" cy="548.8" r="0.53" fill="#45b9e0" opacity="0.38"/><circle cx="599.8" cy="546.2" r="0.59" fill="#45b9e0" opacity="0.27"/><circle cx="532.9" cy="570.7" r="0.58" fill="#45b9e0" opacity="0.36"/><circle cx="544.8" cy="542.8" r="0.66" fill="#45b9e0" opacity="0.44"/><circle cx="547.7" cy="548.7" r="0.46" fill="#45b9e0" opacity="0.43"/><circle cx="564.7" cy="548.5" r="0.78" fill="#45b9e0" opacity="0.50"/><circle cx="540.1" cy="525.9" r="0.40" fill="#45b9e0" opacity="0.49"/><circle cx="522.2" cy="562.8" r="0.61" fill="#45b9e0" opacity="0.31"/><circle cx="538.3" cy="522.6" r="0.79" fill="#45b9e0" opacity="0.21"/><circle cx="539.5" cy="546.0" r="0.61" fill="#45b9e0" opacity="0.46"/><circle cx="575.8" cy="522.7" r="0.55" fill="#45b9e0" opacity="0.35"/><circle cx="512.1" cy="511.5" r="0.47" fill="#45b9e0" opacity="0.57"/><circle cx="513.9" cy="551.3" r="0.59" fill="#45b9e0" opacity="0.56"/><circle cx="548.0" cy="514.4" r="0.62" fill="#45b9e0" opacity="0.40"/><circle cx="516.9" cy="555.5" r="0.55" fill="#45b9e0" opacity="0.53"/><circle cx="597.2" cy="530.6" r="0.71" fill="#45b9e0" opacity="0.42"/><circle cx="540.0" cy="530.7" r="0.76" fill="#45b9e0" opacity="0.53"/><circle cx="542.0" cy="580.4" r="0.65" fill="#45b9e0" opacity="0.34"/><circle cx="513.1" cy="517.1" r="0.66" fill="#45b9e0" opacity="0.40"/><circle cx="561.1" cy="513.7" r="0.75" fill="#45b9e0" opacity="0.39"/><circle cx="550.5" cy="561.2" r="0.65" fill="#45b9e0" opacity="0.24"/><circle cx="537.9" cy="541.0" r="0.64" fill="#45b9e0" opacity="0.27"/><circle cx="519.2" cy="558.7" r="0.48" fill="#45b9e0" opacity="0.43"/><circle cx="541.9" cy="520.5" r="0.64" fill="#45b9e0" opacity="0.50"/><circle cx="538.2" cy="555.6" r="0.64" fill="#45b9e0" opacity="0.28"/><circle cx="520.6" cy="536.3" r="0.76" fill="#45b9e0" opacity="0.29"/><circle cx="542.3" cy="562.0" r="0.51" fill="#45b9e0" opacity="0.27"/><circle cx="542.9" cy="526.7" r="0.59" fill="#45b9e0" opacity="0.40"/><circle cx="553.2" cy="520.8" r="0.67" fill="#45b9e0" opacity="0.48"/><circle cx="528.9" cy="520.4" r="0.64" fill="#45b9e0" opacity="0.25"/><circle cx="542.6" cy="552.6" r="0.66" fill="#45b9e0" opacity="0.29"/><circle cx="537.6" cy="537.8" r="0.57" fill="#45b9e0" opacity="0.39"/><circle cx="530.2" cy="539.7" r="0.46" fill="#45b9e0" opacity="0.45"/><circle cx="531.0" cy="556.9" r="0.41" fill="#45b9e0" opacity="0.57"/><circle cx="551.3" cy="550.6" r="0.46" fill="#45b9e0" opacity="0.57"/><circle cx="550.9" cy="559.7" r="0.38" fill="#45b9e0" opacity="0.41"/><circle cx="547.7" cy="583.5" r="0.55" fill="#45b9e0" opacity="0.54"/><circle cx="535.1" cy="544.8" r="0.79" fill="#45b9e0" opacity="0.35"/><circle cx="536.1" cy="545.8" r="0.51" fill="#45b9e0" opacity="0.41"/><circle cx="532.1" cy="554.2" r="0.56" fill="#45b9e0" opacity="0.39"/><circle cx="527.8" cy="566.0" r="0.61" fill="#45b9e0" opacity="0.43"/><circle cx="514.2" cy="516.0" r="0.45" fill="#45b9e0" opacity="0.58"/><circle cx="532.1" cy="554.2" r="0.54" fill="#45b9e0" opacity="0.37"/><circle cx="527.5" cy="584.1" r="0.49" fill="#45b9e0" opacity="0.42"/><circle cx="525.1" cy="534.6" r="0.54" fill="#45b9e0" opacity="0.25"/><circle cx="562.0" cy="534.8" r="0.73" fill="#45b9e0" opacity="0.58"/><circle cx="538.8" cy="556.7" r="0.65" fill="#45b9e0" opacity="0.35"/><circle cx="547.1" cy="534.4" r="0.74" fill="#45b9e0" opacity="0.23"/><circle cx="549.8" cy="560.6" r="0.73" fill="#45b9e0" opacity="0.40"/><circle cx="546.1" cy="516.8" r="0.54" fill="#45b9e0" opacity="0.48"/><circle cx="527.6" cy="540.9" r="0.75" fill="#45b9e0" opacity="0.54"/><circle cx="530.2" cy="532.2" r="0.70" fill="#45b9e0" opacity="0.22"/><circle cx="539.2" cy="542.0" r="0.58" fill="#45b9e0" opacity="0.35"/><circle cx="544.5" cy="535.6" r="0.69" fill="#45b9e0" opacity="0.46"/><circle cx="515.7" cy="557.4" r="0.46" fill="#45b9e0" opacity="0.33"/><circle cx="545.8" cy="552.4" r="0.69" fill="#45b9e0" opacity="0.59"/><circle cx="513.9" cy="561.8" r="0.58" fill="#45b9e0" opacity="0.20"/><circle cx="517.9" cy="537.2" r="0.62" fill="#45b9e0" opacity="0.43"/><circle cx="584.5" cy="570.4" r="0.49" fill="#45b9e0" opacity="0.21"/><circle cx="530.6" cy="551.9" r="0.68" fill="#45b9e0" opacity="0.50"/><circle cx="552.3" cy="572.2" r="0.42" fill="#45b9e0" opacity="0.29"/><circle cx="547.6" cy="531.9" r="0.71" fill="#45b9e0" opacity="0.32"/><circle cx="548.9" cy="526.6" r="0.66" fill="#45b9e0" opacity="0.43"/><circle cx="521.8" cy="570.3" r="0.77" fill="#45b9e0" opacity="0.21"/><circle cx="525.3" cy="558.6" r="0.46" fill="#45b9e0" opacity="0.51"/><circle cx="522.3" cy="532.3" r="0.67" fill="#45b9e0" opacity="0.55"/><circle cx="517.7" cy="543.8" r="0.62" fill="#45b9e0" opacity="0.55"/><circle cx="548.1" cy="535.0" r="0.53" fill="#45b9e0" opacity="0.43"/><circle cx="548.8" cy="528.7" r="0.69" fill="#45b9e0" opacity="0.39"/><circle cx="552.8" cy="521.1" r="0.58" fill="#45b9e0" opacity="0.32"/><circle cx="519.9" cy="535.2" r="0.58" fill="#45b9e0" opacity="0.37"/><circle cx="533.3" cy="532.0" r="0.76" fill="#45b9e0" opacity="0.39"/><circle cx="523.7" cy="526.7" r="0.75" fill="#45b9e0" opacity="0.42"/><circle cx="544.8" cy="536.2" r="0.77" fill="#45b9e0" opacity="0.43"/><circle cx="541.7" cy="537.9" r="0.56" fill="#45b9e0" opacity="0.31"/><circle cx="535.5" cy="547.5" r="0.38" fill="#45b9e0" opacity="0.35"/><circle cx="558.6" cy="546.4" r="0.39" fill="#45b9e0" opacity="0.56"/><circle cx="522.4" cy="558.4" r="0.60" fill="#45b9e0" opacity="0.32"/><circle cx="516.5" cy="522.4" r="0.76" fill="#45b9e0" opacity="0.22"/><circle cx="574.1" cy="553.0" r="0.66" fill="#45b9e0" opacity="0.31"/><circle cx="530.9" cy="526.2" r="0.58" fill="#45b9e0" opacity="0.31"/><circle cx="556.8" cy="535.6" r="0.73" fill="#45b9e0" opacity="0.30"/><circle cx="549.5" cy="531.7" r="0.74" fill="#45b9e0" opacity="0.39"/><circle cx="560.0" cy="512.4" r="0.53" fill="#45b9e0" opacity="0.36"/><circle cx="553.3" cy="537.4" r="0.59" fill="#45b9e0" opacity="0.51"/><circle cx="542.6" cy="527.5" r="0.65" fill="#45b9e0" opacity="0.30"/><circle cx="515.0" cy="544.2" r="0.67" fill="#45b9e0" opacity="0.53"/><circle cx="512.5" cy="530.6" r="0.49" fill="#45b9e0" opacity="0.57"/><circle cx="563.2" cy="563.6" r="0.71" fill="#45b9e0" opacity="0.26"/><circle cx="525.1" cy="576.8" r="0.64" fill="#45b9e0" opacity="0.21"/><circle cx="532.3" cy="539.5" r="0.74" fill="#45b9e0" opacity="0.41"/><circle cx="544.0" cy="543.6" r="0.35" fill="#45b9e0" opacity="0.56"/><circle cx="550.7" cy="522.8" r="0.35" fill="#45b9e0" opacity="0.58"/><circle cx="516.1" cy="575.9" r="0.69" fill="#45b9e0" opacity="0.42"/><circle cx="529.9" cy="552.7" r="0.68" fill="#45b9e0" opacity="0.25"/><circle cx="564.9" cy="569.0" r="0.53" fill="#45b9e0" opacity="0.26"/><circle cx="529.4" cy="525.8" r="0.71" fill="#45b9e0" opacity="0.35"/><circle cx="540.5" cy="509.1" r="0.43" fill="#45b9e0" opacity="0.42"/><circle cx="527.4" cy="545.7" r="0.76" fill="#45b9e0" opacity="0.34"/><circle cx="520.6" cy="536.8" r="0.78" fill="#45b9e0" opacity="0.59"/><circle cx="518.8" cy="530.8" r="0.65" fill="#45b9e0" opacity="0.39"/><circle cx="534.1" cy="544.4" r="0.42" fill="#45b9e0" opacity="0.54"/><circle cx="554.1" cy="523.7" r="0.68" fill="#45b9e0" opacity="0.36"/><circle cx="537.9" cy="536.7" r="0.64" fill="#45b9e0" opacity="0.37"/><circle cx="517.6" cy="523.2" r="0.52" fill="#45b9e0" opacity="0.23"/><circle cx="533.6" cy="545.5" r="0.36" fill="#45b9e0" opacity="0.37"/><circle cx="560.1" cy="566.5" r="0.37" fill="#45b9e0" opacity="0.59"/><circle cx="561.8" cy="560.0" r="0.51" fill="#45b9e0" opacity="0.30"/><circle cx="535.1" cy="529.5" r="0.36" fill="#45b9e0" opacity="0.25"/><circle cx="534.0" cy="511.9" r="0.80" fill="#45b9e0" opacity="0.30"/><circle cx="515.5" cy="520.6" r="0.58" fill="#45b9e0" opacity="0.31"/><circle cx="572.3" cy="560.2" r="0.46" fill="#45b9e0" opacity="0.37"/><circle cx="541.4" cy="530.1" r="0.72" fill="#45b9e0" opacity="0.41"/><circle cx="542.0" cy="567.6" r="0.64" fill="#45b9e0" opacity="0.35"/><circle cx="526.0" cy="541.9" r="0.73" fill="#45b9e0" opacity="0.49"/><circle cx="521.0" cy="517.1" r="0.69" fill="#45b9e0" opacity="0.22"/><circle cx="542.8" cy="507.4" r="0.53" fill="#45b9e0" opacity="0.50"/><circle cx="524.6" cy="517.3" r="0.70" fill="#45b9e0" opacity="0.39"/><circle cx="540.3" cy="558.7" r="0.69" fill="#45b9e0" opacity="0.27"/><circle cx="571.0" cy="549.1" r="0.36" fill="#45b9e0" opacity="0.55"/><circle cx="530.0" cy="558.4" r="0.66" fill="#45b9e0" opacity="0.43"/><circle cx="516.4" cy="555.2" r="0.54" fill="#45b9e0" opacity="0.56"/><circle cx="562.9" cy="541.1" r="0.66" fill="#45b9e0" opacity="0.47"/><circle cx="528.3" cy="535.4" r="0.42" fill="#45b9e0" opacity="0.54"/><circle cx="550.6" cy="544.8" r="0.53" fill="#45b9e0" opacity="0.57"/><circle cx="528.2" cy="531.0" r="0.38" fill="#45b9e0" opacity="0.39"/><circle cx="546.0" cy="535.1" r="0.61" fill="#45b9e0" opacity="0.22"/><circle cx="550.2" cy="569.1" r="0.48" fill="#45b9e0" opacity="0.28"/><circle cx="544.8" cy="583.3" r="0.74" fill="#45b9e0" opacity="0.36"/><circle cx="526.7" cy="560.5" r="0.75" fill="#45b9e0" opacity="0.56"/><circle cx="572.2" cy="532.9" r="0.66" fill="#45b9e0" opacity="0.25"/><circle cx="530.1" cy="537.4" r="0.68" fill="#45b9e0" opacity="0.34"/><circle cx="557.6" cy="547.9" r="0.46" fill="#45b9e0" opacity="0.56"/><circle cx="532.0" cy="570.5" r="0.55" fill="#45b9e0" opacity="0.22"/><circle cx="517.5" cy="561.6" r="0.70" fill="#45b9e0" opacity="0.51"/><circle cx="529.7" cy="536.9" r="0.45" fill="#45b9e0" opacity="0.35"/><circle cx="521.3" cy="555.9" r="0.69" fill="#45b9e0" opacity="0.20"/><circle cx="528.6" cy="539.3" r="0.49" fill="#45b9e0" opacity="0.32"/><circle cx="585.6" cy="549.6" r="0.68" fill="#45b9e0" opacity="0.37"/><circle cx="536.4" cy="541.0" r="0.43" fill="#45b9e0" opacity="0.45"/><circle cx="518.5" cy="505.2" r="0.58" fill="#45b9e0" opacity="0.49"/><circle cx="550.7" cy="581.3" r="0.68" fill="#45b9e0" opacity="0.52"/><circle cx="581.4" cy="534.1" r="0.56" fill="#45b9e0" opacity="0.58"/><circle cx="585.7" cy="553.7" r="0.49" fill="#45b9e0" opacity="0.41"/><circle cx="549.6" cy="533.2" r="0.73" fill="#45b9e0" opacity="0.54"/><circle cx="532.8" cy="572.0" r="0.59" fill="#45b9e0" opacity="0.36"/><circle cx="564.4" cy="566.3" r="0.79" fill="#45b9e0" opacity="0.49"/><circle cx="524.0" cy="538.0" r="0.49" fill="#45b9e0" opacity="0.33"/><circle cx="538.6" cy="552.2" r="0.51" fill="#45b9e0" opacity="0.37"/><circle cx="527.5" cy="546.9" r="0.78" fill="#45b9e0" opacity="0.42"/><circle cx="515.8" cy="567.5" r="0.51" fill="#45b9e0" opacity="0.39"/><circle cx="535.4" cy="572.7" r="0.77" fill="#45b9e0" opacity="0.45"/><circle cx="568.9" cy="534.6" r="0.59" fill="#45b9e0" opacity="0.41"/><circle cx="523.1" cy="522.0" r="0.38" fill="#45b9e0" opacity="0.38"/><circle cx="531.6" cy="512.9" r="0.37" fill="#45b9e0" opacity="0.53"/><circle cx="549.0" cy="548.6" r="0.43" fill="#45b9e0" opacity="0.32"/><circle cx="517.3" cy="573.9" r="0.67" fill="#45b9e0" opacity="0.55"/><circle cx="523.3" cy="541.7" r="0.37" fill="#45b9e0" opacity="0.23"/><circle cx="525.8" cy="551.9" r="0.48" fill="#45b9e0" opacity="0.26"/><circle cx="529.8" cy="525.6" r="0.57" fill="#45b9e0" opacity="0.51"/><circle cx="527.9" cy="565.3" r="0.37" fill="#45b9e0" opacity="0.39"/><circle cx="549.3" cy="531.4" r="0.49" fill="#45b9e0" opacity="0.45"/><circle cx="549.6" cy="541.7" r="0.64" fill="#45b9e0" opacity="0.48"/><circle cx="579.8" cy="516.7" r="0.78" fill="#45b9e0" opacity="0.52"/><circle cx="535.6" cy="508.1" r="0.44" fill="#45b9e0" opacity="0.28"/><circle cx="530.8" cy="522.9" r="0.36" fill="#45b9e0" opacity="0.50"/><circle cx="529.0" cy="554.9" r="0.76" fill="#45b9e0" opacity="0.28"/><circle cx="523.7" cy="526.4" r="0.71" fill="#45b9e0" opacity="0.35"/><circle cx="556.9" cy="531.8" r="0.67" fill="#45b9e0" opacity="0.28"/><circle cx="521.2" cy="530.0" r="0.46" fill="#45b9e0" opacity="0.51"/><circle cx="531.0" cy="560.1" r="0.40" fill="#45b9e0" opacity="0.43"/><circle cx="525.7" cy="560.7" r="0.79" fill="#45b9e0" opacity="0.38"/><circle cx="520.2" cy="542.0" r="0.47" fill="#45b9e0" opacity="0.24"/><circle cx="525.5" cy="533.3" r="0.43" fill="#45b9e0" opacity="0.26"/><circle cx="514.8" cy="507.7" r="0.48" fill="#45b9e0" opacity="0.33"/><circle cx="518.6" cy="570.7" r="0.61" fill="#45b9e0" opacity="0.25"/><circle cx="537.6" cy="565.5" r="0.48" fill="#45b9e0" opacity="0.47"/><circle cx="518.6" cy="551.4" r="0.38" fill="#45b9e0" opacity="0.54"/><circle cx="518.2" cy="541.0" r="0.51" fill="#45b9e0" opacity="0.45"/><circle cx="523.8" cy="583.4" r="0.35" fill="#45b9e0" opacity="0.41"/><circle cx="530.5" cy="535.7" r="0.79" fill="#45b9e0" opacity="0.42"/><circle cx="548.5" cy="565.2" r="0.36" fill="#45b9e0" opacity="0.47"/><circle cx="535.2" cy="516.5" r="0.36" fill="#45b9e0" opacity="0.23"/><circle cx="541.9" cy="508.4" r="0.47" fill="#45b9e0" opacity="0.57"/><circle cx="517.9" cy="531.8" r="0.75" fill="#45b9e0" opacity="0.21"/><circle cx="521.9" cy="555.8" r="0.44" fill="#45b9e0" opacity="0.40"/><circle cx="591.7" cy="551.5" r="0.44" fill="#45b9e0" opacity="0.47"/><circle cx="554.6" cy="574.3" r="0.60" fill="#45b9e0" opacity="0.40"/><circle cx="514.7" cy="511.7" r="0.55" fill="#45b9e0" opacity="0.27"/><circle cx="525.8" cy="512.5" r="0.56" fill="#45b9e0" opacity="0.60"/><circle cx="563.3" cy="548.1" r="0.42" fill="#45b9e0" opacity="0.34"/><circle cx="528.9" cy="529.7" r="0.80" fill="#45b9e0" opacity="0.60"/><circle cx="543.2" cy="517.3" r="0.47" fill="#45b9e0" opacity="0.51"/><circle cx="534.7" cy="524.3" r="0.60" fill="#45b9e0" opacity="0.46"/><circle cx="512.1" cy="549.4" r="0.43" fill="#45b9e0" opacity="0.41"/><circle cx="553.1" cy="514.8" r="0.47" fill="#45b9e0" opacity="0.27"/><circle cx="528.7" cy="548.3" r="0.47" fill="#45b9e0" opacity="0.40"/><circle cx="518.0" cy="532.0" r="0.43" fill="#45b9e0" opacity="0.39"/><circle cx="531.7" cy="540.3" r="0.65" fill="#45b9e0" opacity="0.43"/><circle cx="589.3" cy="534.5" r="0.63" fill="#45b9e0" opacity="0.24"/><circle cx="537.2" cy="539.7" r="0.48" fill="#45b9e0" opacity="0.23"/><circle cx="528.9" cy="512.5" r="0.47" fill="#45b9e0" opacity="0.29"/><circle cx="552.5" cy="540.9" r="0.66" fill="#45b9e0" opacity="0.30"/><circle cx="559.6" cy="532.2" r="0.58" fill="#45b9e0" opacity="0.24"/><circle cx="518.6" cy="544.0" r="0.44" fill="#45b9e0" opacity="0.51"/><circle cx="528.6" cy="551.5" r="0.50" fill="#45b9e0" opacity="0.59"/><circle cx="529.0" cy="561.3" r="0.59" fill="#45b9e0" opacity="0.22"/><circle cx="523.2" cy="538.7" r="0.49" fill="#45b9e0" opacity="0.33"/><circle cx="546.3" cy="541.6" r="0.48" fill="#45b9e0" opacity="0.33"/><circle cx="517.9" cy="555.1" r="0.49" fill="#45b9e0" opacity="0.48"/><circle cx="525.9" cy="554.7" r="0.37" fill="#45b9e0" opacity="0.52"/><circle cx="519.6" cy="559.4" r="0.73" fill="#45b9e0" opacity="0.59"/><circle cx="523.5" cy="539.3" r="0.73" fill="#45b9e0" opacity="0.51"/><circle cx="538.2" cy="543.8" r="0.73" fill="#45b9e0" opacity="0.39"/><circle cx="553.3" cy="589.3" r="0.45" fill="#45b9e0" opacity="0.27"/><circle cx="513.7" cy="537.4" r="0.36" fill="#45b9e0" opacity="0.29"/><circle cx="553.2" cy="502.3" r="0.40" fill="#45b9e0" opacity="0.47"/><circle cx="515.5" cy="536.9" r="0.76" fill="#45b9e0" opacity="0.33"/><circle cx="552.0" cy="565.2" r="0.59" fill="#45b9e0" opacity="0.45"/><circle cx="553.8" cy="551.0" r="0.42" fill="#45b9e0" opacity="0.53"/><circle cx="519.0" cy="509.1" r="0.64" fill="#45b9e0" opacity="0.59"/><circle cx="536.3" cy="513.3" r="0.51" fill="#45b9e0" opacity="0.21"/><circle cx="523.6" cy="542.0" r="0.37" fill="#45b9e0" opacity="0.44"/><circle cx="546.7" cy="541.0" r="0.44" fill="#45b9e0" opacity="0.21"/><circle cx="528.1" cy="559.5" r="0.51" fill="#45b9e0" opacity="0.31"/><circle cx="600.8" cy="511.4" r="0.79" fill="#45b9e0" opacity="0.28"/><circle cx="518.3" cy="528.9" r="0.56" fill="#45b9e0" opacity="0.40"/><circle cx="534.3" cy="575.5" r="0.45" fill="#45b9e0" opacity="0.52"/><circle cx="516.5" cy="509.3" r="0.38" fill="#45b9e0" opacity="0.25"/><circle cx="515.1" cy="576.8" r="0.69" fill="#45b9e0" opacity="0.55"/><circle cx="526.2" cy="553.2" r="0.38" fill="#45b9e0" opacity="0.48"/><circle cx="543.1" cy="565.7" r="0.42" fill="#45b9e0" opacity="0.46"/><circle cx="516.9" cy="566.8" r="0.62" fill="#45b9e0" opacity="0.58"/><circle cx="532.1" cy="576.6" r="0.37" fill="#45b9e0" opacity="0.27"/><circle cx="516.4" cy="532.8" r="0.73" fill="#45b9e0" opacity="0.56"/><circle cx="521.6" cy="576.8" r="0.64" fill="#45b9e0" opacity="0.59"/><circle cx="542.6" cy="542.5" r="0.75" fill="#45b9e0" opacity="0.31"/><circle cx="538.0" cy="532.0" r="0.53" fill="#45b9e0" opacity="0.53"/><circle cx="512.9" cy="526.8" r="0.65" fill="#45b9e0" opacity="0.60"/><circle cx="545.1" cy="556.5" r="0.65" fill="#45b9e0" opacity="0.49"/><circle cx="536.2" cy="554.8" r="0.43" fill="#45b9e0" opacity="0.45"/><circle cx="539.1" cy="573.1" r="0.37" fill="#45b9e0" opacity="0.50"/><circle cx="546.4" cy="574.7" r="0.72" fill="#45b9e0" opacity="0.34"/><circle cx="529.9" cy="550.6" r="0.44" fill="#45b9e0" opacity="0.59"/><circle cx="514.4" cy="537.1" r="0.35" fill="#45b9e0" opacity="0.42"/><circle cx="550.9" cy="548.6" r="0.73" fill="#45b9e0" opacity="0.54"/><circle cx="567.8" cy="573.9" r="0.56" fill="#45b9e0" opacity="0.39"/><circle cx="525.8" cy="555.3" r="0.43" fill="#45b9e0" opacity="0.31"/><circle cx="535.8" cy="537.6" r="0.47" fill="#45b9e0" opacity="0.24"/><circle cx="575.8" cy="556.0" r="0.55" fill="#45b9e0" opacity="0.38"/><circle cx="574.5" cy="574.1" r="0.36" fill="#45b9e0" opacity="0.51"/><circle cx="537.4" cy="546.5" r="0.57" fill="#45b9e0" opacity="0.38"/><circle cx="523.8" cy="514.1" r="0.67" fill="#45b9e0" opacity="0.23"/><circle cx="518.9" cy="559.8" r="0.57" fill="#45b9e0" opacity="0.37"/><circle cx="525.1" cy="549.3" r="0.38" fill="#45b9e0" opacity="0.22"/><circle cx="561.7" cy="506.9" r="0.62" fill="#45b9e0" opacity="0.28"/><circle cx="540.7" cy="527.0" r="0.48" fill="#45b9e0" opacity="0.52"/><circle cx="514.2" cy="562.2" r="0.37" fill="#45b9e0" opacity="0.30"/><circle cx="544.3" cy="531.6" r="0.68" fill="#45b9e0" opacity="0.40"/><circle cx="514.9" cy="564.0" r="0.58" fill="#45b9e0" opacity="0.32"/><circle cx="519.2" cy="541.5" r="0.52" fill="#45b9e0" opacity="0.25"/><circle cx="551.0" cy="545.1" r="0.76" fill="#45b9e0" opacity="0.55"/><circle cx="539.2" cy="528.4" r="0.48" fill="#45b9e0" opacity="0.54"/><circle cx="534.9" cy="555.8" r="0.38" fill="#45b9e0" opacity="0.53"/><circle cx="535.9" cy="578.2" r="0.66" fill="#45b9e0" opacity="0.42"/><circle cx="566.3" cy="552.3" r="0.56" fill="#45b9e0" opacity="0.58"/><circle cx="539.3" cy="533.3" r="0.59" fill="#45b9e0" opacity="0.37"/><circle cx="563.1" cy="522.8" r="0.53" fill="#45b9e0" opacity="0.35"/><circle cx="531.4" cy="570.7" r="0.65" fill="#45b9e0" opacity="0.45"/><circle cx="559.3" cy="538.6" r="0.35" fill="#45b9e0" opacity="0.39"/><circle cx="530.0" cy="509.4" r="0.72" fill="#45b9e0" opacity="0.29"/><circle cx="587.5" cy="526.2" r="0.63" fill="#45b9e0" opacity="0.53"/><circle cx="518.8" cy="556.1" r="0.45" fill="#45b9e0" opacity="0.41"/><circle cx="535.3" cy="530.0" r="0.77" fill="#45b9e0" opacity="0.53"/><circle cx="519.5" cy="543.5" r="0.80" fill="#45b9e0" opacity="0.40"/><circle cx="523.5" cy="498.2" r="0.49" fill="#45b9e0" opacity="0.21"/><circle cx="561.6" cy="512.6" r="0.53" fill="#45b9e0" opacity="0.46"/><circle cx="587.6" cy="544.3" r="0.63" fill="#45b9e0" opacity="0.59"/><circle cx="523.4" cy="522.4" r="0.43" fill="#45b9e0" opacity="0.41"/><circle cx="538.1" cy="523.1" r="0.59" fill="#45b9e0" opacity="0.29"/><circle cx="526.2" cy="555.0" r="0.49" fill="#45b9e0" opacity="0.39"/><circle cx="535.8" cy="536.1" r="0.45" fill="#45b9e0" opacity="0.50"/><circle cx="533.7" cy="536.2" r="0.48" fill="#45b9e0" opacity="0.37"/><circle cx="525.1" cy="545.6" r="0.60" fill="#45b9e0" opacity="0.30"/><circle cx="518.0" cy="583.7" r="0.57" fill="#45b9e0" opacity="0.43"/><circle cx="541.4" cy="514.8" r="0.76" fill="#45b9e0" opacity="0.59"/><circle cx="552.1" cy="561.6" r="0.36" fill="#45b9e0" opacity="0.25"/><circle cx="512.6" cy="554.6" r="0.42" fill="#45b9e0" opacity="0.29"/><circle cx="533.5" cy="507.9" r="0.58" fill="#45b9e0" opacity="0.42"/><circle cx="512.6" cy="510.0" r="0.38" fill="#45b9e0" opacity="0.38"/><circle cx="522.6" cy="566.3" r="0.79" fill="#45b9e0" opacity="0.28"/><circle cx="530.6" cy="567.4" r="0.65" fill="#45b9e0" opacity="0.32"/><circle cx="541.7" cy="556.3" r="0.77" fill="#45b9e0" opacity="0.22"/><circle cx="543.5" cy="526.1" r="0.76" fill="#45b9e0" opacity="0.36"/><circle cx="516.1" cy="537.9" r="0.45" fill="#45b9e0" opacity="0.46"/><circle cx="530.5" cy="564.7" r="0.79" fill="#45b9e0" opacity="0.42"/><circle cx="532.1" cy="518.1" r="0.46" fill="#45b9e0" opacity="0.59"/><circle cx="517.1" cy="545.5" r="0.54" fill="#45b9e0" opacity="0.37"/><circle cx="521.2" cy="565.1" r="0.38" fill="#45b9e0" opacity="0.58"/><circle cx="538.1" cy="539.8" r="0.60" fill="#45b9e0" opacity="0.44"/><circle cx="556.7" cy="562.7" r="0.55" fill="#45b9e0" opacity="0.57"/><circle cx="517.0" cy="506.4" r="0.42" fill="#45b9e0" opacity="0.48"/><circle cx="570.1" cy="538.3" r="0.37" fill="#45b9e0" opacity="0.31"/><circle cx="559.3" cy="542.3" r="0.75" fill="#45b9e0" opacity="0.47"/><circle cx="532.6" cy="519.4" r="0.68" fill="#45b9e0" opacity="0.42"/><circle cx="517.7" cy="529.1" r="0.56" fill="#45b9e0" opacity="0.45"/><circle cx="549.4" cy="552.1" r="0.76" fill="#45b9e0" opacity="0.23"/><circle cx="517.1" cy="505.1" r="0.75" fill="#45b9e0" opacity="0.59"/><circle cx="540.1" cy="521.4" r="0.56" fill="#45b9e0" opacity="0.38"/><circle cx="535.3" cy="530.8" r="0.71" fill="#45b9e0" opacity="0.42"/><circle cx="547.3" cy="551.1" r="0.67" fill="#45b9e0" opacity="0.53"/><circle cx="532.0" cy="511.4" r="0.46" fill="#45b9e0" opacity="0.20"/><circle cx="521.7" cy="548.5" r="0.58" fill="#45b9e0" opacity="0.23"/><circle cx="565.0" cy="546.6" r="0.55" fill="#45b9e0" opacity="0.55"/><circle cx="535.4" cy="560.4" r="0.47" fill="#45b9e0" opacity="0.25"/><circle cx="526.5" cy="536.7" r="0.42" fill="#45b9e0" opacity="0.32"/><circle cx="516.9" cy="558.9" r="0.79" fill="#45b9e0" opacity="0.43"/><circle cx="525.0" cy="527.9" r="0.79" fill="#45b9e0" opacity="0.56"/><circle cx="595.9" cy="542.6" r="0.64" fill="#45b9e0" opacity="0.29"/><circle cx="538.8" cy="544.8" r="0.70" fill="#45b9e0" opacity="0.36"/><circle cx="569.6" cy="559.2" r="0.50" fill="#45b9e0" opacity="0.27"/><circle cx="517.3" cy="530.3" r="0.62" fill="#45b9e0" opacity="0.38"/><circle cx="569.6" cy="569.4" r="0.66" fill="#45b9e0" opacity="0.22"/><circle cx="549.2" cy="526.0" r="0.72" fill="#45b9e0" opacity="0.51"/><circle cx="525.4" cy="558.8" r="0.43" fill="#45b9e0" opacity="0.52"/><circle cx="551.5" cy="534.2" r="0.65" fill="#45b9e0" opacity="0.59"/><circle cx="546.2" cy="539.3" r="0.48" fill="#45b9e0" opacity="0.59"/><circle cx="527.0" cy="551.9" r="0.73" fill="#45b9e0" opacity="0.21"/><circle cx="524.6" cy="567.9" r="0.46" fill="#45b9e0" opacity="0.35"/><circle cx="559.0" cy="546.1" r="0.38" fill="#45b9e0" opacity="0.32"/><circle cx="551.6" cy="559.0" r="0.45" fill="#45b9e0" opacity="0.42"/><circle cx="552.5" cy="546.9" r="0.50" fill="#45b9e0" opacity="0.56"/><circle cx="521.3" cy="559.9" r="0.74" fill="#45b9e0" opacity="0.22"/><circle cx="548.8" cy="543.3" r="0.48" fill="#45b9e0" opacity="0.27"/><circle cx="519.8" cy="542.0" r="0.35" fill="#45b9e0" opacity="0.31"/><circle cx="529.8" cy="553.5" r="0.67" fill="#45b9e0" opacity="0.37"/><circle cx="545.1" cy="525.7" r="0.67" fill="#45b9e0" opacity="0.57"/><circle cx="557.7" cy="531.8" r="0.60" fill="#45b9e0" opacity="0.23"/><circle cx="531.8" cy="519.5" r="0.37" fill="#45b9e0" opacity="0.50"/><circle cx="585.1" cy="554.2" r="0.68" fill="#3db6df" opacity="0.66"/><circle cx="619.3" cy="539.8" r="0.86" fill="#3db6df" opacity="0.48"/><circle cx="579.5" cy="542.1" r="0.67" fill="#3db6df" opacity="0.58"/><circle cx="589.9" cy="521.3" r="0.73" fill="#3db6df" opacity="0.39"/><circle cx="567.5" cy="543.1" r="0.42" fill="#3db6df" opacity="0.39"/><circle cx="561.3" cy="569.8" r="0.89" fill="#3db6df" opacity="0.57"/><circle cx="569.7" cy="555.1" r="0.85" fill="#3db6df" opacity="0.56"/><circle cx="602.2" cy="554.6" r="0.76" fill="#3db6df" opacity="0.31"/><circle cx="608.6" cy="548.9" r="0.63" fill="#3db6df" opacity="0.69"/><circle cx="623.1" cy="538.4" r="0.89" fill="#3db6df" opacity="0.64"/><circle cx="557.6" cy="555.5" r="0.52" fill="#3db6df" opacity="0.66"/><circle cx="610.1" cy="528.4" r="0.95" fill="#3db6df" opacity="0.66"/><circle cx="552.4" cy="551.4" r="0.50" fill="#3db6df" opacity="0.44"/><circle cx="608.1" cy="562.7" r="0.90" fill="#3db6df" opacity="0.46"/><circle cx="578.0" cy="533.0" r="0.78" fill="#3db6df" opacity="0.44"/><circle cx="564.2" cy="515.5" r="0.51" fill="#3db6df" opacity="0.54"/><circle cx="602.6" cy="547.3" r="0.76" fill="#3db6df" opacity="0.53"/><circle cx="587.1" cy="561.1" r="0.65" fill="#3db6df" opacity="0.31"/><circle cx="588.0" cy="532.4" r="0.98" fill="#3db6df" opacity="0.56"/><circle cx="557.8" cy="528.4" r="0.92" fill="#3db6df" opacity="0.47"/><circle cx="622.1" cy="549.2" r="0.43" fill="#3db6df" opacity="0.32"/><circle cx="599.0" cy="542.3" r="0.70" fill="#3db6df" opacity="0.55"/><circle cx="571.0" cy="540.4" r="0.52" fill="#3db6df" opacity="0.59"/><circle cx="563.3" cy="541.8" r="0.47" fill="#3db6df" opacity="0.56"/><circle cx="623.7" cy="568.2" r="0.83" fill="#3db6df" opacity="0.30"/><circle cx="557.5" cy="536.9" r="0.75" fill="#3db6df" opacity="0.51"/><circle cx="612.0" cy="560.5" r="0.44" fill="#3db6df" opacity="0.60"/><circle cx="552.2" cy="546.3" r="0.69" fill="#3db6df" opacity="0.61"/><circle cx="623.8" cy="550.4" r="0.58" fill="#3db6df" opacity="0.56"/><circle cx="588.3" cy="526.3" r="0.70" fill="#3db6df" opacity="0.54"/><circle cx="580.6" cy="531.6" r="0.79" fill="#3db6df" opacity="0.69"/><circle cx="619.2" cy="558.6" r="0.88" fill="#3db6df" opacity="0.34"/><circle cx="585.3" cy="525.6" r="0.95" fill="#3db6df" opacity="0.38"/><circle cx="545.8" cy="544.3" r="0.92" fill="#3db6df" opacity="0.69"/><circle cx="572.1" cy="536.4" r="0.63" fill="#3db6df" opacity="0.55"/><circle cx="600.3" cy="537.4" r="0.94" fill="#3db6df" opacity="0.45"/><circle cx="584.5" cy="515.1" r="0.71" fill="#3db6df" opacity="0.67"/><circle cx="622.5" cy="555.3" r="0.42" fill="#3db6df" opacity="0.61"/><circle cx="553.9" cy="532.0" r="0.45" fill="#3db6df" opacity="0.53"/><circle cx="600.3" cy="544.2" r="0.61" fill="#3db6df" opacity="0.52"/><circle cx="576.7" cy="548.4" r="0.96" fill="#3db6df" opacity="0.55"/><circle cx="588.3" cy="550.6" r="0.88" fill="#3db6df" opacity="0.63"/><circle cx="605.5" cy="532.2" r="0.59" fill="#3db6df" opacity="0.33"/><circle cx="619.0" cy="553.1" r="0.45" fill="#3db6df" opacity="0.45"/><circle cx="613.2" cy="534.2" r="0.41" fill="#3db6df" opacity="0.36"/><circle cx="580.8" cy="564.8" r="0.78" fill="#3db6df" opacity="0.62"/><circle cx="616.7" cy="547.3" r="1.00" fill="#3db6df" opacity="0.32"/><circle cx="582.3" cy="538.1" r="0.61" fill="#3db6df" opacity="0.31"/><circle cx="561.3" cy="567.8" r="0.61" fill="#3db6df" opacity="0.70"/><circle cx="604.1" cy="542.8" r="0.42" fill="#3db6df" opacity="0.54"/><circle cx="561.4" cy="541.5" r="0.52" fill="#3db6df" opacity="0.44"/><circle cx="545.5" cy="556.6" r="0.59" fill="#3db6df" opacity="0.42"/><circle cx="554.1" cy="551.2" r="0.45" fill="#3db6df" opacity="0.67"/><circle cx="565.6" cy="549.4" r="0.62" fill="#3db6df" opacity="0.33"/><circle cx="610.0" cy="545.8" r="0.62" fill="#3db6df" opacity="0.67"/><circle cx="618.4" cy="548.6" r="0.68" fill="#3db6df" opacity="0.53"/><circle cx="550.9" cy="555.5" r="0.55" fill="#3db6df" opacity="0.64"/><circle cx="557.8" cy="535.6" r="0.69" fill="#3db6df" opacity="0.41"/><circle cx="590.4" cy="543.9" r="0.55" fill="#3db6df" opacity="0.31"/><circle cx="554.1" cy="554.7" r="0.87" fill="#3db6df" opacity="0.48"/><circle cx="586.0" cy="539.7" r="0.51" fill="#3db6df" opacity="0.46"/><circle cx="605.1" cy="536.5" r="0.84" fill="#3db6df" opacity="0.48"/><circle cx="593.6" cy="543.2" r="0.78" fill="#3db6df" opacity="0.62"/><circle cx="574.5" cy="567.8" r="0.75" fill="#3db6df" opacity="0.58"/><circle cx="587.6" cy="544.6" r="0.87" fill="#3db6df" opacity="0.43"/><circle cx="586.2" cy="535.7" r="0.49" fill="#3db6df" opacity="0.46"/><circle cx="615.9" cy="551.8" r="0.73" fill="#3db6df" opacity="0.56"/><circle cx="600.0" cy="545.4" r="0.81" fill="#3db6df" opacity="0.59"/><circle cx="593.2" cy="551.8" r="0.57" fill="#3db6df" opacity="0.30"/><circle cx="585.6" cy="554.8" r="0.98" fill="#3db6df" opacity="0.49"/><circle cx="605.8" cy="541.7" r="0.73" fill="#3db6df" opacity="0.70"/><circle cx="597.3" cy="541.9" r="0.58" fill="#3db6df" opacity="0.66"/><circle cx="598.5" cy="563.9" r="0.75" fill="#3db6df" opacity="0.49"/><circle cx="587.4" cy="535.6" r="0.59" fill="#3db6df" opacity="0.64"/><circle cx="555.2" cy="551.8" r="0.66" fill="#3db6df" opacity="0.54"/><circle cx="569.9" cy="543.4" r="0.76" fill="#3db6df" opacity="0.32"/><circle cx="614.6" cy="563.5" r="0.92" fill="#3db6df" opacity="0.61"/><circle cx="605.0" cy="558.5" r="0.51" fill="#3db6df" opacity="0.53"/><circle cx="549.9" cy="543.6" r="0.53" fill="#3db6df" opacity="0.48"/><circle cx="552.3" cy="529.1" r="0.80" fill="#3db6df" opacity="0.58"/><circle cx="549.8" cy="531.1" r="0.51" fill="#3db6df" opacity="0.66"/><circle cx="566.8" cy="531.6" r="0.41" fill="#3db6df" opacity="0.33"/><circle cx="605.5" cy="552.1" r="0.66" fill="#3db6df" opacity="0.33"/><circle cx="610.3" cy="566.1" r="0.60" fill="#3db6df" opacity="0.35"/><circle cx="545.3" cy="541.1" r="0.70" fill="#3db6df" opacity="0.53"/><circle cx="551.5" cy="552.8" r="0.40" fill="#3db6df" opacity="0.65"/><circle cx="579.0" cy="540.4" r="0.76" fill="#3db6df" opacity="0.60"/><circle cx="562.7" cy="525.0" r="0.53" fill="#3db6df" opacity="0.51"/><circle cx="623.9" cy="553.1" r="0.78" fill="#3db6df" opacity="0.42"/><circle cx="573.7" cy="542.7" r="0.57" fill="#3db6df" opacity="0.70"/><circle cx="575.7" cy="539.9" r="0.91" fill="#3db6df" opacity="0.33"/><circle cx="611.3" cy="545.1" r="0.54" fill="#3db6df" opacity="0.39"/><circle cx="548.4" cy="531.6" r="0.62" fill="#3db6df" opacity="0.43"/><circle cx="604.5" cy="567.0" r="0.54" fill="#3db6df" opacity="0.60"/><circle cx="622.3" cy="546.2" r="0.87" fill="#3db6df" opacity="0.62"/><circle cx="608.6" cy="541.3" r="0.75" fill="#3db6df" opacity="0.34"/><circle cx="599.1" cy="532.7" r="0.86" fill="#3db6df" opacity="0.37"/><circle cx="575.1" cy="538.5" r="0.78" fill="#3db6df" opacity="0.66"/><circle cx="624.2" cy="551.5" r="0.65" fill="#3db6df" opacity="0.51"/><circle cx="581.8" cy="538.8" r="0.45" fill="#3db6df" opacity="0.45"/><circle cx="619.5" cy="525.8" r="0.93" fill="#3db6df" opacity="0.51"/><circle cx="618.3" cy="561.9" r="0.99" fill="#3db6df" opacity="0.30"/><circle cx="592.3" cy="552.9" r="0.62" fill="#3db6df" opacity="0.36"/><circle cx="615.5" cy="541.0" r="0.74" fill="#3db6df" opacity="0.54"/><circle cx="592.7" cy="554.5" r="0.73" fill="#3db6df" opacity="0.48"/><circle cx="571.8" cy="537.0" r="0.98" fill="#3db6df" opacity="0.56"/><circle cx="584.6" cy="556.5" r="0.43" fill="#3db6df" opacity="0.49"/><circle cx="561.9" cy="550.9" r="0.64" fill="#3db6df" opacity="0.39"/><circle cx="563.0" cy="539.8" r="0.55" fill="#3db6df" opacity="0.59"/><circle cx="553.1" cy="545.6" r="0.91" fill="#3db6df" opacity="0.46"/><circle cx="562.0" cy="545.2" r="0.62" fill="#3db6df" opacity="0.30"/><circle cx="559.3" cy="535.5" r="0.96" fill="#3db6df" opacity="0.50"/><circle cx="579.8" cy="540.3" r="0.49" fill="#3db6df" opacity="0.64"/><circle cx="595.5" cy="541.4" r="0.59" fill="#3db6df" opacity="0.65"/><circle cx="568.3" cy="528.4" r="0.91" fill="#3db6df" opacity="0.41"/><circle cx="623.6" cy="551.4" r="0.53" fill="#3db6df" opacity="0.41"/><circle cx="586.1" cy="531.9" r="0.68" fill="#3db6df" opacity="0.61"/><circle cx="565.1" cy="539.6" r="0.66" fill="#3db6df" opacity="0.57"/><circle cx="616.3" cy="543.7" r="0.68" fill="#3db6df" opacity="0.41"/><circle cx="586.0" cy="553.8" r="0.96" fill="#3db6df" opacity="0.39"/><circle cx="611.5" cy="554.6" r="0.61" fill="#3db6df" opacity="0.35"/><circle cx="588.9" cy="536.1" r="0.91" fill="#3db6df" opacity="0.45"/><circle cx="565.4" cy="546.6" r="0.74" fill="#3db6df" opacity="0.61"/><circle cx="585.8" cy="538.6" r="0.58" fill="#3db6df" opacity="0.54"/><circle cx="571.9" cy="535.6" r="0.88" fill="#3db6df" opacity="0.61"/><circle cx="554.9" cy="530.6" r="0.56" fill="#3db6df" opacity="0.57"/><circle cx="595.9" cy="553.3" r="0.44" fill="#3db6df" opacity="0.33"/><circle cx="548.9" cy="538.5" r="0.72" fill="#3db6df" opacity="0.43"/><circle cx="548.0" cy="546.5" r="0.61" fill="#3db6df" opacity="0.61"/><circle cx="599.7" cy="541.8" r="0.53" fill="#3db6df" opacity="0.68"/><circle cx="580.8" cy="548.7" r="0.79" fill="#3db6df" opacity="0.68"/><circle cx="549.7" cy="536.2" r="0.74" fill="#3db6df" opacity="0.54"/><circle cx="622.4" cy="536.1" r="0.48" fill="#3db6df" opacity="0.52"/><circle cx="558.2" cy="539.9" r="0.61" fill="#3db6df" opacity="0.68"/><circle cx="559.6" cy="547.7" r="0.70" fill="#3db6df" opacity="0.66"/><circle cx="571.2" cy="557.7" r="0.85" fill="#3db6df" opacity="0.47"/><circle cx="624.5" cy="551.3" r="0.62" fill="#3db6df" opacity="0.49"/><circle cx="582.6" cy="540.7" r="0.75" fill="#3db6df" opacity="0.58"/><circle cx="556.9" cy="534.4" r="0.65" fill="#3db6df" opacity="0.41"/><circle cx="565.2" cy="530.2" r="0.76" fill="#3db6df" opacity="0.35"/><circle cx="561.9" cy="539.6" r="0.85" fill="#3db6df" opacity="0.52"/><circle cx="556.9" cy="556.6" r="0.61" fill="#3db6df" opacity="0.32"/><circle cx="624.7" cy="520.4" r="0.55" fill="#3db6df" opacity="0.41"/><circle cx="556.5" cy="548.1" r="0.63" fill="#3db6df" opacity="0.57"/><circle cx="589.1" cy="541.5" r="0.56" fill="#3db6df" opacity="0.61"/><circle cx="559.1" cy="548.2" r="0.99" fill="#3db6df" opacity="0.64"/><circle cx="558.5" cy="560.4" r="0.43" fill="#3db6df" opacity="0.57"/><circle cx="585.2" cy="544.3" r="0.65" fill="#3db6df" opacity="0.53"/><circle cx="546.4" cy="544.0" r="0.42" fill="#3db6df" opacity="0.41"/><circle cx="612.2" cy="520.9" r="0.52" fill="#3db6df" opacity="0.36"/><circle cx="609.4" cy="579.2" r="0.52" fill="#3db6df" opacity="0.35"/><circle cx="545.8" cy="542.5" r="0.47" fill="#3db6df" opacity="0.43"/><circle cx="621.8" cy="544.3" r="0.64" fill="#3db6df" opacity="0.52"/><circle cx="557.6" cy="538.5" r="0.43" fill="#3db6df" opacity="0.38"/><circle cx="569.0" cy="568.9" r="0.98" fill="#3db6df" opacity="0.49"/><circle cx="579.7" cy="550.4" r="0.73" fill="#3db6df" opacity="0.63"/><circle cx="577.8" cy="565.9" r="0.57" fill="#3db6df" opacity="0.53"/><circle cx="621.5" cy="528.8" r="0.58" fill="#3db6df" opacity="0.70"/><circle cx="585.1" cy="541.8" r="0.64" fill="#3db6df" opacity="0.56"/><circle cx="561.4" cy="540.5" r="0.98" fill="#3db6df" opacity="0.46"/><circle cx="590.4" cy="545.7" r="0.82" fill="#3db6df" opacity="0.59"/><circle cx="607.1" cy="534.0" r="0.59" fill="#3db6df" opacity="0.44"/><circle cx="591.7" cy="532.5" r="0.74" fill="#3db6df" opacity="0.60"/><circle cx="556.5" cy="547.2" r="0.53" fill="#3db6df" opacity="0.35"/><circle cx="586.5" cy="550.6" r="0.52" fill="#3db6df" opacity="0.48"/><circle cx="606.4" cy="570.0" r="0.57" fill="#3db6df" opacity="0.33"/><circle cx="563.5" cy="541.6" r="0.97" fill="#3db6df" opacity="0.36"/><circle cx="569.3" cy="535.6" r="0.70" fill="#3db6df" opacity="0.43"/><circle cx="568.7" cy="552.9" r="0.85" fill="#3db6df" opacity="0.45"/><circle cx="623.7" cy="553.1" r="0.77" fill="#3db6df" opacity="0.44"/><circle cx="574.3" cy="543.2" r="0.68" fill="#3db6df" opacity="0.51"/><circle cx="608.6" cy="549.2" r="0.45" fill="#3db6df" opacity="0.31"/><circle cx="617.6" cy="531.3" r="0.93" fill="#3db6df" opacity="0.41"/><circle cx="559.2" cy="554.9" r="0.87" fill="#3db6df" opacity="0.42"/><circle cx="585.2" cy="557.8" r="0.66" fill="#3db6df" opacity="0.38"/><circle cx="560.4" cy="544.1" r="0.96" fill="#3db6df" opacity="0.66"/><circle cx="569.9" cy="540.4" r="0.61" fill="#3db6df" opacity="0.45"/><circle cx="621.8" cy="554.5" r="0.41" fill="#3db6df" opacity="0.45"/><circle cx="588.9" cy="536.7" r="0.83" fill="#3db6df" opacity="0.47"/><circle cx="557.0" cy="539.0" r="0.95" fill="#3db6df" opacity="0.38"/><circle cx="601.3" cy="550.3" r="0.85" fill="#3db6df" opacity="0.61"/><circle cx="572.7" cy="541.5" r="0.95" fill="#3db6df" opacity="0.36"/><circle cx="586.5" cy="556.7" r="0.93" fill="#3db6df" opacity="0.46"/><circle cx="596.8" cy="542.2" r="0.69" fill="#3db6df" opacity="0.58"/><circle cx="603.8" cy="540.2" r="0.53" fill="#3db6df" opacity="0.56"/><circle cx="608.5" cy="524.4" r="0.85" fill="#3db6df" opacity="0.37"/><circle cx="589.0" cy="572.2" r="0.79" fill="#3db6df" opacity="0.40"/><circle cx="593.2" cy="546.7" r="0.59" fill="#3db6df" opacity="0.52"/><circle cx="607.9" cy="565.0" r="0.80" fill="#3db6df" opacity="0.52"/><circle cx="586.3" cy="520.9" r="0.49" fill="#3db6df" opacity="0.31"/><circle cx="616.1" cy="566.8" r="0.51" fill="#3db6df" opacity="0.55"/><circle cx="560.6" cy="541.3" r="0.59" fill="#3db6df" opacity="0.62"/><circle cx="619.5" cy="565.6" r="0.83" fill="#3db6df" opacity="0.58"/><circle cx="556.8" cy="545.2" r="0.61" fill="#3db6df" opacity="0.60"/><circle cx="561.3" cy="548.9" r="0.50" fill="#3db6df" opacity="0.41"/><circle cx="557.5" cy="552.8" r="0.53" fill="#3db6df" opacity="0.34"/><circle cx="578.0" cy="541.1" r="0.51" fill="#3db6df" opacity="0.46"/><circle cx="550.7" cy="547.9" r="0.58" fill="#3db6df" opacity="0.32"/><circle cx="604.1" cy="553.4" r="0.48" fill="#3db6df" opacity="0.57"/><circle cx="622.9" cy="553.9" r="0.82" fill="#3db6df" opacity="0.33"/><circle cx="560.6" cy="553.4" r="0.45" fill="#3db6df" opacity="0.61"/><circle cx="606.6" cy="565.0" r="0.90" fill="#3db6df" opacity="0.47"/><circle cx="578.4" cy="535.3" r="0.69" fill="#3db6df" opacity="0.58"/><circle cx="580.0" cy="555.8" r="0.91" fill="#3db6df" opacity="0.54"/><circle cx="566.6" cy="538.0" r="0.95" fill="#3db6df" opacity="0.32"/><circle cx="577.1" cy="547.4" r="0.66" fill="#3db6df" opacity="0.54"/><circle cx="553.3" cy="541.9" r="0.57" fill="#3db6df" opacity="0.43"/><circle cx="550.9" cy="540.1" r="1.00" fill="#3db6df" opacity="0.32"/><circle cx="617.2" cy="532.9" r="0.76" fill="#3db6df" opacity="0.52"/><circle cx="580.7" cy="522.5" r="0.73" fill="#3db6df" opacity="0.43"/><circle cx="559.1" cy="530.5" r="0.99" fill="#3db6df" opacity="0.66"/><circle cx="593.4" cy="534.1" r="0.52" fill="#3db6df" opacity="0.52"/><circle cx="558.0" cy="553.4" r="0.63" fill="#3db6df" opacity="0.43"/><circle cx="616.1" cy="528.1" r="0.66" fill="#3db6df" opacity="0.33"/><circle cx="598.4" cy="539.1" r="0.91" fill="#3db6df" opacity="0.38"/><circle cx="560.3" cy="546.1" r="0.72" fill="#3db6df" opacity="0.40"/><circle cx="571.6" cy="522.9" r="0.75" fill="#3db6df" opacity="0.47"/><circle cx="611.5" cy="552.5" r="0.96" fill="#3db6df" opacity="0.67"/><circle cx="547.0" cy="548.8" r="0.83" fill="#3db6df" opacity="0.59"/><circle cx="597.7" cy="525.9" r="0.52" fill="#3db6df" opacity="0.67"/><circle cx="608.5" cy="544.9" r="0.51" fill="#3db6df" opacity="0.39"/><circle cx="595.1" cy="557.6" r="0.48" fill="#3db6df" opacity="0.30"/><circle cx="594.4" cy="526.1" r="0.42" fill="#3db6df" opacity="0.42"/><circle cx="554.6" cy="531.6" r="0.95" fill="#3db6df" opacity="0.62"/><circle cx="557.2" cy="530.9" r="0.77" fill="#3db6df" opacity="0.49"/><circle cx="588.2" cy="546.9" r="0.53" fill="#3db6df" opacity="0.32"/><circle cx="557.6" cy="539.1" r="0.93" fill="#3db6df" opacity="0.42"/><circle cx="546.0" cy="543.8" r="0.79" fill="#3db6df" opacity="0.57"/><circle cx="604.5" cy="519.7" r="0.81" fill="#3db6df" opacity="0.67"/><circle cx="608.6" cy="552.7" r="0.56" fill="#3db6df" opacity="0.47"/><circle cx="561.5" cy="538.0" r="0.68" fill="#3db6df" opacity="0.45"/><circle cx="559.1" cy="537.5" r="0.75" fill="#3db6df" opacity="0.59"/><circle cx="572.9" cy="553.2" r="0.77" fill="#3db6df" opacity="0.52"/><circle cx="611.3" cy="556.0" r="0.96" fill="#3db6df" opacity="0.61"/><circle cx="592.9" cy="557.0" r="0.71" fill="#3db6df" opacity="0.38"/><circle cx="570.8" cy="539.4" r="0.62" fill="#3db6df" opacity="0.41"/><circle cx="566.9" cy="545.8" r="0.73" fill="#3db6df" opacity="0.47"/><circle cx="609.3" cy="549.1" r="0.83" fill="#3db6df" opacity="0.67"/><circle cx="617.8" cy="558.0" r="0.96" fill="#3db6df" opacity="0.33"/><circle cx="556.0" cy="552.1" r="0.41" fill="#3db6df" opacity="0.37"/><circle cx="620.7" cy="549.1" r="0.40" fill="#3db6df" opacity="0.34"/><circle cx="614.2" cy="539.4" r="0.59" fill="#3db6df" opacity="0.53"/><circle cx="573.8" cy="531.9" r="0.96" fill="#3db6df" opacity="0.33"/><circle cx="578.6" cy="550.8" r="0.83" fill="#3db6df" opacity="0.61"/><circle cx="595.2" cy="543.5" r="0.54" fill="#3db6df" opacity="0.52"/><circle cx="616.6" cy="546.8" r="0.75" fill="#3db6df" opacity="0.54"/><circle cx="575.6" cy="544.0" r="0.68" fill="#3db6df" opacity="0.56"/><circle cx="587.5" cy="516.1" r="0.55" fill="#3db6df" opacity="0.66"/><circle cx="551.0" cy="527.3" r="0.74" fill="#3db6df" opacity="0.46"/><circle cx="561.7" cy="553.8" r="0.62" fill="#3db6df" opacity="0.60"/><circle cx="599.5" cy="523.9" r="0.62" fill="#3db6df" opacity="0.41"/><circle cx="594.7" cy="525.5" r="0.96" fill="#3db6df" opacity="0.58"/><circle cx="613.6" cy="545.2" r="0.78" fill="#3db6df" opacity="0.40"/><circle cx="599.5" cy="541.9" r="0.87" fill="#3db6df" opacity="0.62"/><circle cx="560.3" cy="540.4" r="0.90" fill="#3db6df" opacity="0.58"/><circle cx="589.7" cy="548.5" r="0.73" fill="#3db6df" opacity="0.59"/><circle cx="581.3" cy="554.8" r="0.86" fill="#3db6df" opacity="0.50"/><circle cx="590.0" cy="568.0" r="0.52" fill="#3db6df" opacity="0.39"/><circle cx="549.3" cy="536.2" r="0.56" fill="#3db6df" opacity="0.38"/><circle cx="579.6" cy="528.2" r="0.57" fill="#3db6df" opacity="0.60"/><circle cx="564.8" cy="543.4" r="0.92" fill="#3db6df" opacity="0.58"/><circle cx="554.3" cy="552.7" r="0.48" fill="#3db6df" opacity="0.32"/><circle cx="598.5" cy="540.2" r="0.57" fill="#3db6df" opacity="0.64"/><circle cx="548.9" cy="539.9" r="0.84" fill="#3db6df" opacity="0.63"/><circle cx="597.3" cy="536.4" r="0.95" fill="#3db6df" opacity="0.52"/><circle cx="594.7" cy="560.4" r="0.76" fill="#3db6df" opacity="0.67"/><circle cx="622.9" cy="536.5" r="0.47" fill="#3db6df" opacity="0.50"/><circle cx="578.9" cy="534.0" r="0.81" fill="#3db6df" opacity="0.49"/><circle cx="564.3" cy="548.8" r="0.74" fill="#3db6df" opacity="0.61"/><circle cx="560.4" cy="558.1" r="0.67" fill="#3db6df" opacity="0.35"/><circle cx="558.8" cy="539.9" r="0.97" fill="#3db6df" opacity="0.34"/><circle cx="586.0" cy="550.8" r="0.46" fill="#3db6df" opacity="0.65"/><circle cx="553.3" cy="548.6" r="0.61" fill="#3db6df" opacity="0.34"/><circle cx="595.1" cy="536.5" r="0.44" fill="#3db6df" opacity="0.57"/><circle cx="587.6" cy="541.6" r="0.83" fill="#3db6df" opacity="0.33"/><circle cx="618.0" cy="561.7" r="0.93" fill="#3db6df" opacity="0.62"/><circle cx="618.9" cy="540.4" r="0.66" fill="#3db6df" opacity="0.67"/><circle cx="599.4" cy="548.9" r="0.47" fill="#3db6df" opacity="0.60"/><circle cx="609.6" cy="527.3" r="0.92" fill="#3db6df" opacity="0.47"/><circle cx="608.1" cy="548.2" r="0.74" fill="#3db6df" opacity="0.61"/><circle cx="612.8" cy="548.7" r="0.75" fill="#3db6df" opacity="0.44"/><circle cx="568.8" cy="548.9" r="0.40" fill="#3db6df" opacity="0.48"/><circle cx="624.8" cy="536.5" r="0.62" fill="#3db6df" opacity="0.54"/><circle cx="547.1" cy="547.1" r="0.50" fill="#3db6df" opacity="0.51"/><circle cx="574.1" cy="542.3" r="0.44" fill="#3db6df" opacity="0.66"/><circle cx="605.1" cy="538.2" r="0.79" fill="#3db6df" opacity="0.54"/><circle cx="560.4" cy="549.7" r="0.81" fill="#3db6df" opacity="0.49"/><circle cx="585.0" cy="553.1" r="0.45" fill="#3db6df" opacity="0.68"/><circle cx="564.1" cy="531.3" r="0.97" fill="#3db6df" opacity="0.45"/><circle cx="581.1" cy="555.8" r="0.90" fill="#3db6df" opacity="0.50"/><circle cx="554.5" cy="545.6" r="0.40" fill="#3db6df" opacity="0.33"/><circle cx="616.5" cy="554.9" r="0.90" fill="#3db6df" opacity="0.63"/><circle cx="569.3" cy="531.1" r="0.43" fill="#3db6df" opacity="0.47"/><circle cx="574.1" cy="562.7" r="0.85" fill="#3db6df" opacity="0.57"/><circle cx="624.5" cy="561.1" r="0.95" fill="#3db6df" opacity="0.54"/><circle cx="561.5" cy="541.4" r="0.71" fill="#3db6df" opacity="0.41"/><circle cx="617.7" cy="545.8" r="0.79" fill="#3db6df" opacity="0.56"/><circle cx="606.7" cy="538.8" r="0.49" fill="#3db6df" opacity="0.53"/><circle cx="553.7" cy="536.8" r="0.61" fill="#3db6df" opacity="0.46"/><circle cx="586.2" cy="548.4" r="0.47" fill="#3db6df" opacity="0.51"/><circle cx="551.0" cy="543.3" r="0.69" fill="#3db6df" opacity="0.30"/><circle cx="607.5" cy="541.0" r="0.97" fill="#3db6df" opacity="0.60"/><circle cx="581.5" cy="527.4" r="0.45" fill="#3db6df" opacity="0.44"/><circle cx="583.4" cy="548.0" r="0.50" fill="#3db6df" opacity="0.48"/><circle cx="573.1" cy="552.3" r="0.66" fill="#3db6df" opacity="0.35"/><circle cx="587.8" cy="554.8" r="0.54" fill="#3db6df" opacity="0.53"/><circle cx="570.5" cy="541.4" r="0.40" fill="#3db6df" opacity="0.43"/><circle cx="605.7" cy="528.6" r="0.60" fill="#3db6df" opacity="0.61"/><circle cx="613.9" cy="562.1" r="0.66" fill="#3db6df" opacity="0.49"/><circle cx="551.9" cy="537.7" r="0.58" fill="#3db6df" opacity="0.40"/><circle cx="608.8" cy="547.6" r="0.86" fill="#3db6df" opacity="0.47"/><circle cx="596.2" cy="528.8" r="0.61" fill="#3db6df" opacity="0.31"/><circle cx="586.8" cy="552.8" r="0.94" fill="#3db6df" opacity="0.45"/><circle cx="565.3" cy="536.5" r="0.50" fill="#3db6df" opacity="0.47"/><circle cx="569.8" cy="550.3" r="0.97" fill="#3db6df" opacity="0.61"/><circle cx="578.7" cy="549.5" r="0.54" fill="#3db6df" opacity="0.50"/><circle cx="571.6" cy="538.3" r="0.77" fill="#3db6df" opacity="0.61"/><circle cx="567.4" cy="538.8" r="0.53" fill="#3db6df" opacity="0.53"/><circle cx="590.8" cy="558.5" r="0.68" fill="#3db6df" opacity="0.50"/><circle cx="608.0" cy="529.4" r="0.75" fill="#3db6df" opacity="0.35"/><circle cx="575.5" cy="554.9" r="0.87" fill="#3db6df" opacity="0.55"/><circle cx="549.4" cy="552.2" r="0.64" fill="#3db6df" opacity="0.31"/><circle cx="599.7" cy="544.1" r="0.83" fill="#3db6df" opacity="0.32"/><circle cx="556.6" cy="538.2" r="0.96" fill="#3db6df" opacity="0.39"/><circle cx="596.9" cy="561.4" r="0.67" fill="#3db6df" opacity="0.47"/><circle cx="577.2" cy="537.2" r="0.49" fill="#3db6df" opacity="0.61"/><circle cx="586.6" cy="545.0" r="0.54" fill="#3db6df" opacity="0.40"/><circle cx="554.5" cy="534.2" r="0.83" fill="#3db6df" opacity="0.50"/><circle cx="575.8" cy="553.3" r="0.61" fill="#3db6df" opacity="0.39"/><circle cx="567.2" cy="542.6" r="0.55" fill="#3db6df" opacity="0.50"/><circle cx="578.6" cy="525.3" r="0.61" fill="#3db6df" opacity="0.54"/><circle cx="585.9" cy="547.7" r="0.97" fill="#3db6df" opacity="0.54"/><circle cx="619.5" cy="538.8" r="0.52" fill="#3db6df" opacity="0.63"/><circle cx="554.1" cy="548.3" r="0.57" fill="#3db6df" opacity="0.64"/><circle cx="550.0" cy="541.6" r="0.53" fill="#3db6df" opacity="0.68"/><circle cx="613.8" cy="532.4" r="0.53" fill="#3db6df" opacity="0.35"/><circle cx="589.4" cy="567.1" r="0.60" fill="#3db6df" opacity="0.43"/><circle cx="549.4" cy="552.9" r="0.69" fill="#3db6df" opacity="0.52"/><circle cx="555.2" cy="540.8" r="0.89" fill="#3db6df" opacity="0.67"/><circle cx="614.7" cy="530.1" r="0.66" fill="#3db6df" opacity="0.44"/><circle cx="596.0" cy="533.8" r="0.55" fill="#3db6df" opacity="0.36"/><circle cx="553.2" cy="549.1" r="0.78" fill="#3db6df" opacity="0.66"/><circle cx="623.6" cy="543.1" r="0.45" fill="#3db6df" opacity="0.34"/><circle cx="610.7" cy="552.0" r="0.61" fill="#3db6df" opacity="0.45"/><circle cx="560.7" cy="542.2" r="0.97" fill="#3db6df" opacity="0.31"/><circle cx="619.2" cy="536.3" r="0.65" fill="#3db6df" opacity="0.48"/><circle cx="585.1" cy="545.8" r="0.71" fill="#3db6df" opacity="0.52"/><circle cx="614.8" cy="571.1" r="0.80" fill="#3db6df" opacity="0.64"/><circle cx="554.5" cy="542.2" r="0.71" fill="#3db6df" opacity="0.40"/><circle cx="616.8" cy="552.1" r="0.53" fill="#3db6df" opacity="0.46"/><circle cx="577.4" cy="537.6" r="0.70" fill="#3db6df" opacity="0.62"/><circle cx="573.2" cy="557.9" r="0.90" fill="#3db6df" opacity="0.63"/><circle cx="577.2" cy="565.0" r="0.53" fill="#3db6df" opacity="0.52"/><circle cx="614.7" cy="533.2" r="0.54" fill="#3db6df" opacity="0.65"/><circle cx="569.3" cy="548.0" r="0.97" fill="#3db6df" opacity="0.65"/><circle cx="575.4" cy="535.4" r="0.41" fill="#3db6df" opacity="0.55"/><circle cx="590.3" cy="537.2" r="0.65" fill="#3db6df" opacity="0.51"/><circle cx="563.0" cy="563.4" r="0.84" fill="#3db6df" opacity="0.51"/><circle cx="556.7" cy="550.5" r="0.48" fill="#3db6df" opacity="0.59"/><circle cx="578.6" cy="541.0" r="0.88" fill="#3db6df" opacity="0.47"/><circle cx="589.3" cy="539.8" r="0.50" fill="#3db6df" opacity="0.34"/><circle cx="583.4" cy="523.4" r="0.49" fill="#3db6df" opacity="0.62"/><circle cx="572.3" cy="541.5" r="0.56" fill="#3db6df" opacity="0.45"/><circle cx="566.2" cy="547.1" r="0.53" fill="#3db6df" opacity="0.41"/><circle cx="602.9" cy="553.8" r="0.79" fill="#3db6df" opacity="0.31"/><circle cx="610.5" cy="553.9" r="0.85" fill="#3db6df" opacity="0.40"/><circle cx="549.7" cy="559.1" r="0.43" fill="#3db6df" opacity="0.54"/><circle cx="591.9" cy="553.7" r="0.79" fill="#3db6df" opacity="0.48"/><circle cx="581.1" cy="527.3" r="0.46" fill="#3db6df" opacity="0.41"/><circle cx="584.5" cy="547.9" r="0.65" fill="#3db6df" opacity="0.54"/><circle cx="576.4" cy="550.7" r="0.95" fill="#3db6df" opacity="0.31"/><circle cx="610.1" cy="542.3" r="0.46" fill="#3db6df" opacity="0.42"/><circle cx="579.0" cy="548.5" r="0.71" fill="#3db6df" opacity="0.62"/><circle cx="584.0" cy="541.0" r="0.83" fill="#3db6df" opacity="0.70"/><circle cx="609.2" cy="544.0" r="0.73" fill="#3db6df" opacity="0.60"/><circle cx="623.5" cy="555.3" r="0.91" fill="#3db6df" opacity="0.61"/><circle cx="593.8" cy="538.7" r="0.88" fill="#3db6df" opacity="0.37"/><circle cx="563.1" cy="526.1" r="0.64" fill="#3db6df" opacity="0.69"/><circle cx="570.1" cy="547.1" r="0.82" fill="#3db6df" opacity="0.65"/><circle cx="624.1" cy="534.2" r="0.74" fill="#3db6df" opacity="0.54"/><circle cx="558.5" cy="547.6" r="0.48" fill="#3db6df" opacity="0.64"/><circle cx="586.8" cy="538.2" r="0.68" fill="#3db6df" opacity="0.38"/><circle cx="618.9" cy="534.4" r="0.63" fill="#3db6df" opacity="0.49"/><circle cx="585.9" cy="524.7" r="0.46" fill="#3db6df" opacity="0.31"/><circle cx="592.6" cy="530.9" r="0.86" fill="#3db6df" opacity="0.57"/><circle cx="591.0" cy="560.1" r="0.54" fill="#3db6df" opacity="0.53"/><circle cx="598.3" cy="543.4" r="0.44" fill="#3db6df" opacity="0.57"/><circle cx="579.6" cy="555.3" r="0.53" fill="#3db6df" opacity="0.58"/><circle cx="608.9" cy="544.3" r="0.75" fill="#3db6df" opacity="0.68"/><circle cx="552.0" cy="545.0" r="0.88" fill="#3db6df" opacity="0.54"/><circle cx="601.4" cy="555.4" r="0.43" fill="#3db6df" opacity="0.68"/><circle cx="624.0" cy="545.0" r="0.83" fill="#3db6df" opacity="0.54"/><circle cx="607.0" cy="567.0" r="0.63" fill="#3db6df" opacity="0.47"/><circle cx="545.9" cy="561.1" r="0.45" fill="#3db6df" opacity="0.67"/><circle cx="560.6" cy="529.6" r="0.84" fill="#3db6df" opacity="0.48"/><circle cx="600.3" cy="543.6" r="0.90" fill="#3db6df" opacity="0.38"/><circle cx="575.8" cy="530.6" r="0.74" fill="#3db6df" opacity="0.31"/><circle cx="564.5" cy="537.5" r="0.61" fill="#3db6df" opacity="0.65"/><circle cx="594.3" cy="542.1" r="0.58" fill="#3db6df" opacity="0.69"/><circle cx="600.6" cy="558.5" r="0.93" fill="#3db6df" opacity="0.46"/><circle cx="555.5" cy="545.3" r="0.91" fill="#3db6df" opacity="0.61"/><circle cx="614.1" cy="536.5" r="0.74" fill="#3db6df" opacity="0.56"/><circle cx="547.3" cy="543.2" r="0.44" fill="#3db6df" opacity="0.51"/><circle cx="550.0" cy="548.1" r="0.70" fill="#3db6df" opacity="0.36"/><circle cx="560.1" cy="552.2" r="0.78" fill="#3db6df" opacity="0.55"/><circle cx="559.3" cy="519.3" r="0.65" fill="#3db6df" opacity="0.66"/><circle cx="550.8" cy="539.5" r="0.53" fill="#3db6df" opacity="0.36"/><circle cx="603.6" cy="549.9" r="0.60" fill="#3db6df" opacity="0.69"/><circle cx="570.7" cy="541.6" r="0.86" fill="#3db6df" opacity="0.32"/><circle cx="623.7" cy="532.3" r="0.55" fill="#3db6df" opacity="0.60"/><circle cx="570.8" cy="555.8" r="0.48" fill="#3db6df" opacity="0.61"/><circle cx="562.2" cy="545.2" r="0.43" fill="#3db6df" opacity="0.52"/><circle cx="591.8" cy="533.2" r="0.43" fill="#3db6df" opacity="0.66"/><circle cx="609.6" cy="529.4" r="0.85" fill="#3db6df" opacity="0.30"/><circle cx="568.3" cy="549.4" r="0.56" fill="#3db6df" opacity="0.46"/><circle cx="561.7" cy="561.9" r="0.84" fill="#3db6df" opacity="0.35"/><circle cx="582.3" cy="544.2" r="0.54" fill="#3db6df" opacity="0.50"/><circle cx="560.2" cy="535.6" r="0.84" fill="#3db6df" opacity="0.63"/><circle cx="563.8" cy="552.4" r="0.41" fill="#3db6df" opacity="0.64"/><circle cx="621.3" cy="547.8" r="0.76" fill="#3db6df" opacity="0.51"/><circle cx="592.1" cy="535.3" r="0.77" fill="#3db6df" opacity="0.64"/><circle cx="568.7" cy="553.0" r="0.49" fill="#3db6df" opacity="0.48"/><circle cx="548.9" cy="540.3" r="0.91" fill="#3db6df" opacity="0.54"/><circle cx="624.0" cy="558.1" r="0.87" fill="#3db6df" opacity="0.69"/><circle cx="615.6" cy="540.3" r="0.82" fill="#3db6df" opacity="0.60"/><circle cx="577.6" cy="549.5" r="0.89" fill="#3db6df" opacity="0.56"/><circle cx="610.5" cy="566.8" r="0.93" fill="#3db6df" opacity="0.39"/><circle cx="612.2" cy="544.3" r="0.56" fill="#3db6df" opacity="0.64"/><circle cx="611.7" cy="546.6" r="0.52" fill="#3db6df" opacity="0.52"/><circle cx="564.1" cy="540.4" r="0.63" fill="#3db6df" opacity="0.68"/><circle cx="618.0" cy="547.9" r="0.87" fill="#3db6df" opacity="0.53"/><circle cx="545.7" cy="548.2" r="0.98" fill="#3db6df" opacity="0.37"/><circle cx="551.8" cy="555.8" r="0.46" fill="#3db6df" opacity="0.53"/><circle cx="620.4" cy="528.5" r="1.00" fill="#3db6df" opacity="0.66"/><circle cx="612.1" cy="555.2" r="0.83" fill="#3db6df" opacity="0.64"/><circle cx="610.6" cy="539.3" r="0.76" fill="#3db6df" opacity="0.64"/><circle cx="605.6" cy="566.4" r="0.92" fill="#3db6df" opacity="0.37"/><circle cx="572.2" cy="534.2" r="0.70" fill="#3db6df" opacity="0.30"/><circle cx="567.7" cy="561.6" r="0.69" fill="#3db6df" opacity="0.51"/><circle cx="553.9" cy="527.2" r="0.72" fill="#3db6df" opacity="0.67"/><circle cx="569.7" cy="534.3" r="0.67" fill="#3db6df" opacity="0.47"/><circle cx="602.1" cy="526.5" r="0.51" fill="#3db6df" opacity="0.44"/><circle cx="563.5" cy="550.3" r="0.90" fill="#3db6df" opacity="0.60"/><circle cx="577.3" cy="546.9" r="0.47" fill="#3db6df" opacity="0.51"/><circle cx="567.9" cy="531.3" r="0.62" fill="#3db6df" opacity="0.43"/><circle cx="611.2" cy="526.8" r="0.91" fill="#3db6df" opacity="0.58"/><circle cx="571.8" cy="547.1" r="0.99" fill="#3db6df" opacity="0.59"/><circle cx="549.9" cy="542.7" r="0.50" fill="#3db6df" opacity="0.62"/><circle cx="619.8" cy="558.1" r="0.91" fill="#3db6df" opacity="0.57"/><circle cx="619.2" cy="554.0" r="0.93" fill="#3db6df" opacity="0.37"/><circle cx="598.5" cy="552.2" r="1.74" fill="#4cbde6" opacity="0.73"/><circle cx="630.4" cy="537.7" r="1.60" fill="#4cbde6" opacity="0.39"/><circle cx="641.7" cy="566.4" r="0.78" fill="#4cbde6" opacity="0.49"/><circle cx="589.9" cy="554.4" r="1.87" fill="#4cbde6" opacity="0.58"/><circle cx="625.7" cy="550.5" r="1.24" fill="#4cbde6" opacity="0.55"/><circle cx="592.6" cy="561.9" r="1.07" fill="#4cbde6" opacity="0.51"/><circle cx="669.4" cy="548.4" r="1.30" fill="#4cbde6" opacity="0.40"/><circle cx="592.1" cy="548.8" r="0.74" fill="#4cbde6" opacity="0.52"/><circle cx="634.1" cy="543.3" r="0.67" fill="#4cbde6" opacity="0.43"/><circle cx="640.3" cy="577.0" r="0.92" fill="#4cbde6" opacity="0.73"/><circle cx="625.8" cy="506.7" r="1.28" fill="#4cbde6" opacity="0.41"/><circle cx="638.6" cy="559.1" r="1.89" fill="#4cbde6" opacity="0.67"/><circle cx="623.1" cy="578.8" r="0.99" fill="#4cbde6" opacity="0.34"/><circle cx="633.5" cy="564.6" r="1.59" fill="#4cbde6" opacity="0.47"/><circle cx="666.4" cy="581.6" r="1.75" fill="#4cbde6" opacity="0.57"/><circle cx="598.5" cy="540.0" r="1.48" fill="#4cbde6" opacity="0.41"/><circle cx="666.8" cy="569.2" r="1.52" fill="#4cbde6" opacity="0.32"/><circle cx="647.3" cy="531.5" r="1.46" fill="#4cbde6" opacity="0.71"/><circle cx="596.5" cy="551.6" r="1.40" fill="#4cbde6" opacity="0.50"/><circle cx="679.8" cy="592.0" r="0.69" fill="#4cbde6" opacity="0.69"/><circle cx="601.9" cy="546.8" r="0.67" fill="#4cbde6" opacity="0.64"/><circle cx="622.8" cy="569.4" r="1.63" fill="#4cbde6" opacity="0.57"/><circle cx="617.6" cy="554.5" r="1.63" fill="#4cbde6" opacity="0.34"/><circle cx="635.5" cy="505.2" r="0.69" fill="#4cbde6" opacity="0.50"/><circle cx="620.3" cy="515.5" r="1.57" fill="#4cbde6" opacity="0.66"/><circle cx="594.7" cy="542.4" r="1.23" fill="#4cbde6" opacity="0.49"/><circle cx="660.0" cy="548.3" r="1.72" fill="#4cbde6" opacity="0.45"/><circle cx="591.3" cy="545.3" r="1.41" fill="#4cbde6" opacity="0.54"/><circle cx="678.9" cy="556.6" r="1.61" fill="#4cbde6" opacity="0.70"/><circle cx="642.2" cy="524.4" r="1.01" fill="#4cbde6" opacity="0.59"/><circle cx="670.2" cy="537.2" r="0.81" fill="#4cbde6" opacity="0.63"/><circle cx="649.4" cy="516.3" r="1.54" fill="#4cbde6" opacity="0.51"/><circle cx="592.1" cy="545.7" r="0.80" fill="#4cbde6" opacity="0.45"/><circle cx="632.5" cy="570.3" r="0.79" fill="#4cbde6" opacity="0.43"/><circle cx="636.2" cy="571.9" r="0.73" fill="#4cbde6" opacity="0.48"/><circle cx="666.9" cy="524.5" r="0.60" fill="#4cbde6" opacity="0.62"/><circle cx="659.4" cy="546.0" r="1.00" fill="#4cbde6" opacity="0.45"/><circle cx="655.0" cy="549.8" r="0.70" fill="#4cbde6" opacity="0.37"/><circle cx="659.7" cy="577.7" r="1.08" fill="#4cbde6" opacity="0.45"/><circle cx="632.4" cy="552.0" r="1.04" fill="#4cbde6" opacity="0.66"/><circle cx="675.4" cy="507.7" r="1.70" fill="#4cbde6" opacity="0.35"/><circle cx="637.9" cy="533.5" r="0.63" fill="#4cbde6" opacity="0.64"/><circle cx="673.7" cy="564.9" r="1.41" fill="#4cbde6" opacity="0.54"/><circle cx="594.4" cy="553.6" r="1.13" fill="#4cbde6" opacity="0.45"/><circle cx="649.7" cy="553.0" r="1.30" fill="#4cbde6" opacity="0.51"/><circle cx="630.4" cy="541.5" r="0.85" fill="#4cbde6" opacity="0.50"/><circle cx="602.6" cy="541.6" r="1.73" fill="#4cbde6" opacity="0.41"/><circle cx="613.0" cy="535.8" r="0.84" fill="#4cbde6" opacity="0.63"/><circle cx="669.4" cy="567.6" r="1.43" fill="#4cbde6" opacity="0.46"/><circle cx="643.9" cy="527.6" r="0.75" fill="#4cbde6" opacity="0.69"/><circle cx="633.9" cy="537.4" r="1.27" fill="#4cbde6" opacity="0.39"/><circle cx="680.7" cy="547.6" r="0.70" fill="#4cbde6" opacity="0.46"/><circle cx="597.6" cy="549.7" r="0.69" fill="#4cbde6" opacity="0.59"/><circle cx="649.4" cy="570.8" r="1.60" fill="#4cbde6" opacity="0.45"/><circle cx="652.5" cy="527.9" r="1.88" fill="#4cbde6" opacity="0.38"/><circle cx="656.4" cy="576.6" r="1.64" fill="#4cbde6" opacity="0.41"/><circle cx="593.8" cy="534.7" r="1.39" fill="#4cbde6" opacity="0.64"/><circle cx="625.3" cy="544.5" r="1.65" fill="#4cbde6" opacity="0.62"/><circle cx="616.5" cy="547.8" r="1.72" fill="#4cbde6" opacity="0.69"/><circle cx="643.5" cy="568.5" r="1.29" fill="#4cbde6" opacity="0.52"/><circle cx="661.9" cy="584.5" r="1.27" fill="#4cbde6" opacity="0.55"/><circle cx="670.6" cy="551.9" r="0.74" fill="#4cbde6" opacity="0.53"/><circle cx="678.2" cy="547.2" r="0.96" fill="#4cbde6" opacity="0.65"/><circle cx="652.8" cy="577.5" r="0.78" fill="#4cbde6" opacity="0.36"/><circle cx="626.6" cy="517.7" r="1.83" fill="#4cbde6" opacity="0.55"/><circle cx="599.1" cy="552.5" r="1.20" fill="#4cbde6" opacity="0.72"/><circle cx="597.6" cy="538.4" r="1.44" fill="#4cbde6" opacity="0.40"/><circle cx="593.1" cy="548.6" r="0.84" fill="#4cbde6" opacity="0.54"/><circle cx="633.6" cy="553.1" r="1.45" fill="#4cbde6" opacity="0.72"/><circle cx="590.2" cy="541.0" r="1.24" fill="#4cbde6" opacity="0.39"/><circle cx="630.3" cy="544.4" r="0.93" fill="#4cbde6" opacity="0.74"/><circle cx="612.5" cy="569.0" r="0.98" fill="#4cbde6" opacity="0.59"/><circle cx="603.3" cy="550.9" r="1.46" fill="#4cbde6" opacity="0.67"/><circle cx="648.6" cy="563.4" r="0.97" fill="#4cbde6" opacity="0.55"/><circle cx="680.6" cy="536.3" r="0.65" fill="#4cbde6" opacity="0.50"/><circle cx="678.0" cy="556.2" r="1.82" fill="#4cbde6" opacity="0.61"/><circle cx="615.2" cy="538.9" r="1.17" fill="#4cbde6" opacity="0.65"/><circle cx="591.0" cy="550.3" r="1.28" fill="#4cbde6" opacity="0.40"/><circle cx="651.1" cy="555.3" r="1.05" fill="#4cbde6" opacity="0.70"/><circle cx="588.2" cy="532.4" r="0.98" fill="#4cbde6" opacity="0.37"/><circle cx="656.6" cy="514.1" r="0.67" fill="#4cbde6" opacity="0.35"/><circle cx="662.0" cy="549.5" r="1.44" fill="#4cbde6" opacity="0.71"/><circle cx="634.7" cy="529.8" r="1.74" fill="#4cbde6" opacity="0.43"/><circle cx="640.0" cy="534.0" r="1.62" fill="#4cbde6" opacity="0.47"/><circle cx="634.7" cy="584.7" r="1.25" fill="#4cbde6" opacity="0.51"/><circle cx="608.0" cy="564.8" r="1.13" fill="#4cbde6" opacity="0.46"/><circle cx="610.3" cy="538.0" r="1.43" fill="#4cbde6" opacity="0.33"/><circle cx="681.4" cy="566.8" r="1.70" fill="#4cbde6" opacity="0.30"/><circle cx="636.6" cy="545.5" r="1.76" fill="#4cbde6" opacity="0.74"/><circle cx="596.4" cy="543.1" r="1.02" fill="#4cbde6" opacity="0.74"/><circle cx="620.5" cy="543.8" r="0.61" fill="#4cbde6" opacity="0.52"/><circle cx="624.9" cy="516.4" r="1.67" fill="#4cbde6" opacity="0.34"/><circle cx="655.4" cy="577.5" r="1.22" fill="#4cbde6" opacity="0.72"/><circle cx="681.0" cy="552.1" r="1.67" fill="#4cbde6" opacity="0.61"/><circle cx="629.5" cy="530.6" r="1.56" fill="#4cbde6" opacity="0.74"/><circle cx="654.5" cy="532.8" r="0.79" fill="#4cbde6" opacity="0.55"/><circle cx="643.5" cy="560.5" r="1.12" fill="#4cbde6" opacity="0.61"/><circle cx="649.9" cy="534.3" r="1.24" fill="#4cbde6" opacity="0.57"/><circle cx="614.8" cy="558.9" r="1.29" fill="#4cbde6" opacity="0.63"/><circle cx="631.3" cy="556.3" r="1.04" fill="#4cbde6" opacity="0.73"/><circle cx="674.8" cy="559.7" r="1.04" fill="#4cbde6" opacity="0.32"/><circle cx="665.9" cy="594.9" r="1.28" fill="#4cbde6" opacity="0.72"/><circle cx="634.8" cy="564.0" r="1.51" fill="#4cbde6" opacity="0.41"/><circle cx="654.4" cy="551.9" r="0.90" fill="#4cbde6" opacity="0.60"/><circle cx="587.7" cy="544.6" r="1.10" fill="#4cbde6" opacity="0.74"/><circle cx="600.9" cy="538.8" r="0.70" fill="#4cbde6" opacity="0.74"/><circle cx="667.1" cy="517.1" r="1.20" fill="#4cbde6" opacity="0.59"/><circle cx="667.5" cy="532.9" r="0.78" fill="#4cbde6" opacity="0.46"/><circle cx="641.0" cy="551.3" r="1.44" fill="#4cbde6" opacity="0.74"/><circle cx="667.3" cy="556.4" r="1.01" fill="#4cbde6" opacity="0.45"/><circle cx="681.1" cy="563.0" r="0.70" fill="#4cbde6" opacity="0.36"/><circle cx="662.0" cy="515.9" r="1.08" fill="#4cbde6" opacity="0.60"/><circle cx="607.9" cy="540.0" r="0.74" fill="#4cbde6" opacity="0.36"/><circle cx="616.9" cy="529.8" r="1.11" fill="#4cbde6" opacity="0.54"/><circle cx="677.8" cy="552.9" r="1.29" fill="#4cbde6" opacity="0.40"/><circle cx="586.4" cy="550.8" r="1.26" fill="#4cbde6" opacity="0.49"/><circle cx="653.8" cy="537.0" r="1.17" fill="#4cbde6" opacity="0.34"/><circle cx="597.3" cy="545.8" r="1.72" fill="#4cbde6" opacity="0.71"/><circle cx="678.6" cy="541.8" r="1.25" fill="#4cbde6" opacity="0.54"/><circle cx="623.8" cy="523.8" r="1.73" fill="#4cbde6" opacity="0.51"/><circle cx="675.2" cy="532.5" r="1.43" fill="#4cbde6" opacity="0.62"/><circle cx="639.5" cy="557.5" r="0.89" fill="#4cbde6" opacity="0.34"/><circle cx="652.1" cy="575.0" r="1.20" fill="#4cbde6" opacity="0.63"/><circle cx="619.1" cy="567.9" r="1.78" fill="#4cbde6" opacity="0.41"/><circle cx="681.3" cy="589.9" r="0.99" fill="#4cbde6" opacity="0.72"/><circle cx="649.8" cy="560.1" r="1.55" fill="#4cbde6" opacity="0.55"/><circle cx="663.4" cy="540.9" r="1.46" fill="#4cbde6" opacity="0.33"/><circle cx="620.8" cy="560.8" r="0.86" fill="#4cbde6" opacity="0.38"/><circle cx="617.3" cy="564.6" r="1.15" fill="#4cbde6" opacity="0.63"/><circle cx="678.9" cy="551.8" r="1.38" fill="#4cbde6" opacity="0.60"/><circle cx="673.8" cy="574.9" r="1.72" fill="#4cbde6" opacity="0.49"/><circle cx="637.1" cy="541.1" r="0.93" fill="#4cbde6" opacity="0.63"/><circle cx="617.2" cy="539.6" r="0.62" fill="#4cbde6" opacity="0.67"/><circle cx="585.4" cy="553.5" r="0.77" fill="#4cbde6" opacity="0.70"/><circle cx="664.0" cy="563.7" r="1.14" fill="#4cbde6" opacity="0.31"/><circle cx="615.4" cy="547.4" r="1.05" fill="#4cbde6" opacity="0.74"/><circle cx="594.1" cy="543.9" r="1.41" fill="#4cbde6" opacity="0.31"/><circle cx="662.3" cy="529.7" r="1.80" fill="#4cbde6" opacity="0.33"/><circle cx="679.9" cy="561.8" r="1.23" fill="#4cbde6" opacity="0.30"/><circle cx="609.8" cy="537.3" r="0.67" fill="#4cbde6" opacity="0.45"/><circle cx="617.1" cy="550.8" r="0.84" fill="#4cbde6" opacity="0.33"/><circle cx="604.7" cy="547.8" r="1.69" fill="#4cbde6" opacity="0.49"/><circle cx="598.8" cy="550.3" r="0.89" fill="#4cbde6" opacity="0.32"/><circle cx="669.2" cy="533.9" r="1.18" fill="#4cbde6" opacity="0.56"/><circle cx="641.7" cy="572.3" r="1.64" fill="#4cbde6" opacity="0.54"/><circle cx="657.7" cy="505.0" r="0.88" fill="#4cbde6" opacity="0.69"/><circle cx="642.2" cy="564.0" r="1.83" fill="#4cbde6" opacity="0.43"/><circle cx="602.8" cy="547.7" r="1.88" fill="#4cbde6" opacity="0.49"/><circle cx="647.2" cy="535.2" r="1.02" fill="#4cbde6" opacity="0.72"/><circle cx="639.7" cy="557.7" r="1.53" fill="#4cbde6" opacity="0.58"/><circle cx="616.6" cy="573.1" r="0.78" fill="#4cbde6" opacity="0.32"/><circle cx="660.0" cy="515.7" r="0.80" fill="#4cbde6" opacity="0.69"/><circle cx="639.6" cy="530.2" r="1.32" fill="#4cbde6" opacity="0.44"/><circle cx="588.6" cy="545.3" r="1.30" fill="#4cbde6" opacity="0.69"/><circle cx="593.6" cy="549.9" r="0.88" fill="#4cbde6" opacity="0.47"/><circle cx="589.6" cy="558.9" r="1.21" fill="#4cbde6" opacity="0.59"/><circle cx="610.0" cy="558.6" r="1.78" fill="#4cbde6" opacity="0.71"/><circle cx="625.8" cy="550.9" r="0.97" fill="#4cbde6" opacity="0.47"/><circle cx="656.6" cy="566.6" r="1.60" fill="#4cbde6" opacity="0.70"/><circle cx="650.7" cy="560.1" r="0.70" fill="#4cbde6" opacity="0.38"/><circle cx="615.6" cy="527.3" r="0.74" fill="#4cbde6" opacity="0.42"/><circle cx="655.4" cy="544.9" r="1.31" fill="#4cbde6" opacity="0.59"/><circle cx="656.6" cy="520.2" r="1.16" fill="#4cbde6" opacity="0.46"/><circle cx="642.6" cy="536.3" r="1.20" fill="#4cbde6" opacity="0.53"/><circle cx="662.9" cy="539.4" r="0.97" fill="#4cbde6" opacity="0.73"/><circle cx="659.8" cy="525.3" r="0.82" fill="#4cbde6" opacity="0.45"/><circle cx="623.0" cy="532.9" r="1.22" fill="#4cbde6" opacity="0.33"/><circle cx="589.4" cy="547.1" r="0.99" fill="#4cbde6" opacity="0.48"/><circle cx="681.0" cy="545.9" r="1.04" fill="#4cbde6" opacity="0.43"/><circle cx="639.4" cy="518.0" r="1.50" fill="#4cbde6" opacity="0.33"/><circle cx="674.3" cy="505.4" r="1.78" fill="#4cbde6" opacity="0.35"/><circle cx="667.8" cy="589.0" r="1.81" fill="#4cbde6" opacity="0.44"/><circle cx="652.6" cy="523.6" r="1.61" fill="#4cbde6" opacity="0.67"/><circle cx="649.8" cy="570.2" r="1.10" fill="#4cbde6" opacity="0.73"/><circle cx="632.6" cy="528.2" r="0.74" fill="#4cbde6" opacity="0.71"/><circle cx="628.9" cy="556.0" r="1.62" fill="#4cbde6" opacity="0.61"/><circle cx="624.4" cy="513.2" r="1.26" fill="#4cbde6" opacity="0.48"/><circle cx="666.8" cy="535.1" r="1.61" fill="#4cbde6" opacity="0.35"/><circle cx="665.1" cy="571.3" r="1.32" fill="#4cbde6" opacity="0.61"/><circle cx="656.3" cy="548.0" r="1.41" fill="#4cbde6" opacity="0.46"/><circle cx="601.2" cy="569.3" r="0.87" fill="#4cbde6" opacity="0.32"/><circle cx="621.1" cy="548.5" r="0.67" fill="#4cbde6" opacity="0.35"/><circle cx="613.6" cy="548.6" r="0.72" fill="#4cbde6" opacity="0.44"/><circle cx="601.2" cy="554.0" r="1.09" fill="#4cbde6" opacity="0.61"/><circle cx="615.0" cy="561.7" r="1.45" fill="#4cbde6" opacity="0.43"/><circle cx="634.2" cy="545.8" r="1.90" fill="#4cbde6" opacity="0.42"/><circle cx="585.8" cy="549.4" r="1.40" fill="#4cbde6" opacity="0.33"/><circle cx="600.7" cy="547.1" r="1.09" fill="#4cbde6" opacity="0.45"/><circle cx="622.9" cy="556.7" r="1.61" fill="#4cbde6" opacity="0.47"/></g>
<rect x="320.5" y="167" width="8" height="88" fill="#222326"/>
<rect x="322" y="170" width="1.5" height="82" fill="#3e3f44"/>
<path d="M318,168 L331,168 L331,176 L318,176 Z" fill="#9a9aa0"/>
<path d="M318,170.5 L331,170.5 M318,173.5 L331,173.5" stroke="#444" stroke-width="0.7"/>
<path d="M320,245 L333,245 L333,254 L320,254 Z" fill="#9a9aa0"/>
<path d="M320,248 L333,248 M320,251 L333,251" stroke="#444" stroke-width="0.7"/>
<path d="M320,246 L324,249.5 L320,253 Z" fill="#222"/>
<rect x="300" y="185" width="21" height="22" fill="#2e2f33"/>
<path d="M256,159 C255,155.5 259.5,154.5 262,156.2 L273.5,175.5 L264,176 Z" fill="#1f2023"/>
<circle cx="258.8" cy="158" r="1.2" fill="#4a4b50"/>
<path d="M265,179.4 L295.2,173.6 L306,180 L308,205 L269.7,205 C266,203.5 263,198 262.8,192.2 Z" fill="#a0a0a4" stroke="#1e1f22" stroke-width="1"/>
<path d="M276,188.7 L308,187.5 L308,205 L268,205 C272,203 276,200 276,196 Z" fill="#313236"/>
<circle cx="272" cy="196.2" r="3.6" fill="#f6f6f6" stroke="#222" stroke-width="0.7"/>
<ellipse cx="274.3" cy="182.3" rx="3" ry="1.8" fill="#2196c0" stroke="#1a1a1a" stroke-width="0.6"/>
<circle cx="285.4" cy="180.6" r="1.5" fill="#2a2a2c"/>
<circle cx="266.2" cy="190.4" r="1.1" fill="#2a2a2c"/>
<path d="M290.6,175 L299.9,174.8 L301,186.4 L290.6,186.4 Z" fill="#2a2b2e"/>
<circle cx="293.5" cy="184" r="1.6" fill="#d8d8d8"/>
<path d="M289.4,150 C289.4,146.5 292,145.6 293.8,145.6 C296,145.6 298.1,146.5 298.1,150 L299.9,165 L310.3,170.1 L315.5,174.8 L317.5,186.4 L318.2,195 L316.8,241 L315,243 L313,240.5 L311,243 L309.3,241 L309.3,229 L311.5,227.5 L309.3,225.5 L309.3,213.5 L311.5,212 L309.3,210 L309.3,200 L311,198.8 L308.5,196.5 L306.8,187.5 L296.4,173.6 L290.3,163.2 Z" fill="#a9a8a6" stroke="#2a2b2e" stroke-width="0.9"/>
<path d="M289.6,150.5 C289.4,146.5 292,145.6 293.8,145.6 C296,145.6 298.1,146.5 297.9,150.5 Z" fill="#2aa6d0"/>
<circle cx="294" cy="153" r="0.9" fill="#444"/>
<circle cx="310.3" cy="179.4" r="2.6" fill="none" stroke="#555" stroke-width="0.7"/>
<line x1="133.2" y1="93.2" x2="57.4" y2="164.5" stroke="#55c6e2" stroke-width="0.95"/><line x1="265.6" y1="92.8" x2="211.5" y2="287.7" stroke="#55c6e2" stroke-width="0.95"/><line x1="296.8" y1="197" x2="211" y2="390.5" stroke="#55c6e2" stroke-width="0.95"/><line x1="364.3" y1="392.8" x2="211.7" y2="478.8" stroke="#55c6e2" stroke-width="0.95"/><line x1="356" y1="124.6" x2="479.1" y2="206.5" stroke="#55c6e2" stroke-width="0.95"/><line x1="454" y1="299.6" x2="479" y2="299.6" stroke="#55c6e2" stroke-width="0.95"/><line x1="454" y1="382" x2="479" y2="382" stroke="#55c6e2" stroke-width="0.95"/>
<circle cx="133.2" cy="93.2" r="2.9" fill="#2ec0ea"/>
<circle cx="265.6" cy="92.8" r="2.9" fill="#2ec0ea"/>
<circle cx="296.8" cy="197" r="2.9" fill="#2ec0ea"/>
<circle cx="364.3" cy="392.8" r="2.9" fill="#2ec0ea"/>
<circle cx="356" cy="124.6" r="2.9" fill="#2ec0ea"/>
<circle cx="454" cy="299.6" r="2.9" fill="#2ec0ea"/>
<circle cx="454" cy="382" r="2.9" fill="#2ec0ea"/>
<path d="M656.66,638.40 A18.6,18.6 0 1 0 658.86,657.71" fill="none" stroke="#2bc0ea" stroke-width="4.2" stroke-linecap="round"/>
<path d="M658.30,645.60 L660.24,639.24 A3.3,3.3 0 1 1 664.54,643.30 Z" fill="#2bc0ea"/>
<path d="M661.20,652.30 L652.69,654.40 A3.3,3.3 0 1 1 653.42,648.27 Z" fill="#2bc0ea"/>
<path d="M662.50,649.60 L669.04,653.33 A3.3,3.3 0 1 1 664.18,656.94 Z" fill="#2bc0ea"/></svg>
<div class="t" style="left:32.0px;top:30.13px;font-size:23px;line-height:23px;letter-spacing:-1.2px;color:#46c6e6;font-style:normal;font-weight:normal;">2<span style="letter-spacing:0">.</span></div>
<div class="t" style="left:54.0px;top:30.13px;font-size:23px;line-height:23px;letter-spacing:0.2px;color:#2a2c33;font-style:normal;font-weight:bold;"><span style="-webkit-text-stroke:0.35px #2a2c33">Ergonomie &amp; Simplicité</span></div>
<div class="t" style="left:57.6px;top:171.64px;font-size:13.3px;line-height:14.1px;letter-spacing:0.6px;color:#45474e;font-style:normal;font-weight:normal;-webkit-text-stroke:0.08px #45474e"><span style="letter-spacing:0.667px">Ergonomic handle</span></div>
<div class="t" style="left:57.6px;top:187.37px;font-size:9.6px;line-height:11.2px;letter-spacing:0.52px;color:#55575e;font-style:italic;font-weight:normal;"><span style="letter-spacing:0.529px">Power control and circuit</span><br><span style="letter-spacing:0.626px">breaker side-by-side</span><br><span style="letter-spacing:0.653px">for enhanced safety.</span></div>
<div class="t" style="left:57.6px;top:286.14px;font-size:13.3px;line-height:14.1px;letter-spacing:0.6px;color:#45474e;font-style:normal;font-weight:normal;-webkit-text-stroke:0.08px #45474e"><span style="letter-spacing:0.471px">Retractable tiller</span></div>
<div class="t" style="left:57.6px;top:302.02px;font-size:9.6px;line-height:11.1px;letter-spacing:0.52px;color:#55575e;font-style:italic;font-weight:normal;"><span style="letter-spacing:0.675px">Modular according</span><br><span style="letter-spacing:0.496px">to the use: propel and/or</span><br><span style="letter-spacing:0.527px">steer your boat.</span></div>
<div class="t" style="left:57.6px;top:369.04px;font-size:13.3px;line-height:14.1px;letter-spacing:0.6px;color:#45474e;font-style:normal;font-weight:normal;-webkit-text-stroke:0.08px #45474e"><span style="letter-spacing:0.611px">Innovative</span><br><span style="letter-spacing:1.04px">motor mount</span></div>
<div class="t" style="left:57.6px;top:398.07px;font-size:9.6px;line-height:11.6px;letter-spacing:0.52px;color:#55575e;font-style:italic;font-weight:normal;"><span style="letter-spacing:0.443px">3 possible positions and</span><br><span style="letter-spacing:0.63px">a rotating plate that</span><br><span style="letter-spacing:0.428px">can turn up to 360°</span></div>
<div class="t" style="left:57.6px;top:471.24px;font-size:13.3px;line-height:14.1px;letter-spacing:0.6px;color:#45474e;font-style:normal;font-weight:normal;-webkit-text-stroke:0.08px #45474e"><span style="letter-spacing:0.625px">Removable battery</span></div>
<div class="t" style="left:57.6px;top:486.77px;font-size:9.6px;line-height:11.2px;letter-spacing:0.52px;color:#55575e;font-style:italic;font-weight:normal;"><span style="letter-spacing:0.586px">Interchangeable cassette style</span><br><span style="letter-spacing:0.6px">batteries for greater range.</span></div>
<div class="t" style="left:491.8px;top:201.54px;font-size:13.3px;line-height:14.3px;letter-spacing:0.6px;color:#45474e;font-style:normal;font-weight:normal;-webkit-text-stroke:0.08px #45474e"><span style="letter-spacing:0.854px">Automatic battery-housing</span><br><span style="letter-spacing:0.963px">connector</span></div>
<div class="t" style="left:491.8px;top:231.47px;font-size:9.6px;line-height:11.2px;letter-spacing:0.52px;color:#55575e;font-style:italic;font-weight:normal;"><span style="letter-spacing:0.597px">No cable or connection required.</span></div>
<div class="t" style="left:491.8px;top:292.84px;font-size:13.3px;line-height:14.1px;letter-spacing:0.6px;color:#45474e;font-style:normal;font-weight:normal;-webkit-text-stroke:0.08px #45474e"><span style="letter-spacing:0.555px">Ergonomic &amp; streamlined</span></div>
<div class="t" style="left:491.8px;top:307.67px;font-size:9.6px;line-height:11.2px;letter-spacing:0.52px;color:#55575e;font-style:italic;font-weight:normal;"><span style="letter-spacing:0.446px">Also functions as a rudder.</span></div>
<div class="t" style="left:491.8px;top:376.04px;font-size:13.3px;line-height:13.9px;letter-spacing:0.6px;color:#45474e;font-style:normal;font-weight:normal;-webkit-text-stroke:0.08px #45474e"><span style="letter-spacing:0.665px">Lightweight &amp; compact</span><br><span style="letter-spacing:0.207px">(16 kg / 35 lbs. with battery)</span></div>
<div class="t" style="left:491.8px;top:405.42px;font-size:9.6px;line-height:10.9px;letter-spacing:0.52px;color:#55575e;font-style:italic;font-weight:normal;"><span style="letter-spacing:0.429px">Easy to transport and install thanks</span><br><span style="letter-spacing:0.686px">to composite materials and aluminum.</span></div>
<div class="t" style="left:31.0px;top:648.63px;font-size:26.9px;line-height:26.9px;letter-spacing:-0.7px;color:#42444b;font-style:normal;font-weight:normal;">TEMO</div>
<div class="t" style="left:107.4px;top:652.15px;font-size:11.4px;line-height:11.4px;letter-spacing:1.0px;color:#42444b;font-style:italic;font-weight:bold;">1000</div>
</body></html>
